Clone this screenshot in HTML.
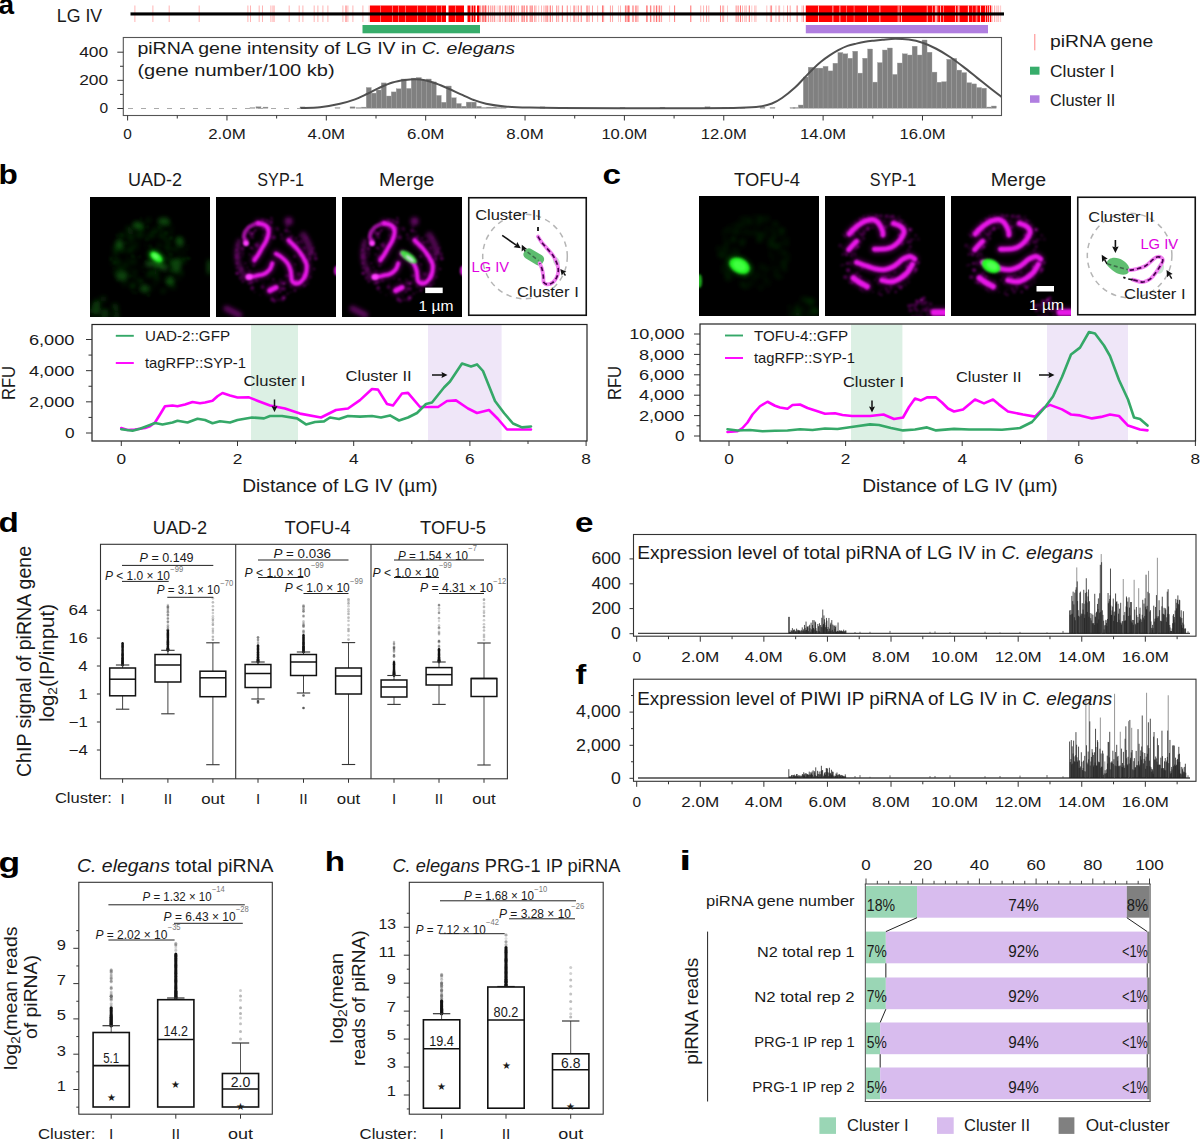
<!DOCTYPE html>
<html><head><meta charset="utf-8"><style>
html,body{margin:0;padding:0;background:#fff;}
svg{display:block;font-family:"Liberation Sans", sans-serif;}
</style></head><body>
<svg width="1200" height="1140" viewBox="0 0 1200 1140" fill="#1a1a1a">
<defs>
<filter id="b1" filterUnits="userSpaceOnUse" x="-20" y="-20" width="160" height="160"><feGaussianBlur stdDeviation="1.2"/></filter>
<filter id="b2" filterUnits="userSpaceOnUse" x="-20" y="-20" width="160" height="160"><feGaussianBlur stdDeviation="2.2"/></filter>
<filter id="b3" filterUnits="userSpaceOnUse" x="-20" y="-20" width="160" height="160"><feGaussianBlur stdDeviation="4"/></filter>
</defs>
<text x="-1.50" y="13.80" font-size="28" font-weight="bold" fill="#000">a</text>
<text x="56.80" y="22.10" font-size="18.8" textLength="45.40" lengthAdjust="spacingAndGlyphs">LG IV</text>
<rect x="505.91" y="5.5" width="0.8" height="16.5" fill="#ff3030" opacity="0.30"/>
<rect x="532.07" y="5.5" width="0.8" height="16.5" fill="#ff3030" opacity="0.28"/>
<rect x="522.87" y="5.5" width="0.8" height="16.5" fill="#ff3030" opacity="0.38"/>
<rect x="484.64" y="5.5" width="0.8" height="16.5" fill="#ff3030" opacity="0.43"/>
<rect x="483.00" y="5.5" width="0.8" height="16.5" fill="#ff3030" opacity="0.40"/>
<rect x="485.59" y="5.5" width="0.8" height="16.5" fill="#ff3030" opacity="0.28"/>
<rect x="513.96" y="5.5" width="0.8" height="16.5" fill="#ff3030" opacity="0.54"/>
<rect x="489.90" y="5.5" width="0.8" height="16.5" fill="#ff3030" opacity="0.33"/>
<rect x="530.19" y="5.5" width="0.8" height="16.5" fill="#ff3030" opacity="0.58"/>
<rect x="526.17" y="5.5" width="0.8" height="16.5" fill="#ff3030" opacity="0.39"/>
<rect x="558.10" y="5.5" width="0.8" height="16.5" fill="#ff3030" opacity="0.27"/>
<rect x="548.68" y="5.5" width="0.8" height="16.5" fill="#ff3030" opacity="0.35"/>
<rect x="491.54" y="5.5" width="0.8" height="16.5" fill="#ff3030" opacity="0.29"/>
<rect x="504.68" y="5.5" width="0.8" height="16.5" fill="#ff3030" opacity="0.54"/>
<rect x="494.46" y="5.5" width="0.8" height="16.5" fill="#ff3030" opacity="0.45"/>
<rect x="531.11" y="5.5" width="0.8" height="16.5" fill="#ff3030" opacity="0.38"/>
<rect x="523.82" y="5.5" width="0.8" height="16.5" fill="#ff3030" opacity="0.27"/>
<rect x="484.77" y="5.5" width="0.8" height="16.5" fill="#ff3030" opacity="0.32"/>
<rect x="534.43" y="5.5" width="0.8" height="16.5" fill="#ff3030" opacity="0.40"/>
<rect x="505.13" y="5.5" width="0.8" height="16.5" fill="#ff3030" opacity="0.45"/>
<rect x="516.25" y="5.5" width="0.8" height="16.5" fill="#ff3030" opacity="0.35"/>
<rect x="543.55" y="5.5" width="0.8" height="16.5" fill="#ff3030" opacity="0.49"/>
<rect x="499.53" y="5.5" width="0.8" height="16.5" fill="#ff3030" opacity="0.45"/>
<rect x="522.02" y="5.5" width="0.8" height="16.5" fill="#ff3030" opacity="0.56"/>
<rect x="538.36" y="5.5" width="0.8" height="16.5" fill="#ff3030" opacity="0.35"/>
<rect x="558.41" y="5.5" width="0.8" height="16.5" fill="#ff3030" opacity="0.29"/>
<rect x="513.45" y="5.5" width="0.8" height="16.5" fill="#ff3030" opacity="0.51"/>
<rect x="492.16" y="5.5" width="0.8" height="16.5" fill="#ff3030" opacity="0.42"/>
<rect x="483.14" y="5.5" width="0.8" height="16.5" fill="#ff3030" opacity="0.48"/>
<rect x="541.17" y="5.5" width="0.8" height="16.5" fill="#ff3030" opacity="0.45"/>
<rect x="550.04" y="5.5" width="0.8" height="16.5" fill="#ff3030" opacity="0.36"/>
<rect x="535.62" y="5.5" width="0.8" height="16.5" fill="#ff3030" opacity="0.46"/>
<rect x="526.39" y="5.5" width="0.8" height="16.5" fill="#ff3030" opacity="0.41"/>
<rect x="547.20" y="5.5" width="0.8" height="16.5" fill="#ff3030" opacity="0.58"/>
<rect x="517.93" y="5.5" width="0.8" height="16.5" fill="#ff3030" opacity="0.48"/>
<rect x="484.85" y="5.5" width="0.8" height="16.5" fill="#ff3030" opacity="0.50"/>
<rect x="531.77" y="5.5" width="0.8" height="16.5" fill="#ff3030" opacity="0.60"/>
<rect x="545.75" y="5.5" width="0.8" height="16.5" fill="#ff3030" opacity="0.35"/>
<rect x="510.86" y="5.5" width="0.8" height="16.5" fill="#ff3030" opacity="0.48"/>
<rect x="481.81" y="5.5" width="0.8" height="16.5" fill="#ff3030" opacity="0.41"/>
<rect x="493.44" y="5.5" width="0.8" height="16.5" fill="#ff3030" opacity="0.29"/>
<rect x="484.72" y="5.5" width="0.8" height="16.5" fill="#ff3030" opacity="0.52"/>
<rect x="490.35" y="5.5" width="0.8" height="16.5" fill="#ff3030" opacity="0.34"/>
<rect x="511.28" y="5.5" width="0.8" height="16.5" fill="#ff3030" opacity="0.55"/>
<rect x="486.45" y="5.5" width="0.8" height="16.5" fill="#ff3030" opacity="0.41"/>
<rect x="523.96" y="5.5" width="0.8" height="16.5" fill="#ff3030" opacity="0.56"/>
<rect x="545.54" y="5.5" width="0.8" height="16.5" fill="#ff3030" opacity="0.55"/>
<rect x="502.27" y="5.5" width="0.8" height="16.5" fill="#ff3030" opacity="0.40"/>
<rect x="508.70" y="5.5" width="0.8" height="16.5" fill="#ff3030" opacity="0.56"/>
<rect x="556.62" y="5.5" width="0.8" height="16.5" fill="#ff3030" opacity="0.30"/>
<rect x="494.10" y="5.5" width="0.8" height="16.5" fill="#ff3030" opacity="0.33"/>
<rect x="498.67" y="5.5" width="0.8" height="16.5" fill="#ff3030" opacity="0.42"/>
<rect x="527.13" y="5.5" width="0.8" height="16.5" fill="#ff3030" opacity="0.34"/>
<rect x="480.33" y="5.5" width="0.8" height="16.5" fill="#ff3030" opacity="0.40"/>
<rect x="509.54" y="5.5" width="0.8" height="16.5" fill="#ff3030" opacity="0.45"/>
<rect x="556.25" y="5.5" width="0.8" height="16.5" fill="#ff3030" opacity="0.49"/>
<rect x="521.24" y="5.5" width="0.8" height="16.5" fill="#ff3030" opacity="0.47"/>
<rect x="534.10" y="5.5" width="0.8" height="16.5" fill="#ff3030" opacity="0.27"/>
<rect x="551.96" y="5.5" width="0.8" height="16.5" fill="#ff3030" opacity="0.52"/>
<rect x="549.96" y="5.5" width="0.8" height="16.5" fill="#ff3030" opacity="0.53"/>
<rect x="511.39" y="5.5" width="0.8" height="16.5" fill="#ff3030" opacity="0.39"/>
<rect x="488.28" y="5.5" width="0.8" height="16.5" fill="#ff3030" opacity="0.47"/>
<rect x="484.98" y="5.5" width="0.8" height="16.5" fill="#ff3030" opacity="0.27"/>
<rect x="496.70" y="5.5" width="0.8" height="16.5" fill="#ff3030" opacity="0.31"/>
<rect x="507.20" y="5.5" width="0.8" height="16.5" fill="#ff3030" opacity="0.27"/>
<rect x="480.02" y="5.5" width="0.8" height="16.5" fill="#ff3030" opacity="0.30"/>
<rect x="488.12" y="5.5" width="0.8" height="16.5" fill="#ff3030" opacity="0.38"/>
<rect x="482.04" y="5.5" width="0.8" height="16.5" fill="#ff3030" opacity="0.56"/>
<rect x="529.13" y="5.5" width="0.8" height="16.5" fill="#ff3030" opacity="0.30"/>
<rect x="500.18" y="5.5" width="0.8" height="16.5" fill="#ff3030" opacity="0.37"/>
<rect x="589.13" y="5.5" width="0.8" height="16.5" fill="#ff3030" opacity="0.29"/>
<rect x="627.91" y="5.5" width="0.8" height="16.5" fill="#ff3030" opacity="0.60"/>
<rect x="597.28" y="5.5" width="0.8" height="16.5" fill="#ff3030" opacity="0.42"/>
<rect x="566.87" y="5.5" width="0.8" height="16.5" fill="#ff3030" opacity="0.29"/>
<rect x="587.41" y="5.5" width="0.8" height="16.5" fill="#ff3030" opacity="0.34"/>
<rect x="626.31" y="5.5" width="0.8" height="16.5" fill="#ff3030" opacity="0.31"/>
<rect x="561.85" y="5.5" width="0.8" height="16.5" fill="#ff3030" opacity="0.58"/>
<rect x="602.26" y="5.5" width="0.8" height="16.5" fill="#ff3030" opacity="0.30"/>
<rect x="603.45" y="5.5" width="0.8" height="16.5" fill="#ff3030" opacity="0.26"/>
<rect x="602.25" y="5.5" width="0.8" height="16.5" fill="#ff3030" opacity="0.59"/>
<rect x="629.07" y="5.5" width="0.8" height="16.5" fill="#ff3030" opacity="0.49"/>
<rect x="580.89" y="5.5" width="0.8" height="16.5" fill="#ff3030" opacity="0.38"/>
<rect x="573.36" y="5.5" width="0.8" height="16.5" fill="#ff3030" opacity="0.52"/>
<rect x="602.61" y="5.5" width="0.8" height="16.5" fill="#ff3030" opacity="0.52"/>
<rect x="586.37" y="5.5" width="0.8" height="16.5" fill="#ff3030" opacity="0.33"/>
<rect x="624.92" y="5.5" width="0.8" height="16.5" fill="#ff3030" opacity="0.59"/>
<rect x="628.21" y="5.5" width="0.8" height="16.5" fill="#ff3030" opacity="0.53"/>
<rect x="625.47" y="5.5" width="0.8" height="16.5" fill="#ff3030" opacity="0.51"/>
<rect x="578.14" y="5.5" width="0.8" height="16.5" fill="#ff3030" opacity="0.43"/>
<rect x="588.45" y="5.5" width="0.8" height="16.5" fill="#ff3030" opacity="0.26"/>
<rect x="562.23" y="5.5" width="0.8" height="16.5" fill="#ff3030" opacity="0.35"/>
<rect x="580.73" y="5.5" width="0.8" height="16.5" fill="#ff3030" opacity="0.49"/>
<rect x="636.52" y="5.5" width="0.8" height="16.5" fill="#ff3030" opacity="0.41"/>
<rect x="634.96" y="5.5" width="0.8" height="16.5" fill="#ff3030" opacity="0.60"/>
<rect x="636.40" y="5.5" width="0.8" height="16.5" fill="#ff3030" opacity="0.38"/>
<rect x="577.64" y="5.5" width="0.8" height="16.5" fill="#ff3030" opacity="0.33"/>
<rect x="575.74" y="5.5" width="0.8" height="16.5" fill="#ff3030" opacity="0.32"/>
<rect x="609.93" y="5.5" width="0.8" height="16.5" fill="#ff3030" opacity="0.57"/>
<rect x="627.23" y="5.5" width="0.8" height="16.5" fill="#ff3030" opacity="0.42"/>
<rect x="612.24" y="5.5" width="0.8" height="16.5" fill="#ff3030" opacity="0.53"/>
<rect x="566.78" y="5.5" width="0.8" height="16.5" fill="#ff3030" opacity="0.48"/>
<rect x="632.78" y="5.5" width="0.8" height="16.5" fill="#ff3030" opacity="0.52"/>
<rect x="620.01" y="5.5" width="0.8" height="16.5" fill="#ff3030" opacity="0.42"/>
<rect x="574.28" y="5.5" width="0.8" height="16.5" fill="#ff3030" opacity="0.53"/>
<rect x="586.60" y="5.5" width="0.8" height="16.5" fill="#ff3030" opacity="0.53"/>
<rect x="637.73" y="5.5" width="0.8" height="16.5" fill="#ff3030" opacity="0.39"/>
<rect x="592.11" y="5.5" width="0.8" height="16.5" fill="#ff3030" opacity="0.58"/>
<rect x="617.98" y="5.5" width="0.8" height="16.5" fill="#ff3030" opacity="0.31"/>
<rect x="570.16" y="5.5" width="0.8" height="16.5" fill="#ff3030" opacity="0.30"/>
<rect x="632.39" y="5.5" width="0.8" height="16.5" fill="#ff3030" opacity="0.53"/>
<rect x="646.82" y="5.5" width="0.8" height="16.5" fill="#ff3030" opacity="0.54"/>
<rect x="674.35" y="5.5" width="0.8" height="16.5" fill="#ff3030" opacity="0.48"/>
<rect x="653.56" y="5.5" width="0.8" height="16.5" fill="#ff3030" opacity="0.44"/>
<rect x="646.32" y="5.5" width="0.8" height="16.5" fill="#ff3030" opacity="0.25"/>
<rect x="674.04" y="5.5" width="0.8" height="16.5" fill="#ff3030" opacity="0.48"/>
<rect x="659.38" y="5.5" width="0.8" height="16.5" fill="#ff3030" opacity="0.58"/>
<rect x="656.32" y="5.5" width="0.8" height="16.5" fill="#ff3030" opacity="0.56"/>
<rect x="669.26" y="5.5" width="0.8" height="16.5" fill="#ff3030" opacity="0.32"/>
<rect x="650.31" y="5.5" width="0.8" height="16.5" fill="#ff3030" opacity="0.35"/>
<rect x="649.94" y="5.5" width="0.8" height="16.5" fill="#ff3030" opacity="0.46"/>
<rect x="650.56" y="5.5" width="0.8" height="16.5" fill="#ff3030" opacity="0.40"/>
<rect x="646.33" y="5.5" width="0.8" height="16.5" fill="#ff3030" opacity="0.57"/>
<rect x="653.67" y="5.5" width="0.8" height="16.5" fill="#ff3030" opacity="0.41"/>
<rect x="661.25" y="5.5" width="0.8" height="16.5" fill="#ff3030" opacity="0.57"/>
<rect x="655.88" y="5.5" width="0.8" height="16.5" fill="#ff3030" opacity="0.57"/>
<rect x="658.55" y="5.5" width="0.8" height="16.5" fill="#ff3030" opacity="0.44"/>
<rect x="659.28" y="5.5" width="0.8" height="16.5" fill="#ff3030" opacity="0.26"/>
<rect x="656.52" y="5.5" width="0.8" height="16.5" fill="#ff3030" opacity="0.31"/>
<rect x="690.02" y="5.5" width="0.8" height="16.5" fill="#ff3030" opacity="0.53"/>
<rect x="690.69" y="5.5" width="0.8" height="16.5" fill="#ff3030" opacity="0.42"/>
<rect x="708.43" y="5.5" width="0.8" height="16.5" fill="#ff3030" opacity="0.44"/>
<rect x="703.24" y="5.5" width="0.8" height="16.5" fill="#ff3030" opacity="0.43"/>
<rect x="706.22" y="5.5" width="0.8" height="16.5" fill="#ff3030" opacity="0.52"/>
<rect x="700.38" y="5.5" width="0.8" height="16.5" fill="#ff3030" opacity="0.45"/>
<rect x="727.19" y="5.5" width="0.8" height="16.5" fill="#ff3030" opacity="0.35"/>
<rect x="748.66" y="5.5" width="0.8" height="16.5" fill="#ff3030" opacity="0.43"/>
<rect x="740.03" y="5.5" width="0.8" height="16.5" fill="#ff3030" opacity="0.52"/>
<rect x="754.41" y="5.5" width="0.8" height="16.5" fill="#ff3030" opacity="0.41"/>
<rect x="742.11" y="5.5" width="0.8" height="16.5" fill="#ff3030" opacity="0.43"/>
<rect x="738.00" y="5.5" width="0.8" height="16.5" fill="#ff3030" opacity="0.49"/>
<rect x="735.55" y="5.5" width="0.8" height="16.5" fill="#ff3030" opacity="0.44"/>
<rect x="736.60" y="5.5" width="0.8" height="16.5" fill="#ff3030" opacity="0.58"/>
<rect x="745.67" y="5.5" width="0.8" height="16.5" fill="#ff3030" opacity="0.56"/>
<rect x="755.63" y="5.5" width="0.8" height="16.5" fill="#ff3030" opacity="0.34"/>
<rect x="739.94" y="5.5" width="0.8" height="16.5" fill="#ff3030" opacity="0.58"/>
<rect x="751.44" y="5.5" width="0.8" height="16.5" fill="#ff3030" opacity="0.30"/>
<rect x="721.99" y="5.5" width="0.8" height="16.5" fill="#ff3030" opacity="0.40"/>
<rect x="719.97" y="5.5" width="0.8" height="16.5" fill="#ff3030" opacity="0.33"/>
<rect x="720.00" y="5.5" width="0.8" height="16.5" fill="#ff3030" opacity="0.48"/>
<rect x="749.14" y="5.5" width="0.8" height="16.5" fill="#ff3030" opacity="0.56"/>
<rect x="723.33" y="5.5" width="0.8" height="16.5" fill="#ff3030" opacity="0.50"/>
<rect x="744.07" y="5.5" width="0.8" height="16.5" fill="#ff3030" opacity="0.30"/>
<rect x="787.19" y="5.5" width="0.8" height="16.5" fill="#ff3030" opacity="0.59"/>
<rect x="771.27" y="5.5" width="0.8" height="16.5" fill="#ff3030" opacity="0.58"/>
<rect x="775.56" y="5.5" width="0.8" height="16.5" fill="#ff3030" opacity="0.42"/>
<rect x="789.76" y="5.5" width="0.8" height="16.5" fill="#ff3030" opacity="0.54"/>
<rect x="769.88" y="5.5" width="0.8" height="16.5" fill="#ff3030" opacity="0.40"/>
<rect x="778.37" y="5.5" width="0.8" height="16.5" fill="#ff3030" opacity="0.37"/>
<rect x="770.70" y="5.5" width="0.8" height="16.5" fill="#ff3030" opacity="0.36"/>
<rect x="783.33" y="5.5" width="0.8" height="16.5" fill="#ff3030" opacity="0.26"/>
<rect x="779.30" y="5.5" width="0.8" height="16.5" fill="#ff3030" opacity="0.40"/>
<rect x="766.43" y="5.5" width="0.8" height="16.5" fill="#ff3030" opacity="0.37"/>
<rect x="801.62" y="5.5" width="0.8" height="16.5" fill="#ff3030" opacity="0.43"/>
<rect x="796.58" y="5.5" width="0.8" height="16.5" fill="#ff3030" opacity="0.59"/>
<rect x="803.10" y="5.5" width="0.8" height="16.5" fill="#ff3030" opacity="0.59"/>
<rect x="796.94" y="5.5" width="0.8" height="16.5" fill="#ff3030" opacity="0.34"/>
<rect x="988.59" y="5.5" width="0.8" height="16.5" fill="#ff3030" opacity="0.52"/>
<rect x="992.06" y="5.5" width="0.8" height="16.5" fill="#ff3030" opacity="0.30"/>
<rect x="994.33" y="5.5" width="0.8" height="16.5" fill="#ff3030" opacity="0.57"/>
<rect x="1000.28" y="5.5" width="0.8" height="16.5" fill="#ff3030" opacity="0.34"/>
<rect x="990.24" y="5.5" width="0.8" height="16.5" fill="#ff3030" opacity="0.57"/>
<rect x="996.56" y="5.5" width="0.8" height="16.5" fill="#ff3030" opacity="0.50"/>
<rect x="989.34" y="5.5" width="0.8" height="16.5" fill="#ff3030" opacity="0.27"/>
<rect x="998.32" y="5.5" width="0.8" height="16.5" fill="#ff3030" opacity="0.40"/>
<rect x="134.50" y="5.5" width="0.8" height="16.5" fill="#ff3030" opacity="0.45"/>
<rect x="152.50" y="5.5" width="0.8" height="16.5" fill="#ff3030" opacity="0.45"/>
<rect x="168.75" y="5.5" width="0.8" height="16.5" fill="#ff3030" opacity="0.45"/>
<rect x="198.75" y="5.5" width="0.8" height="16.5" fill="#ff3030" opacity="0.45"/>
<rect x="247.50" y="5.5" width="0.8" height="16.5" fill="#ff3030" opacity="0.45"/>
<rect x="250.00" y="5.5" width="0.8" height="16.5" fill="#ff3030" opacity="0.45"/>
<rect x="258.75" y="5.5" width="0.8" height="16.5" fill="#ff3030" opacity="0.45"/>
<rect x="262.00" y="5.5" width="0.8" height="16.5" fill="#ff3030" opacity="0.45"/>
<rect x="270.50" y="5.5" width="0.8" height="16.5" fill="#ff3030" opacity="0.45"/>
<rect x="272.50" y="5.5" width="0.8" height="16.5" fill="#ff3030" opacity="0.45"/>
<rect x="273.75" y="5.5" width="0.8" height="16.5" fill="#ff3030" opacity="0.45"/>
<rect x="288.75" y="5.5" width="0.8" height="16.5" fill="#ff3030" opacity="0.45"/>
<rect x="298.75" y="5.5" width="0.8" height="16.5" fill="#ff3030" opacity="0.45"/>
<rect x="302.50" y="5.5" width="0.8" height="16.5" fill="#ff3030" opacity="0.45"/>
<rect x="313.75" y="5.5" width="0.8" height="16.5" fill="#ff3030" opacity="0.45"/>
<rect x="317.50" y="5.5" width="0.8" height="16.5" fill="#ff3030" opacity="0.45"/>
<rect x="322.50" y="5.5" width="0.8" height="16.5" fill="#ff3030" opacity="0.45"/>
<rect x="327.50" y="5.5" width="0.8" height="16.5" fill="#ff3030" opacity="0.45"/>
<rect x="342.50" y="5.5" width="0.8" height="16.5" fill="#ff3030" opacity="0.45"/>
<rect x="345.00" y="5.5" width="0.8" height="16.5" fill="#ff3030" opacity="0.45"/>
<rect x="346.00" y="5.5" width="0.8" height="16.5" fill="#ff3030" opacity="0.45"/>
<rect x="347.50" y="5.5" width="0.8" height="16.5" fill="#ff3030" opacity="0.45"/>
<rect x="352.50" y="5.5" width="0.8" height="16.5" fill="#ff3030" opacity="0.45"/>
<rect x="362.50" y="5.5" width="0.8" height="16.5" fill="#ff3030" opacity="0.45"/>
<rect x="368.75" y="5.5" width="0.8" height="16.5" fill="#ff3030" opacity="0.45"/>
<rect x="370.00" y="5.50" width="76.00" height="16.50" fill="#ff0000"/>
<rect x="448.50" y="5.50" width="15.50" height="16.50" fill="#ff0000"/>
<rect x="467.50" y="5.50" width="3.00" height="16.50" fill="#ff0000"/>
<rect x="471.50" y="5.50" width="2.00" height="16.50" fill="#ff0000"/>
<rect x="474.00" y="5.50" width="1.50" height="16.50" fill="#ff0000"/>
<rect x="477.00" y="5.50" width="2.50" height="16.50" fill="#ff0000"/>
<rect x="805.80" y="5.50" width="185.50" height="16.50" fill="#ff0000"/>
<rect x="818.00" y="5.50" width="0.80" height="16.50" fill="#fff" opacity="0.85"/>
<rect x="832.50" y="5.50" width="0.80" height="16.50" fill="#fff" opacity="0.85"/>
<rect x="839.50" y="5.50" width="0.80" height="16.50" fill="#fff" opacity="0.85"/>
<rect x="867.00" y="5.50" width="0.80" height="16.50" fill="#fff" opacity="0.85"/>
<rect x="879.50" y="5.50" width="0.80" height="16.50" fill="#fff" opacity="0.85"/>
<rect x="901.00" y="5.50" width="0.80" height="16.50" fill="#fff" opacity="0.85"/>
<rect x="940.00" y="5.50" width="0.80" height="16.50" fill="#fff" opacity="0.85"/>
<rect x="955.00" y="5.50" width="0.80" height="16.50" fill="#fff" opacity="0.85"/>
<rect x="968.00" y="5.50" width="0.80" height="16.50" fill="#fff" opacity="0.85"/>
<rect x="980.00" y="5.50" width="0.80" height="16.50" fill="#fff" opacity="0.85"/>
<rect x="985.00" y="5.50" width="0.80" height="16.50" fill="#fff" opacity="0.85"/>
<rect x="846.41" y="5.50" width="0.54" height="16.50" fill="#fff" opacity="0.73"/>
<rect x="958.57" y="5.50" width="0.73" height="16.50" fill="#fff" opacity="0.64"/>
<rect x="967.84" y="5.50" width="0.70" height="16.50" fill="#fff" opacity="0.74"/>
<rect x="987.43" y="5.50" width="0.50" height="16.50" fill="#fff" opacity="0.73"/>
<rect x="980.14" y="5.50" width="0.51" height="16.50" fill="#fff" opacity="0.53"/>
<rect x="976.72" y="5.50" width="0.72" height="16.50" fill="#fff" opacity="0.48"/>
<rect x="934.86" y="5.50" width="0.52" height="16.50" fill="#fff" opacity="0.62"/>
<rect x="972.26" y="5.50" width="0.45" height="16.50" fill="#fff" opacity="0.74"/>
<rect x="897.72" y="5.50" width="0.85" height="16.50" fill="#fff" opacity="0.74"/>
<rect x="957.67" y="5.50" width="0.45" height="16.50" fill="#fff" opacity="0.71"/>
<rect x="936.39" y="5.50" width="0.67" height="16.50" fill="#fff" opacity="0.71"/>
<rect x="937.29" y="5.50" width="0.96" height="16.50" fill="#fff" opacity="0.42"/>
<rect x="926.78" y="5.50" width="0.85" height="16.50" fill="#fff" opacity="0.78"/>
<rect x="943.15" y="5.50" width="0.68" height="16.50" fill="#fff" opacity="0.70"/>
<rect x="853.66" y="5.50" width="0.97" height="16.50" fill="#fff" opacity="0.41"/>
<rect x="932.37" y="5.50" width="0.61" height="16.50" fill="#fff" opacity="0.80"/>
<rect x="989.14" y="5.50" width="0.94" height="16.50" fill="#fff" opacity="0.68"/>
<rect x="958.29" y="5.50" width="0.82" height="16.50" fill="#fff" opacity="0.44"/>
<rect x="935.51" y="5.50" width="0.91" height="16.50" fill="#fff" opacity="0.77"/>
<rect x="899.09" y="5.50" width="0.75" height="16.50" fill="#fff" opacity="0.42"/>
<rect x="975.64" y="5.50" width="0.85" height="16.50" fill="#fff" opacity="0.41"/>
<rect x="935.29" y="5.50" width="0.95" height="16.50" fill="#fff" opacity="0.45"/>
<rect x="958.55" y="5.50" width="0.93" height="16.50" fill="#fff" opacity="0.45"/>
<rect x="976.32" y="5.50" width="0.45" height="16.50" fill="#fff" opacity="0.47"/>
<rect x="987.50" y="5.50" width="0.54" height="16.50" fill="#fff" opacity="0.60"/>
<rect x="988.89" y="5.50" width="0.83" height="16.50" fill="#fff" opacity="0.64"/>
<rect x="380.00" y="5.50" width="0.70" height="16.50" fill="#fff" opacity="0.6"/>
<rect x="392.00" y="5.50" width="0.70" height="16.50" fill="#fff" opacity="0.6"/>
<rect x="398.00" y="5.50" width="0.70" height="16.50" fill="#fff" opacity="0.6"/>
<rect x="405.00" y="5.50" width="0.70" height="16.50" fill="#fff" opacity="0.6"/>
<rect x="417.00" y="5.50" width="0.70" height="16.50" fill="#fff" opacity="0.6"/>
<rect x="426.00" y="5.50" width="0.70" height="16.50" fill="#fff" opacity="0.6"/>
<rect x="436.00" y="5.50" width="0.70" height="16.50" fill="#fff" opacity="0.6"/>
<rect x="441.00" y="5.50" width="0.70" height="16.50" fill="#fff" opacity="0.6"/>
<rect x="455.00" y="5.50" width="0.70" height="16.50" fill="#fff" opacity="0.6"/>
<rect x="130.50" y="12.40" width="873.50" height="3.10" fill="#000"/>
<rect x="362.50" y="25.00" width="117.50" height="8.30" fill="#37ad6b"/>
<rect x="805.80" y="25.00" width="182.20" height="8.30" fill="#b07ee0"/>
<rect x="361.25" y="107.10" width="5" height="1.20" fill="#808080" stroke="#a0a0a0" stroke-width="0.35"/>
<rect x="366.25" y="87.50" width="5" height="20.80" fill="#808080" stroke="#a0a0a0" stroke-width="0.35"/>
<rect x="371.25" y="93.10" width="5" height="15.20" fill="#808080" stroke="#a0a0a0" stroke-width="0.35"/>
<rect x="376.25" y="90.00" width="5" height="18.30" fill="#808080" stroke="#a0a0a0" stroke-width="0.35"/>
<rect x="381.25" y="82.90" width="5" height="25.40" fill="#808080" stroke="#a0a0a0" stroke-width="0.35"/>
<rect x="386.25" y="96.00" width="5" height="12.30" fill="#808080" stroke="#a0a0a0" stroke-width="0.35"/>
<rect x="391.25" y="91.90" width="5" height="16.40" fill="#808080" stroke="#a0a0a0" stroke-width="0.35"/>
<rect x="396.25" y="88.75" width="5" height="19.55" fill="#808080" stroke="#a0a0a0" stroke-width="0.35"/>
<rect x="401.25" y="79.00" width="5" height="29.30" fill="#808080" stroke="#a0a0a0" stroke-width="0.35"/>
<rect x="406.25" y="88.40" width="5" height="19.90" fill="#808080" stroke="#a0a0a0" stroke-width="0.35"/>
<rect x="411.25" y="78.10" width="5" height="30.20" fill="#808080" stroke="#a0a0a0" stroke-width="0.35"/>
<rect x="416.25" y="77.50" width="5" height="30.80" fill="#808080" stroke="#a0a0a0" stroke-width="0.35"/>
<rect x="421.25" y="80.25" width="5" height="28.05" fill="#808080" stroke="#a0a0a0" stroke-width="0.35"/>
<rect x="426.25" y="79.00" width="5" height="29.30" fill="#808080" stroke="#a0a0a0" stroke-width="0.35"/>
<rect x="431.25" y="81.90" width="5" height="26.40" fill="#808080" stroke="#a0a0a0" stroke-width="0.35"/>
<rect x="436.25" y="95.40" width="5" height="12.90" fill="#808080" stroke="#a0a0a0" stroke-width="0.35"/>
<rect x="441.25" y="102.25" width="5" height="6.05" fill="#808080" stroke="#a0a0a0" stroke-width="0.35"/>
<rect x="446.25" y="86.00" width="5" height="22.30" fill="#808080" stroke="#a0a0a0" stroke-width="0.35"/>
<rect x="451.25" y="97.75" width="5" height="10.55" fill="#808080" stroke="#a0a0a0" stroke-width="0.35"/>
<rect x="456.25" y="103.50" width="5" height="4.80" fill="#808080" stroke="#a0a0a0" stroke-width="0.35"/>
<rect x="461.25" y="106.25" width="5" height="2.05" fill="#808080" stroke="#a0a0a0" stroke-width="0.35"/>
<rect x="466.25" y="102.10" width="5" height="6.20" fill="#808080" stroke="#a0a0a0" stroke-width="0.35"/>
<rect x="471.25" y="102.10" width="5" height="6.20" fill="#808080" stroke="#a0a0a0" stroke-width="0.35"/>
<rect x="476.25" y="106.25" width="5" height="2.05" fill="#808080" stroke="#a0a0a0" stroke-width="0.35"/>
<rect x="481.25" y="107.50" width="5" height="0.80" fill="#808080" stroke="#a0a0a0" stroke-width="0.35"/>
<rect x="486.25" y="107.10" width="5" height="1.20" fill="#808080" stroke="#a0a0a0" stroke-width="0.35"/>
<rect x="491.25" y="107.10" width="5" height="1.20" fill="#808080" stroke="#a0a0a0" stroke-width="0.35"/>
<rect x="496.25" y="107.60" width="5" height="0.70" fill="#808080" stroke="#a0a0a0" stroke-width="0.35"/>
<rect x="501.25" y="107.50" width="5" height="0.80" fill="#808080" stroke="#a0a0a0" stroke-width="0.35"/>
<rect x="798.30" y="105.00" width="5" height="3.30" fill="#808080" stroke="#a0a0a0" stroke-width="0.35"/>
<rect x="803.25" y="77.00" width="5" height="31.30" fill="#808080" stroke="#a0a0a0" stroke-width="0.35"/>
<rect x="808.20" y="67.20" width="5" height="41.10" fill="#808080" stroke="#a0a0a0" stroke-width="0.35"/>
<rect x="813.15" y="68.10" width="5" height="40.20" fill="#808080" stroke="#a0a0a0" stroke-width="0.35"/>
<rect x="818.10" y="68.10" width="5" height="40.20" fill="#808080" stroke="#a0a0a0" stroke-width="0.35"/>
<rect x="823.05" y="66.30" width="5" height="42.00" fill="#808080" stroke="#a0a0a0" stroke-width="0.35"/>
<rect x="828.00" y="70.90" width="5" height="37.40" fill="#808080" stroke="#a0a0a0" stroke-width="0.35"/>
<rect x="832.95" y="63.20" width="5" height="45.10" fill="#808080" stroke="#a0a0a0" stroke-width="0.35"/>
<rect x="837.90" y="52.50" width="5" height="55.80" fill="#808080" stroke="#a0a0a0" stroke-width="0.35"/>
<rect x="842.85" y="53.80" width="5" height="54.50" fill="#808080" stroke="#a0a0a0" stroke-width="0.35"/>
<rect x="847.80" y="58.20" width="5" height="50.10" fill="#808080" stroke="#a0a0a0" stroke-width="0.35"/>
<rect x="852.75" y="51.20" width="5" height="57.10" fill="#808080" stroke="#a0a0a0" stroke-width="0.35"/>
<rect x="857.70" y="73.10" width="5" height="35.20" fill="#808080" stroke="#a0a0a0" stroke-width="0.35"/>
<rect x="862.65" y="58.20" width="5" height="50.10" fill="#808080" stroke="#a0a0a0" stroke-width="0.35"/>
<rect x="867.60" y="49.00" width="5" height="59.30" fill="#808080" stroke="#a0a0a0" stroke-width="0.35"/>
<rect x="872.55" y="82.10" width="5" height="26.20" fill="#808080" stroke="#a0a0a0" stroke-width="0.35"/>
<rect x="877.50" y="62.60" width="5" height="45.70" fill="#808080" stroke="#a0a0a0" stroke-width="0.35"/>
<rect x="882.45" y="50.00" width="5" height="58.30" fill="#808080" stroke="#a0a0a0" stroke-width="0.35"/>
<rect x="887.40" y="48.00" width="5" height="60.30" fill="#808080" stroke="#a0a0a0" stroke-width="0.35"/>
<rect x="892.35" y="74.40" width="5" height="33.90" fill="#808080" stroke="#a0a0a0" stroke-width="0.35"/>
<rect x="897.30" y="63.00" width="5" height="45.30" fill="#808080" stroke="#a0a0a0" stroke-width="0.35"/>
<rect x="902.25" y="53.80" width="5" height="54.50" fill="#808080" stroke="#a0a0a0" stroke-width="0.35"/>
<rect x="907.20" y="55.00" width="5" height="53.30" fill="#808080" stroke="#a0a0a0" stroke-width="0.35"/>
<rect x="912.15" y="46.20" width="5" height="62.10" fill="#808080" stroke="#a0a0a0" stroke-width="0.35"/>
<rect x="917.10" y="55.00" width="5" height="53.30" fill="#808080" stroke="#a0a0a0" stroke-width="0.35"/>
<rect x="922.05" y="40.00" width="5" height="68.30" fill="#808080" stroke="#a0a0a0" stroke-width="0.35"/>
<rect x="927.00" y="52.20" width="5" height="56.10" fill="#808080" stroke="#a0a0a0" stroke-width="0.35"/>
<rect x="931.95" y="72.10" width="5" height="36.20" fill="#808080" stroke="#a0a0a0" stroke-width="0.35"/>
<rect x="936.90" y="82.20" width="5" height="26.10" fill="#808080" stroke="#a0a0a0" stroke-width="0.35"/>
<rect x="941.85" y="81.70" width="5" height="26.60" fill="#808080" stroke="#a0a0a0" stroke-width="0.35"/>
<rect x="946.80" y="59.30" width="5" height="49.00" fill="#808080" stroke="#a0a0a0" stroke-width="0.35"/>
<rect x="951.75" y="58.40" width="5" height="49.90" fill="#808080" stroke="#a0a0a0" stroke-width="0.35"/>
<rect x="956.70" y="70.10" width="5" height="38.20" fill="#808080" stroke="#a0a0a0" stroke-width="0.35"/>
<rect x="961.65" y="72.60" width="5" height="35.70" fill="#808080" stroke="#a0a0a0" stroke-width="0.35"/>
<rect x="966.60" y="82.70" width="5" height="25.60" fill="#808080" stroke="#a0a0a0" stroke-width="0.35"/>
<rect x="971.55" y="83.90" width="5" height="24.40" fill="#808080" stroke="#a0a0a0" stroke-width="0.35"/>
<rect x="976.50" y="87.50" width="5" height="20.80" fill="#808080" stroke="#a0a0a0" stroke-width="0.35"/>
<rect x="981.45" y="88.20" width="5" height="20.10" fill="#808080" stroke="#a0a0a0" stroke-width="0.35"/>
<rect x="986.40" y="107.00" width="5" height="1.30" fill="#808080" stroke="#a0a0a0" stroke-width="0.35"/>
<rect x="991.35" y="106.00" width="5" height="2.30" fill="#808080" stroke="#a0a0a0" stroke-width="0.35"/>
<rect x="250.00" y="107.63" width="5" height="0.67" fill="#808080" stroke="#a0a0a0" stroke-width="0.35"/>
<rect x="256.00" y="106.76" width="5" height="1.54" fill="#808080" stroke="#a0a0a0" stroke-width="0.35"/>
<rect x="263.00" y="107.07" width="5" height="1.23" fill="#808080" stroke="#a0a0a0" stroke-width="0.35"/>
<rect x="300.00" y="106.90" width="5" height="1.40" fill="#808080" stroke="#a0a0a0" stroke-width="0.35"/>
<rect x="335.00" y="107.62" width="5" height="0.68" fill="#808080" stroke="#a0a0a0" stroke-width="0.35"/>
<rect x="350.00" y="106.84" width="5" height="1.46" fill="#808080" stroke="#a0a0a0" stroke-width="0.35"/>
<rect x="356.00" y="107.63" width="5" height="0.67" fill="#808080" stroke="#a0a0a0" stroke-width="0.35"/>
<rect x="540.00" y="106.84" width="5" height="1.46" fill="#808080" stroke="#a0a0a0" stroke-width="0.35"/>
<rect x="560.00" y="107.25" width="5" height="1.05" fill="#808080" stroke="#a0a0a0" stroke-width="0.35"/>
<rect x="620.00" y="107.36" width="5" height="0.94" fill="#808080" stroke="#a0a0a0" stroke-width="0.35"/>
<rect x="660.00" y="107.15" width="5" height="1.15" fill="#808080" stroke="#a0a0a0" stroke-width="0.35"/>
<rect x="705.00" y="106.77" width="5" height="1.53" fill="#808080" stroke="#a0a0a0" stroke-width="0.35"/>
<rect x="722.00" y="107.43" width="5" height="0.87" fill="#808080" stroke="#a0a0a0" stroke-width="0.35"/>
<rect x="740.00" y="107.57" width="5" height="0.73" fill="#808080" stroke="#a0a0a0" stroke-width="0.35"/>
<rect x="760.00" y="107.17" width="5" height="1.13" fill="#808080" stroke="#a0a0a0" stroke-width="0.35"/>
<rect x="770.00" y="107.46" width="5" height="0.84" fill="#808080" stroke="#a0a0a0" stroke-width="0.35"/>
<rect x="790.00" y="107.59" width="5" height="0.71" fill="#808080" stroke="#a0a0a0" stroke-width="0.35"/>
<rect x="793.00" y="107.54" width="5" height="0.76" fill="#808080" stroke="#a0a0a0" stroke-width="0.35"/>
<line x1="128" y1="108.5" x2="300" y2="108.5" stroke="#aaa" stroke-width="1" stroke-dasharray="5,8"/>
<path d="M300.50,108.00 C303.75,107.88 313.42,108.00 320.00,107.30 C326.58,106.60 334.17,105.12 340.00,103.80 C345.83,102.48 350.42,101.08 355.00,99.40 C359.58,97.73 363.33,95.73 367.50,93.75 C371.67,91.77 375.83,89.38 380.00,87.50 C384.17,85.62 388.33,83.75 392.50,82.50 C396.67,81.25 401.25,80.55 405.00,80.00 C408.75,79.45 411.67,79.17 415.00,79.20 C418.33,79.23 421.50,79.48 425.00,80.20 C428.50,80.92 432.04,82.08 436.00,83.50 C439.96,84.92 444.58,86.93 448.75,88.75 C452.92,90.57 456.83,92.53 461.00,94.40 C465.17,96.28 469.58,98.44 473.75,100.00 C477.92,101.56 480.79,102.67 486.00,103.75 C491.21,104.83 497.67,105.86 505.00,106.50 C512.33,107.14 520.83,107.35 530.00,107.60 C539.17,107.85 545.00,107.90 560.00,108.00 C575.00,108.10 596.67,108.17 620.00,108.20 C643.33,108.23 680.00,108.27 700.00,108.20 C720.00,108.13 730.00,108.08 740.00,107.80 C750.00,107.52 754.67,107.22 760.00,106.50 C765.33,105.78 768.33,104.92 772.00,103.50 C775.67,102.08 778.17,100.67 782.00,98.00 C785.83,95.33 791.38,90.75 795.00,87.50 C798.62,84.25 800.83,81.50 803.75,78.50 C806.67,75.50 809.58,72.33 812.50,69.50 C815.42,66.67 818.33,63.90 821.25,61.50 C824.17,59.10 827.08,57.03 830.00,55.10 C832.92,53.17 835.83,51.43 838.75,49.90 C841.67,48.37 844.58,46.95 847.50,45.90 C850.42,44.85 853.33,44.28 856.25,43.60 C859.17,42.92 862.08,42.28 865.00,41.80 C867.92,41.32 870.83,41.03 873.75,40.70 C876.67,40.37 878.96,40.13 882.50,39.80 C886.04,39.47 890.62,38.73 895.00,38.70 C899.38,38.67 904.17,38.92 908.75,39.60 C913.33,40.28 917.92,41.27 922.50,42.80 C927.08,44.32 931.67,46.38 936.25,48.75 C940.83,51.12 945.42,53.94 950.00,57.00 C954.58,60.06 959.17,63.58 963.75,67.10 C968.33,70.62 972.92,74.45 977.50,78.10 C982.08,81.75 987.25,85.87 991.25,89.00 C995.25,92.13 999.79,95.58 1001.50,96.90" fill="none" stroke="#505050" stroke-width="2"/>
<rect x="123.30" y="37.50" width="878.20" height="78.00" fill="none" stroke="#555" stroke-width="1.1"/>
<line x1="117.30" y1="52.20" x2="123.30" y2="52.20" stroke="#333" stroke-width="1"/>
<text x="108.20" y="57.10" font-size="15.5" text-anchor="end" textLength="29.00" lengthAdjust="spacingAndGlyphs">400</text>
<line x1="117.30" y1="80.35" x2="123.30" y2="80.35" stroke="#333" stroke-width="1"/>
<text x="108.20" y="85.25" font-size="15.5" text-anchor="end" textLength="29.00" lengthAdjust="spacingAndGlyphs">200</text>
<line x1="117.30" y1="108.50" x2="123.30" y2="108.50" stroke="#333" stroke-width="1"/>
<text x="108.20" y="113.40" font-size="15.5" text-anchor="end">0</text>
<line x1="120.00" y1="66.28" x2="123.30" y2="66.28" stroke="#333" stroke-width="1"/>
<line x1="120.00" y1="94.42" x2="123.30" y2="94.42" stroke="#333" stroke-width="1"/>
<line x1="127.60" y1="115.50" x2="127.60" y2="120.50" stroke="#333" stroke-width="1"/>
<text x="127.60" y="138.80" font-size="15.4" text-anchor="middle">0</text>
<line x1="177.28" y1="115.50" x2="177.28" y2="118.50" stroke="#333" stroke-width="1"/>
<line x1="226.96" y1="115.50" x2="226.96" y2="120.50" stroke="#333" stroke-width="1"/>
<text x="226.96" y="138.80" font-size="15.4" text-anchor="middle" textLength="37.50" lengthAdjust="spacingAndGlyphs">2.0M</text>
<line x1="276.64" y1="115.50" x2="276.64" y2="118.50" stroke="#333" stroke-width="1"/>
<line x1="326.32" y1="115.50" x2="326.32" y2="120.50" stroke="#333" stroke-width="1"/>
<text x="326.32" y="138.80" font-size="15.4" text-anchor="middle" textLength="37.50" lengthAdjust="spacingAndGlyphs">4.0M</text>
<line x1="376.00" y1="115.50" x2="376.00" y2="118.50" stroke="#333" stroke-width="1"/>
<line x1="425.68" y1="115.50" x2="425.68" y2="120.50" stroke="#333" stroke-width="1"/>
<text x="425.68" y="138.80" font-size="15.4" text-anchor="middle" textLength="37.50" lengthAdjust="spacingAndGlyphs">6.0M</text>
<line x1="475.36" y1="115.50" x2="475.36" y2="118.50" stroke="#333" stroke-width="1"/>
<line x1="525.04" y1="115.50" x2="525.04" y2="120.50" stroke="#333" stroke-width="1"/>
<text x="525.04" y="138.80" font-size="15.4" text-anchor="middle" textLength="37.50" lengthAdjust="spacingAndGlyphs">8.0M</text>
<line x1="574.72" y1="115.50" x2="574.72" y2="118.50" stroke="#333" stroke-width="1"/>
<line x1="624.40" y1="115.50" x2="624.40" y2="120.50" stroke="#333" stroke-width="1"/>
<text x="624.40" y="138.80" font-size="15.4" text-anchor="middle" textLength="46.00" lengthAdjust="spacingAndGlyphs">10.0M</text>
<line x1="674.08" y1="115.50" x2="674.08" y2="118.50" stroke="#333" stroke-width="1"/>
<line x1="723.76" y1="115.50" x2="723.76" y2="120.50" stroke="#333" stroke-width="1"/>
<text x="723.76" y="138.80" font-size="15.4" text-anchor="middle" textLength="46.00" lengthAdjust="spacingAndGlyphs">12.0M</text>
<line x1="773.44" y1="115.50" x2="773.44" y2="118.50" stroke="#333" stroke-width="1"/>
<line x1="823.12" y1="115.50" x2="823.12" y2="120.50" stroke="#333" stroke-width="1"/>
<text x="823.12" y="138.80" font-size="15.4" text-anchor="middle" textLength="46.00" lengthAdjust="spacingAndGlyphs">14.0M</text>
<line x1="872.80" y1="115.50" x2="872.80" y2="118.50" stroke="#333" stroke-width="1"/>
<line x1="922.48" y1="115.50" x2="922.48" y2="120.50" stroke="#333" stroke-width="1"/>
<text x="922.48" y="138.80" font-size="15.4" text-anchor="middle" textLength="46.00" lengthAdjust="spacingAndGlyphs">16.0M</text>
<line x1="972.16" y1="115.50" x2="972.16" y2="118.50" stroke="#333" stroke-width="1"/>
<text x="137.40" y="54.30" font-size="16.2" textLength="377.60" lengthAdjust="spacingAndGlyphs">piRNA gene intensity of LG IV in <tspan font-style="italic">C. elegans</tspan></text>
<text x="137.40" y="76.30" font-size="16.2" textLength="197.30" lengthAdjust="spacingAndGlyphs">(gene number/100 kb)</text>
<rect x="1034.3" y="34" width="1" height="16.3" fill="#ff5050" opacity="0.7"/>
<text x="1050.00" y="47.00" font-size="15.6" textLength="103.30" lengthAdjust="spacingAndGlyphs">piRNA gene</text>
<rect x="1030.00" y="66.70" width="9.50" height="8.00" fill="#37ad6b"/>
<text x="1050.00" y="77.20" font-size="15.6" textLength="64.70" lengthAdjust="spacingAndGlyphs">Cluster I</text>
<rect x="1030.00" y="95.30" width="9.50" height="7.50" fill="#b07ee0"/>
<text x="1050.00" y="105.80" font-size="15.6" textLength="65.30" lengthAdjust="spacingAndGlyphs">Cluster II</text>
<text x="-1.50" y="184.00" font-size="27" textLength="19.30" lengthAdjust="spacingAndGlyphs" font-weight="bold" fill="#000">b</text>
<text x="155.00" y="186.20" font-size="18.8" text-anchor="middle" textLength="54.00" lengthAdjust="spacingAndGlyphs">UAD-2</text>
<text x="280.70" y="186.20" font-size="18.8" text-anchor="middle" textLength="46.70" lengthAdjust="spacingAndGlyphs">SYP-1</text>
<text x="406.70" y="186.20" font-size="18.8" text-anchor="middle" textLength="55.30" lengthAdjust="spacingAndGlyphs">Merge</text>
<clipPath id="cl1"><rect x="0" y="0" width="120" height="120"/></clipPath>
<g transform="translate(90,197)" clip-path="url(#cl1)">
<rect x="0" y="0" width="120" height="120" fill="#000"/>
<g filter="url(#b2)"><circle cx="77.0" cy="61.3" r="2.0" fill="#167a16" opacity="0.20"/><circle cx="71.0" cy="73.0" r="1.7" fill="#167a16" opacity="0.21"/><circle cx="80.0" cy="86.6" r="2.5" fill="#167a16" opacity="0.09"/><circle cx="33.7" cy="54.0" r="2.0" fill="#167a16" opacity="0.26"/><circle cx="70.9" cy="67.2" r="3.1" fill="#167a16" opacity="0.14"/><circle cx="67.6" cy="82.7" r="1.9" fill="#167a16" opacity="0.25"/><circle cx="65.1" cy="80.0" r="2.4" fill="#167a16" opacity="0.17"/><circle cx="93.7" cy="49.9" r="1.9" fill="#167a16" opacity="0.10"/><circle cx="79.5" cy="27.6" r="1.3" fill="#167a16" opacity="0.21"/><circle cx="81.3" cy="36.8" r="1.6" fill="#167a16" opacity="0.22"/><circle cx="57.5" cy="40.3" r="2.5" fill="#167a16" opacity="0.10"/><circle cx="83.3" cy="66.2" r="1.9" fill="#167a16" opacity="0.14"/><circle cx="38.8" cy="32.0" r="3.1" fill="#167a16" opacity="0.26"/><circle cx="94.2" cy="58.6" r="1.8" fill="#167a16" opacity="0.10"/><circle cx="39.2" cy="39.5" r="2.5" fill="#167a16" opacity="0.08"/><circle cx="72.9" cy="94.3" r="2.4" fill="#167a16" opacity="0.20"/><circle cx="81.2" cy="74.6" r="3.0" fill="#167a16" opacity="0.19"/><circle cx="80.0" cy="59.0" r="2.1" fill="#167a16" opacity="0.22"/><circle cx="27.8" cy="71.6" r="2.3" fill="#167a16" opacity="0.08"/><circle cx="90.7" cy="81.9" r="1.4" fill="#167a16" opacity="0.10"/><circle cx="43.3" cy="88.2" r="2.9" fill="#167a16" opacity="0.16"/><circle cx="25.8" cy="60.4" r="1.8" fill="#167a16" opacity="0.13"/><circle cx="36.3" cy="39.7" r="1.3" fill="#167a16" opacity="0.08"/><circle cx="81.3" cy="85.1" r="2.6" fill="#167a16" opacity="0.25"/><circle cx="62.4" cy="38.3" r="2.7" fill="#167a16" opacity="0.26"/><circle cx="52.7" cy="70.2" r="2.0" fill="#167a16" opacity="0.12"/><circle cx="66.4" cy="72.7" r="1.4" fill="#167a16" opacity="0.23"/><circle cx="89.2" cy="69.5" r="1.6" fill="#167a16" opacity="0.10"/><circle cx="69.9" cy="39.2" r="1.6" fill="#167a16" opacity="0.15"/><circle cx="50.3" cy="33.0" r="2.9" fill="#167a16" opacity="0.14"/><circle cx="27.6" cy="55.1" r="2.1" fill="#167a16" opacity="0.20"/><circle cx="42.6" cy="63.7" r="1.4" fill="#167a16" opacity="0.22"/><circle cx="58.8" cy="23.0" r="2.6" fill="#167a16" opacity="0.18"/><circle cx="77.8" cy="90.6" r="1.4" fill="#167a16" opacity="0.14"/><circle cx="76.0" cy="79.5" r="1.8" fill="#167a16" opacity="0.15"/><circle cx="53.0" cy="31.7" r="1.7" fill="#167a16" opacity="0.22"/><circle cx="56.7" cy="25.2" r="1.3" fill="#167a16" opacity="0.18"/><circle cx="77.4" cy="46.6" r="1.6" fill="#167a16" opacity="0.22"/><circle cx="43.1" cy="79.5" r="2.8" fill="#167a16" opacity="0.14"/><circle cx="66.5" cy="79.5" r="1.9" fill="#167a16" opacity="0.20"/><circle cx="37.1" cy="84.9" r="1.3" fill="#167a16" opacity="0.11"/><circle cx="40.4" cy="40.4" r="2.2" fill="#167a16" opacity="0.25"/><circle cx="56.7" cy="79.2" r="1.3" fill="#167a16" opacity="0.16"/><circle cx="52.0" cy="86.4" r="1.2" fill="#167a16" opacity="0.06"/><circle cx="35.6" cy="83.0" r="1.8" fill="#167a16" opacity="0.24"/><circle cx="37.3" cy="47.6" r="2.8" fill="#167a16" opacity="0.11"/><circle cx="32.2" cy="38.3" r="2.3" fill="#167a16" opacity="0.12"/><circle cx="84.6" cy="76.9" r="1.6" fill="#167a16" opacity="0.13"/><circle cx="24.3" cy="50.3" r="2.5" fill="#167a16" opacity="0.16"/><circle cx="74.7" cy="41.9" r="2.0" fill="#167a16" opacity="0.20"/><circle cx="40.4" cy="53.1" r="2.0" fill="#167a16" opacity="0.22"/><circle cx="61.6" cy="92.5" r="1.3" fill="#167a16" opacity="0.25"/><circle cx="50.4" cy="38.2" r="3.2" fill="#167a16" opacity="0.22"/><circle cx="80.0" cy="68.2" r="2.2" fill="#167a16" opacity="0.26"/><circle cx="69.1" cy="71.1" r="1.8" fill="#167a16" opacity="0.07"/><circle cx="35.6" cy="75.7" r="2.1" fill="#167a16" opacity="0.09"/><circle cx="94.1" cy="65.0" r="2.1" fill="#167a16" opacity="0.16"/><circle cx="28.1" cy="64.4" r="3.0" fill="#167a16" opacity="0.23"/><circle cx="56.5" cy="36.1" r="1.5" fill="#167a16" opacity="0.08"/><circle cx="69.3" cy="48.6" r="2.3" fill="#167a16" opacity="0.24"/><circle cx="48.8" cy="82.9" r="2.0" fill="#167a16" opacity="0.25"/><circle cx="45.9" cy="27.8" r="1.3" fill="#167a16" opacity="0.21"/><circle cx="35.4" cy="67.8" r="2.8" fill="#167a16" opacity="0.21"/><circle cx="88.1" cy="42.3" r="3.0" fill="#167a16" opacity="0.15"/><circle cx="28.0" cy="48.2" r="2.1" fill="#167a16" opacity="0.09"/><circle cx="29.3" cy="41.7" r="2.9" fill="#167a16" opacity="0.09"/><circle cx="44.6" cy="74.3" r="1.9" fill="#167a16" opacity="0.25"/><circle cx="39.4" cy="71.2" r="1.7" fill="#167a16" opacity="0.15"/><circle cx="48.3" cy="38.7" r="1.6" fill="#167a16" opacity="0.11"/><circle cx="57.7" cy="96.3" r="1.5" fill="#167a16" opacity="0.21"/><circle cx="86.6" cy="81.5" r="1.7" fill="#167a16" opacity="0.22"/><circle cx="45.7" cy="66.5" r="1.4" fill="#167a16" opacity="0.22"/><circle cx="33.1" cy="52.7" r="1.9" fill="#167a16" opacity="0.20"/><circle cx="45.1" cy="61.7" r="2.4" fill="#167a16" opacity="0.12"/><circle cx="76.7" cy="36.0" r="2.7" fill="#167a16" opacity="0.08"/><circle cx="51.8" cy="30.5" r="2.9" fill="#167a16" opacity="0.24"/><circle cx="31.3" cy="50.4" r="2.7" fill="#167a16" opacity="0.11"/><circle cx="27.2" cy="50.5" r="2.4" fill="#167a16" opacity="0.17"/><circle cx="83.2" cy="30.4" r="1.7" fill="#167a16" opacity="0.07"/><circle cx="46.1" cy="48.0" r="3.1" fill="#167a16" opacity="0.15"/><circle cx="26.1" cy="52.6" r="2.9" fill="#167a16" opacity="0.09"/><circle cx="41.4" cy="65.6" r="2.1" fill="#167a16" opacity="0.09"/><circle cx="77.6" cy="42.8" r="2.0" fill="#167a16" opacity="0.24"/><circle cx="70.7" cy="38.4" r="2.2" fill="#167a16" opacity="0.19"/><circle cx="66.8" cy="76.6" r="2.9" fill="#167a16" opacity="0.09"/><circle cx="51.3" cy="27.9" r="2.4" fill="#167a16" opacity="0.13"/><circle cx="81.4" cy="33.4" r="1.3" fill="#167a16" opacity="0.24"/><circle cx="45.1" cy="42.7" r="1.5" fill="#167a16" opacity="0.08"/><circle cx="73.3" cy="27.3" r="1.9" fill="#167a16" opacity="0.10"/><circle cx="83.4" cy="71.6" r="1.8" fill="#167a16" opacity="0.07"/><circle cx="49.7" cy="93.3" r="1.3" fill="#167a16" opacity="0.14"/><circle cx="41.3" cy="58.3" r="1.3" fill="#167a16" opacity="0.07"/><circle cx="83.2" cy="89.5" r="2.9" fill="#167a16" opacity="0.20"/><circle cx="79.2" cy="45.9" r="1.7" fill="#167a16" opacity="0.23"/><circle cx="31.2" cy="37.3" r="1.9" fill="#167a16" opacity="0.14"/><circle cx="52.8" cy="24.8" r="1.5" fill="#167a16" opacity="0.11"/><circle cx="89.4" cy="62.5" r="3.0" fill="#167a16" opacity="0.17"/><circle cx="79.2" cy="86.0" r="2.5" fill="#167a16" opacity="0.08"/><circle cx="87.2" cy="43.8" r="2.2" fill="#167a16" opacity="0.13"/><circle cx="74.6" cy="83.2" r="1.9" fill="#167a16" opacity="0.11"/><circle cx="40.8" cy="34.8" r="3.1" fill="#167a16" opacity="0.25"/><circle cx="28.0" cy="67.0" r="2.0" fill="#167a16" opacity="0.15"/><circle cx="25.6" cy="44.6" r="1.3" fill="#167a16" opacity="0.15"/><circle cx="42.2" cy="89.5" r="3.1" fill="#167a16" opacity="0.15"/><circle cx="86.6" cy="74.5" r="2.4" fill="#167a16" opacity="0.20"/><circle cx="64.5" cy="33.1" r="2.3" fill="#167a16" opacity="0.21"/><circle cx="81.0" cy="63.7" r="2.6" fill="#167a16" opacity="0.26"/><circle cx="81.2" cy="52.1" r="3.1" fill="#167a16" opacity="0.12"/><circle cx="42.1" cy="65.5" r="2.4" fill="#167a16" opacity="0.14"/><circle cx="45.2" cy="25.8" r="1.5" fill="#167a16" opacity="0.19"/><circle cx="42.0" cy="46.7" r="1.3" fill="#167a16" opacity="0.25"/><circle cx="49.5" cy="30.9" r="1.4" fill="#167a16" opacity="0.24"/><circle cx="38.0" cy="76.2" r="2.3" fill="#167a16" opacity="0.15"/><circle cx="86.3" cy="52.1" r="2.6" fill="#167a16" opacity="0.21"/><circle cx="77.4" cy="52.2" r="1.9" fill="#167a16" opacity="0.25"/><circle cx="40.3" cy="44.5" r="3.0" fill="#167a16" opacity="0.08"/><circle cx="59.7" cy="75.3" r="2.5" fill="#167a16" opacity="0.16"/><circle cx="51.0" cy="85.2" r="1.7" fill="#167a16" opacity="0.20"/><circle cx="61.5" cy="34.7" r="2.9" fill="#167a16" opacity="0.07"/><circle cx="43.0" cy="52.6" r="1.4" fill="#167a16" opacity="0.17"/><circle cx="73.2" cy="68.1" r="1.5" fill="#167a16" opacity="0.14"/><circle cx="71.0" cy="40.0" r="1.4" fill="#167a16" opacity="0.21"/><circle cx="75.5" cy="25.4" r="1.3" fill="#167a16" opacity="0.09"/><circle cx="25.4" cy="75.3" r="2.3" fill="#167a16" opacity="0.24"/><circle cx="64.4" cy="87.1" r="2.6" fill="#167a16" opacity="0.11"/><circle cx="25.5" cy="55.1" r="2.8" fill="#167a16" opacity="0.20"/><circle cx="78.0" cy="26.6" r="2.4" fill="#167a16" opacity="0.11"/><circle cx="62.6" cy="74.5" r="3.0" fill="#167a16" opacity="0.17"/><circle cx="31.4" cy="38.5" r="2.6" fill="#167a16" opacity="0.14"/><circle cx="46.4" cy="51.9" r="1.7" fill="#167a16" opacity="0.13"/><circle cx="68.8" cy="29.6" r="2.4" fill="#167a16" opacity="0.14"/><circle cx="44.9" cy="80.4" r="1.3" fill="#167a16" opacity="0.13"/><circle cx="89.2" cy="41.3" r="1.7" fill="#167a16" opacity="0.16"/><circle cx="59.3" cy="39.9" r="1.9" fill="#167a16" opacity="0.18"/><circle cx="73.9" cy="93.7" r="1.2" fill="#167a16" opacity="0.24"/><circle cx="47.5" cy="37.5" r="1.8" fill="#167a16" opacity="0.23"/><circle cx="55.1" cy="40.2" r="1.8" fill="#167a16" opacity="0.08"/><circle cx="41.8" cy="40.9" r="1.8" fill="#167a16" opacity="0.20"/><circle cx="59.5" cy="78.1" r="2.8" fill="#167a16" opacity="0.24"/><circle cx="70.4" cy="32.4" r="2.6" fill="#167a16" opacity="0.23"/><circle cx="82.4" cy="65.6" r="1.9" fill="#167a16" opacity="0.21"/><circle cx="42.6" cy="88.9" r="1.7" fill="#167a16" opacity="0.25"/><circle cx="32.3" cy="71.9" r="2.5" fill="#167a16" opacity="0.22"/><circle cx="41.1" cy="52.0" r="2.1" fill="#167a16" opacity="0.17"/><circle cx="91.4" cy="75.4" r="1.8" fill="#167a16" opacity="0.24"/><circle cx="34.2" cy="86.8" r="2.6" fill="#167a16" opacity="0.14"/><circle cx="56.4" cy="48.5" r="1.4" fill="#167a16" opacity="0.18"/><circle cx="50.8" cy="84.3" r="2.6" fill="#167a16" opacity="0.15"/><circle cx="34.7" cy="38.4" r="2.9" fill="#167a16" opacity="0.08"/><circle cx="75.8" cy="30.7" r="1.7" fill="#167a16" opacity="0.08"/><circle cx="65.6" cy="75.1" r="2.3" fill="#167a16" opacity="0.26"/><circle cx="37.7" cy="62.0" r="1.5" fill="#167a16" opacity="0.25"/><circle cx="39.6" cy="53.9" r="3.0" fill="#167a16" opacity="0.14"/><circle cx="88.3" cy="57.3" r="1.7" fill="#167a16" opacity="0.10"/><circle cx="94.5" cy="63.6" r="1.9" fill="#167a16" opacity="0.21"/><circle cx="74.1" cy="38.3" r="2.2" fill="#167a16" opacity="0.20"/><circle cx="44.5" cy="40.6" r="1.6" fill="#167a16" opacity="0.12"/><circle cx="90.9" cy="64.1" r="2.5" fill="#167a16" opacity="0.21"/><circle cx="29.3" cy="72.3" r="2.3" fill="#167a16" opacity="0.23"/><circle cx="29.7" cy="50.1" r="2.4" fill="#167a16" opacity="0.10"/><circle cx="90.8" cy="76.2" r="2.6" fill="#167a16" opacity="0.16"/><circle cx="76.7" cy="49.9" r="2.7" fill="#167a16" opacity="0.16"/><circle cx="73.9" cy="70.8" r="1.3" fill="#167a16" opacity="0.10"/><circle cx="64.7" cy="32.7" r="1.3" fill="#167a16" opacity="0.16"/><circle cx="93.7" cy="54.2" r="1.8" fill="#167a16" opacity="0.16"/><circle cx="45.9" cy="75.6" r="2.5" fill="#167a16" opacity="0.06"/><circle cx="23.8" cy="66.2" r="2.7" fill="#167a16" opacity="0.19"/><circle cx="78.3" cy="27.6" r="1.7" fill="#167a16" opacity="0.25"/><circle cx="82.0" cy="42.6" r="1.5" fill="#167a16" opacity="0.17"/><circle cx="22.1" cy="60.8" r="1.7" fill="#167a16" opacity="0.20"/></g>
<g filter="url(#b1)"><circle cx="76.3" cy="68.6" r="1.3" fill="#0f5f0f" opacity="0.23"/><circle cx="26.1" cy="60.8" r="1.1" fill="#0f5f0f" opacity="0.17"/><circle cx="76.0" cy="35.9" r="1.9" fill="#0f5f0f" opacity="0.23"/><circle cx="59.2" cy="60.8" r="1.8" fill="#0f5f0f" opacity="0.10"/><circle cx="94.1" cy="62.0" r="1.8" fill="#0f5f0f" opacity="0.22"/><circle cx="77.2" cy="54.8" r="1.1" fill="#0f5f0f" opacity="0.10"/><circle cx="73.3" cy="58.1" r="1.2" fill="#0f5f0f" opacity="0.08"/><circle cx="67.5" cy="62.4" r="1.4" fill="#0f5f0f" opacity="0.11"/><circle cx="45.9" cy="95.9" r="1.2" fill="#0f5f0f" opacity="0.22"/><circle cx="57.8" cy="29.9" r="1.6" fill="#0f5f0f" opacity="0.21"/><circle cx="43.6" cy="50.0" r="1.3" fill="#0f5f0f" opacity="0.12"/><circle cx="27.8" cy="83.2" r="1.4" fill="#0f5f0f" opacity="0.09"/><circle cx="24.3" cy="65.2" r="1.4" fill="#0f5f0f" opacity="0.20"/><circle cx="68.4" cy="65.4" r="1.7" fill="#0f5f0f" opacity="0.09"/><circle cx="52.0" cy="83.5" r="1.2" fill="#0f5f0f" opacity="0.09"/><circle cx="99.0" cy="61.7" r="1.7" fill="#0f5f0f" opacity="0.24"/><circle cx="21.0" cy="62.0" r="1.9" fill="#0f5f0f" opacity="0.19"/><circle cx="31.8" cy="55.5" r="1.2" fill="#0f5f0f" opacity="0.14"/><circle cx="57.0" cy="42.6" r="1.8" fill="#0f5f0f" opacity="0.17"/><circle cx="31.2" cy="37.9" r="1.6" fill="#0f5f0f" opacity="0.10"/><circle cx="60.0" cy="61.3" r="1.0" fill="#0f5f0f" opacity="0.24"/><circle cx="27.2" cy="38.3" r="1.8" fill="#0f5f0f" opacity="0.13"/><circle cx="97.6" cy="52.1" r="1.5" fill="#0f5f0f" opacity="0.09"/><circle cx="53.2" cy="74.8" r="1.4" fill="#0f5f0f" opacity="0.09"/><circle cx="50.9" cy="21.5" r="1.2" fill="#0f5f0f" opacity="0.21"/><circle cx="36.0" cy="45.9" r="1.9" fill="#0f5f0f" opacity="0.14"/><circle cx="63.2" cy="53.3" r="2.0" fill="#0f5f0f" opacity="0.11"/><circle cx="97.5" cy="60.9" r="1.7" fill="#0f5f0f" opacity="0.19"/><circle cx="62.5" cy="35.6" r="1.1" fill="#0f5f0f" opacity="0.13"/><circle cx="98.0" cy="48.6" r="1.2" fill="#0f5f0f" opacity="0.16"/><circle cx="23.8" cy="71.6" r="1.0" fill="#0f5f0f" opacity="0.22"/><circle cx="59.4" cy="89.6" r="1.1" fill="#0f5f0f" opacity="0.09"/><circle cx="81.1" cy="41.0" r="2.0" fill="#0f5f0f" opacity="0.23"/><circle cx="60.2" cy="49.1" r="1.6" fill="#0f5f0f" opacity="0.25"/><circle cx="49.7" cy="59.8" r="1.2" fill="#0f5f0f" opacity="0.25"/><circle cx="79.7" cy="57.1" r="1.3" fill="#0f5f0f" opacity="0.20"/><circle cx="42.8" cy="59.2" r="2.0" fill="#0f5f0f" opacity="0.19"/><circle cx="56.1" cy="64.4" r="1.5" fill="#0f5f0f" opacity="0.21"/><circle cx="65.2" cy="70.6" r="1.7" fill="#0f5f0f" opacity="0.24"/><circle cx="40.3" cy="79.2" r="1.6" fill="#0f5f0f" opacity="0.17"/><circle cx="74.5" cy="75.1" r="1.2" fill="#0f5f0f" opacity="0.11"/><circle cx="81.3" cy="73.2" r="1.2" fill="#0f5f0f" opacity="0.22"/><circle cx="42.8" cy="95.3" r="1.8" fill="#0f5f0f" opacity="0.13"/><circle cx="77.1" cy="84.9" r="1.5" fill="#0f5f0f" opacity="0.17"/><circle cx="80.8" cy="80.4" r="1.8" fill="#0f5f0f" opacity="0.16"/><circle cx="58.7" cy="98.4" r="1.3" fill="#0f5f0f" opacity="0.25"/><circle cx="59.3" cy="58.2" r="1.4" fill="#0f5f0f" opacity="0.11"/><circle cx="65.9" cy="34.7" r="1.1" fill="#0f5f0f" opacity="0.24"/><circle cx="69.5" cy="30.3" r="1.6" fill="#0f5f0f" opacity="0.09"/><circle cx="81.8" cy="57.6" r="1.5" fill="#0f5f0f" opacity="0.16"/></g>
<ellipse cx="31.6" cy="79" rx="6" ry="5" transform="rotate(0 31.6 79)" fill="#1b8f1b" opacity="0.45" filter="url(#b2)"/>
<ellipse cx="54.7" cy="91.6" rx="5" ry="4" transform="rotate(0 54.7 91.6)" fill="#1b8f1b" opacity="0.45" filter="url(#b2)"/>
<ellipse cx="86.3" cy="68.4" rx="5" ry="7" transform="rotate(0 86.3 68.4)" fill="#1b8f1b" opacity="0.45" filter="url(#b2)"/>
<ellipse cx="73.7" cy="24.2" rx="6" ry="4" transform="rotate(0 73.7 24.2)" fill="#1b8f1b" opacity="0.45" filter="url(#b2)"/>
<ellipse cx="47.4" cy="28.4" rx="5" ry="4" transform="rotate(0 47.4 28.4)" fill="#1b8f1b" opacity="0.45" filter="url(#b2)"/>
<ellipse cx="29.5" cy="47.4" rx="4" ry="5" transform="rotate(0 29.5 47.4)" fill="#1b8f1b" opacity="0.45" filter="url(#b2)"/>
<ellipse cx="80" cy="84" rx="4" ry="4" transform="rotate(0 80 84)" fill="#1b8f1b" opacity="0.45" filter="url(#b2)"/>
<ellipse cx="90" cy="45" rx="4" ry="5" transform="rotate(0 90 45)" fill="#1b8f1b" opacity="0.45" filter="url(#b2)"/>
<path d="M58.00,67.00 C59.33,67.00 63.17,66.33 66.00,67.00 C68.83,67.67 73.50,70.33 75.00,71.00" fill="none" stroke="#2a9a2a" stroke-width="5" stroke-linecap="round" stroke-linejoin="round" opacity="0.5" filter="url(#b2)"/>
<ellipse cx="66.3" cy="60" rx="9.5" ry="6" transform="rotate(38 66.3 60)" fill="#10b010" opacity="0.6" filter="url(#b2)"/>
<ellipse cx="66.3" cy="60" rx="6.8" ry="3.8" transform="rotate(38 66.3 60)" fill="#28f028" opacity="1" filter="url(#b1)"/>
<ellipse cx="65.5" cy="59.3" rx="3.5" ry="2" transform="rotate(38 65.5 59.3)" fill="#70ff70" opacity="0.8" filter="url(#b1)"/>
<g filter="url(#b2)"><circle cx="3.9" cy="110.2" r="2.7" fill="#1a7a1a" opacity="0.18"/><circle cx="6.4" cy="104.2" r="2.9" fill="#1a7a1a" opacity="0.16"/><circle cx="7.6" cy="106.0" r="2.3" fill="#1a7a1a" opacity="0.34"/><circle cx="4.8" cy="113.3" r="2.9" fill="#1a7a1a" opacity="0.27"/><circle cx="11.5" cy="122.4" r="2.2" fill="#1a7a1a" opacity="0.13"/><circle cx="4.6" cy="107.5" r="2.1" fill="#1a7a1a" opacity="0.31"/><circle cx="23.4" cy="110.4" r="2.5" fill="#1a7a1a" opacity="0.15"/><circle cx="27.0" cy="119.8" r="1.9" fill="#1a7a1a" opacity="0.17"/><circle cx="23.7" cy="107.7" r="1.7" fill="#1a7a1a" opacity="0.19"/><circle cx="14.3" cy="122.3" r="1.5" fill="#1a7a1a" opacity="0.24"/><circle cx="11.1" cy="123.3" r="1.8" fill="#1a7a1a" opacity="0.15"/><circle cx="26.8" cy="117.7" r="2.6" fill="#1a7a1a" opacity="0.25"/><circle cx="17.8" cy="118.8" r="1.7" fill="#1a7a1a" opacity="0.19"/><circle cx="20.9" cy="117.6" r="1.8" fill="#1a7a1a" opacity="0.16"/><circle cx="8.6" cy="107.2" r="2.2" fill="#1a7a1a" opacity="0.20"/><circle cx="2.0" cy="112.0" r="2.0" fill="#1a7a1a" opacity="0.14"/><circle cx="5.4" cy="116.0" r="2.7" fill="#1a7a1a" opacity="0.15"/><circle cx="15.2" cy="113.8" r="2.3" fill="#1a7a1a" opacity="0.22"/><circle cx="8.7" cy="127.1" r="2.6" fill="#1a7a1a" opacity="0.16"/><circle cx="3.1" cy="115.3" r="1.6" fill="#1a7a1a" opacity="0.14"/><circle cx="4.4" cy="107.9" r="2.2" fill="#1a7a1a" opacity="0.22"/><circle cx="6.9" cy="114.7" r="2.8" fill="#1a7a1a" opacity="0.34"/><circle cx="12.0" cy="115.2" r="2.1" fill="#1a7a1a" opacity="0.30"/><circle cx="11.9" cy="119.1" r="1.8" fill="#1a7a1a" opacity="0.28"/><circle cx="8.6" cy="109.8" r="2.4" fill="#1a7a1a" opacity="0.29"/><circle cx="26.5" cy="112.3" r="2.2" fill="#1a7a1a" opacity="0.31"/><circle cx="25.6" cy="109.1" r="2.6" fill="#1a7a1a" opacity="0.25"/><circle cx="1.1" cy="114.1" r="2.4" fill="#1a7a1a" opacity="0.29"/><circle cx="14.6" cy="119.2" r="1.9" fill="#1a7a1a" opacity="0.25"/><circle cx="8.4" cy="112.2" r="1.8" fill="#1a7a1a" opacity="0.34"/><circle cx="26.1" cy="120.9" r="2.7" fill="#1a7a1a" opacity="0.25"/><circle cx="25.5" cy="114.7" r="1.5" fill="#1a7a1a" opacity="0.34"/><circle cx="2.5" cy="121.9" r="2.7" fill="#1a7a1a" opacity="0.15"/><circle cx="16.0" cy="115.5" r="2.7" fill="#1a7a1a" opacity="0.30"/><circle cx="14.6" cy="119.7" r="2.0" fill="#1a7a1a" opacity="0.30"/><circle cx="13.2" cy="102.0" r="3.0" fill="#1a7a1a" opacity="0.29"/><circle cx="14.9" cy="113.5" r="1.5" fill="#1a7a1a" opacity="0.32"/><circle cx="8.1" cy="109.6" r="1.7" fill="#1a7a1a" opacity="0.20"/><circle cx="8.8" cy="123.4" r="2.2" fill="#1a7a1a" opacity="0.17"/><circle cx="19.5" cy="118.1" r="1.7" fill="#1a7a1a" opacity="0.14"/></g>
<ellipse cx="119" cy="70" rx="2" ry="8" transform="rotate(0 119 70)" fill="#1a8a1a" opacity="0.5" filter="url(#b2)"/>
</g>
<clipPath id="cl2"><rect x="0" y="0" width="120" height="120"/></clipPath>
<g transform="translate(216,197)" clip-path="url(#cl2)">
<rect x="0" y="0" width="120" height="120" fill="#000"/>
<g filter="url(#b1)"><circle cx="25.4" cy="72.1" r="2.1" fill="#c010c0" opacity="0.22"/><circle cx="23.4" cy="60.3" r="1.2" fill="#c010c0" opacity="0.23"/><circle cx="31.6" cy="34.0" r="1.1" fill="#c010c0" opacity="0.18"/><circle cx="90.7" cy="82.9" r="1.8" fill="#c010c0" opacity="0.11"/><circle cx="99.2" cy="57.4" r="1.8" fill="#c010c0" opacity="0.25"/><circle cx="69.3" cy="79.1" r="1.6" fill="#c010c0" opacity="0.11"/><circle cx="67.9" cy="87.1" r="1.0" fill="#c010c0" opacity="0.22"/><circle cx="21.4" cy="76.4" r="1.6" fill="#c010c0" opacity="0.26"/><circle cx="21.9" cy="62.1" r="1.5" fill="#c010c0" opacity="0.17"/><circle cx="99.9" cy="61.4" r="2.0" fill="#c010c0" opacity="0.28"/><circle cx="47.4" cy="86.5" r="1.3" fill="#c010c0" opacity="0.12"/><circle cx="61.1" cy="31.4" r="2.0" fill="#c010c0" opacity="0.20"/><circle cx="96.1" cy="51.7" r="1.0" fill="#c010c0" opacity="0.15"/><circle cx="85.3" cy="44.8" r="2.2" fill="#c010c0" opacity="0.20"/><circle cx="89.8" cy="77.7" r="1.9" fill="#c010c0" opacity="0.17"/><circle cx="82.9" cy="77.2" r="2.2" fill="#c010c0" opacity="0.29"/><circle cx="78.0" cy="80.3" r="1.1" fill="#c010c0" opacity="0.11"/><circle cx="65.4" cy="37.8" r="1.7" fill="#c010c0" opacity="0.21"/><circle cx="71.6" cy="96.8" r="1.2" fill="#c010c0" opacity="0.26"/><circle cx="81.2" cy="82.9" r="1.3" fill="#c010c0" opacity="0.17"/><circle cx="96.0" cy="55.0" r="1.4" fill="#c010c0" opacity="0.32"/><circle cx="65.5" cy="91.7" r="2.0" fill="#c010c0" opacity="0.26"/><circle cx="91.8" cy="86.7" r="1.3" fill="#c010c0" opacity="0.16"/><circle cx="62.1" cy="33.2" r="1.4" fill="#c010c0" opacity="0.12"/><circle cx="87.2" cy="80.5" r="1.3" fill="#c010c0" opacity="0.25"/><circle cx="35.9" cy="85.0" r="2.2" fill="#c010c0" opacity="0.22"/><circle cx="22.5" cy="44.0" r="1.2" fill="#c010c0" opacity="0.14"/><circle cx="90.7" cy="40.8" r="1.3" fill="#c010c0" opacity="0.15"/><circle cx="55.3" cy="21.1" r="1.2" fill="#c010c0" opacity="0.34"/><circle cx="83.8" cy="38.4" r="1.5" fill="#c010c0" opacity="0.13"/><circle cx="98.2" cy="72.0" r="1.3" fill="#c010c0" opacity="0.28"/><circle cx="56.3" cy="101.0" r="1.7" fill="#c010c0" opacity="0.17"/><circle cx="74.8" cy="95.2" r="1.1" fill="#c010c0" opacity="0.16"/><circle cx="21.2" cy="47.6" r="1.7" fill="#c010c0" opacity="0.17"/><circle cx="80.6" cy="49.1" r="1.0" fill="#c010c0" opacity="0.17"/><circle cx="37.3" cy="69.3" r="1.2" fill="#c010c0" opacity="0.19"/><circle cx="36.4" cy="51.5" r="1.4" fill="#c010c0" opacity="0.32"/><circle cx="93.7" cy="57.6" r="1.8" fill="#c010c0" opacity="0.25"/><circle cx="71.5" cy="78.3" r="1.0" fill="#c010c0" opacity="0.33"/><circle cx="45.4" cy="22.6" r="1.0" fill="#c010c0" opacity="0.26"/><circle cx="20.9" cy="66.2" r="1.4" fill="#c010c0" opacity="0.35"/><circle cx="88.1" cy="77.4" r="1.9" fill="#c010c0" opacity="0.33"/><circle cx="55.0" cy="25.2" r="2.0" fill="#c010c0" opacity="0.33"/><circle cx="36.2" cy="91.3" r="2.1" fill="#c010c0" opacity="0.32"/><circle cx="24.6" cy="81.1" r="2.0" fill="#c010c0" opacity="0.24"/><circle cx="36.5" cy="40.5" r="1.7" fill="#c010c0" opacity="0.25"/><circle cx="89.2" cy="79.2" r="2.2" fill="#c010c0" opacity="0.32"/><circle cx="53.8" cy="31.8" r="1.9" fill="#c010c0" opacity="0.25"/><circle cx="21.4" cy="76.3" r="1.1" fill="#c010c0" opacity="0.29"/><circle cx="92.3" cy="68.5" r="1.6" fill="#c010c0" opacity="0.16"/><circle cx="47.5" cy="30.9" r="1.7" fill="#c010c0" opacity="0.33"/><circle cx="57.3" cy="82.4" r="1.4" fill="#c010c0" opacity="0.27"/><circle cx="65.4" cy="86.0" r="2.1" fill="#c010c0" opacity="0.26"/><circle cx="20.4" cy="76.3" r="1.4" fill="#c010c0" opacity="0.27"/><circle cx="68.0" cy="91.8" r="2.0" fill="#c010c0" opacity="0.33"/><circle cx="80.2" cy="41.2" r="1.7" fill="#c010c0" opacity="0.18"/><circle cx="79.5" cy="86.8" r="2.0" fill="#c010c0" opacity="0.31"/><circle cx="48.1" cy="22.0" r="1.3" fill="#c010c0" opacity="0.14"/><circle cx="31.5" cy="70.5" r="1.3" fill="#c010c0" opacity="0.20"/><circle cx="34.9" cy="38.7" r="1.4" fill="#c010c0" opacity="0.31"/><circle cx="89.7" cy="58.4" r="1.1" fill="#c010c0" opacity="0.11"/><circle cx="72.9" cy="46.7" r="1.9" fill="#c010c0" opacity="0.24"/><circle cx="44.1" cy="97.9" r="1.0" fill="#c010c0" opacity="0.13"/><circle cx="38.0" cy="67.8" r="2.0" fill="#c010c0" opacity="0.16"/><circle cx="71.6" cy="78.7" r="1.8" fill="#c010c0" opacity="0.21"/><circle cx="33.4" cy="35.8" r="2.0" fill="#c010c0" opacity="0.34"/><circle cx="47.6" cy="38.2" r="1.6" fill="#c010c0" opacity="0.14"/><circle cx="90.2" cy="64.2" r="1.9" fill="#c010c0" opacity="0.14"/><circle cx="53.9" cy="91.2" r="1.8" fill="#c010c0" opacity="0.23"/><circle cx="29.5" cy="37.1" r="1.5" fill="#c010c0" opacity="0.30"/><circle cx="76.9" cy="49.3" r="2.1" fill="#c010c0" opacity="0.28"/><circle cx="79.9" cy="85.3" r="1.8" fill="#c010c0" opacity="0.33"/><circle cx="33.5" cy="86.0" r="2.1" fill="#c010c0" opacity="0.30"/><circle cx="88.2" cy="51.0" r="1.8" fill="#c010c0" opacity="0.15"/><circle cx="51.2" cy="23.7" r="1.8" fill="#c010c0" opacity="0.28"/><circle cx="67.2" cy="101.3" r="2.2" fill="#c010c0" opacity="0.34"/><circle cx="20.6" cy="53.2" r="1.4" fill="#c010c0" opacity="0.33"/><circle cx="76.2" cy="38.7" r="1.1" fill="#c010c0" opacity="0.21"/><circle cx="21.8" cy="50.2" r="1.6" fill="#c010c0" opacity="0.11"/><circle cx="66.0" cy="41.4" r="2.0" fill="#c010c0" opacity="0.14"/><circle cx="38.5" cy="95.1" r="1.2" fill="#c010c0" opacity="0.14"/><circle cx="21.0" cy="58.1" r="2.0" fill="#c010c0" opacity="0.27"/><circle cx="88.9" cy="51.1" r="2.1" fill="#c010c0" opacity="0.12"/><circle cx="64.0" cy="94.9" r="1.3" fill="#c010c0" opacity="0.28"/><circle cx="36.6" cy="36.4" r="2.0" fill="#c010c0" opacity="0.24"/><circle cx="46.5" cy="90.1" r="2.0" fill="#c010c0" opacity="0.33"/><circle cx="68.2" cy="100.2" r="2.2" fill="#c010c0" opacity="0.23"/><circle cx="34.7" cy="50.5" r="1.6" fill="#c010c0" opacity="0.23"/><circle cx="41.5" cy="49.2" r="2.2" fill="#c010c0" opacity="0.23"/><circle cx="26.7" cy="84.6" r="1.7" fill="#c010c0" opacity="0.22"/><circle cx="50.0" cy="41.4" r="1.6" fill="#c010c0" opacity="0.20"/><circle cx="97.3" cy="51.1" r="1.3" fill="#c010c0" opacity="0.22"/><circle cx="80.0" cy="84.5" r="2.0" fill="#c010c0" opacity="0.33"/><circle cx="29.5" cy="66.2" r="1.2" fill="#c010c0" opacity="0.25"/><circle cx="79.4" cy="51.1" r="1.9" fill="#c010c0" opacity="0.11"/><circle cx="67.2" cy="87.0" r="1.8" fill="#c010c0" opacity="0.18"/><circle cx="36.3" cy="89.8" r="1.1" fill="#c010c0" opacity="0.28"/><circle cx="81.7" cy="85.1" r="1.3" fill="#c010c0" opacity="0.15"/><circle cx="27.0" cy="56.0" r="1.5" fill="#c010c0" opacity="0.20"/><circle cx="33.6" cy="57.4" r="1.2" fill="#c010c0" opacity="0.26"/><circle cx="36.4" cy="36.4" r="2.0" fill="#c010c0" opacity="0.25"/><circle cx="74.6" cy="41.0" r="1.9" fill="#c010c0" opacity="0.30"/><circle cx="81.6" cy="45.5" r="1.4" fill="#c010c0" opacity="0.33"/><circle cx="66.3" cy="103.1" r="2.1" fill="#c010c0" opacity="0.13"/><circle cx="60.5" cy="99.2" r="1.3" fill="#c010c0" opacity="0.12"/><circle cx="73.4" cy="34.8" r="1.9" fill="#c010c0" opacity="0.13"/><circle cx="28.1" cy="83.0" r="1.0" fill="#c010c0" opacity="0.15"/><circle cx="41.3" cy="25.1" r="2.2" fill="#c010c0" opacity="0.13"/><circle cx="20.2" cy="60.6" r="1.6" fill="#c010c0" opacity="0.27"/><circle cx="66.3" cy="82.7" r="1.1" fill="#c010c0" opacity="0.11"/><circle cx="26.5" cy="51.4" r="1.7" fill="#c010c0" opacity="0.14"/><circle cx="68.4" cy="85.9" r="2.0" fill="#c010c0" opacity="0.35"/><circle cx="78.6" cy="51.8" r="1.1" fill="#c010c0" opacity="0.34"/><circle cx="21.1" cy="71.0" r="1.4" fill="#c010c0" opacity="0.22"/><circle cx="26.7" cy="59.0" r="1.7" fill="#c010c0" opacity="0.10"/><circle cx="46.1" cy="24.5" r="1.2" fill="#c010c0" opacity="0.21"/><circle cx="55.9" cy="31.2" r="1.2" fill="#c010c0" opacity="0.14"/><circle cx="37.5" cy="60.4" r="2.1" fill="#c010c0" opacity="0.30"/><circle cx="46.9" cy="23.9" r="1.8" fill="#c010c0" opacity="0.20"/><circle cx="31.3" cy="42.7" r="2.2" fill="#c010c0" opacity="0.30"/><circle cx="55.9" cy="102.5" r="1.9" fill="#c010c0" opacity="0.29"/><circle cx="70.2" cy="33.6" r="2.1" fill="#c010c0" opacity="0.32"/><circle cx="45.1" cy="26.2" r="1.9" fill="#c010c0" opacity="0.20"/><circle cx="54.2" cy="40.1" r="1.4" fill="#c010c0" opacity="0.22"/><circle cx="87.7" cy="64.0" r="1.8" fill="#c010c0" opacity="0.26"/><circle cx="62.6" cy="102.8" r="1.8" fill="#c010c0" opacity="0.18"/><circle cx="39.6" cy="33.1" r="1.6" fill="#c010c0" opacity="0.20"/><circle cx="93.7" cy="62.0" r="1.8" fill="#c010c0" opacity="0.29"/><circle cx="78.6" cy="59.4" r="1.7" fill="#c010c0" opacity="0.28"/><circle cx="56.7" cy="92.8" r="1.1" fill="#c010c0" opacity="0.15"/><circle cx="41.6" cy="78.3" r="1.3" fill="#c010c0" opacity="0.33"/><circle cx="26.6" cy="51.8" r="2.2" fill="#c010c0" opacity="0.24"/><circle cx="93.6" cy="60.9" r="2.0" fill="#c010c0" opacity="0.12"/><circle cx="27.0" cy="40.2" r="1.1" fill="#c010c0" opacity="0.33"/><circle cx="75.3" cy="89.3" r="1.2" fill="#c010c0" opacity="0.22"/><circle cx="41.2" cy="47.9" r="2.1" fill="#c010c0" opacity="0.21"/><circle cx="23.6" cy="56.2" r="1.4" fill="#c010c0" opacity="0.17"/><circle cx="38.8" cy="33.8" r="1.3" fill="#c010c0" opacity="0.28"/><circle cx="52.2" cy="81.6" r="1.3" fill="#c010c0" opacity="0.11"/><circle cx="78.9" cy="93.5" r="1.5" fill="#c010c0" opacity="0.32"/><circle cx="57.8" cy="40.4" r="2.2" fill="#c010c0" opacity="0.34"/><circle cx="94.2" cy="80.0" r="1.5" fill="#c010c0" opacity="0.22"/><circle cx="84.7" cy="57.5" r="1.6" fill="#c010c0" opacity="0.33"/><circle cx="52.5" cy="30.2" r="2.2" fill="#c010c0" opacity="0.30"/><circle cx="39.2" cy="47.7" r="1.7" fill="#c010c0" opacity="0.21"/><circle cx="64.2" cy="82.8" r="1.6" fill="#c010c0" opacity="0.13"/><circle cx="24.1" cy="74.7" r="1.5" fill="#c010c0" opacity="0.17"/><circle cx="30.9" cy="46.6" r="1.9" fill="#c010c0" opacity="0.23"/><circle cx="99.2" cy="61.4" r="1.9" fill="#c010c0" opacity="0.16"/><circle cx="88.4" cy="88.4" r="1.9" fill="#c010c0" opacity="0.26"/><circle cx="40.4" cy="83.5" r="1.8" fill="#c010c0" opacity="0.24"/><circle cx="28.2" cy="42.6" r="1.9" fill="#c010c0" opacity="0.15"/><circle cx="58.3" cy="103.7" r="2.1" fill="#c010c0" opacity="0.32"/><circle cx="79.3" cy="67.4" r="1.3" fill="#c010c0" opacity="0.21"/><circle cx="41.4" cy="45.7" r="1.6" fill="#c010c0" opacity="0.12"/><circle cx="89.1" cy="80.8" r="1.7" fill="#c010c0" opacity="0.26"/><circle cx="35.3" cy="85.2" r="1.3" fill="#c010c0" opacity="0.19"/><circle cx="56.7" cy="22.7" r="1.1" fill="#c010c0" opacity="0.13"/><circle cx="70.9" cy="29.1" r="1.9" fill="#c010c0" opacity="0.15"/><circle cx="33.6" cy="74.5" r="2.0" fill="#c010c0" opacity="0.19"/></g>
<ellipse cx="72.6" cy="24.2" rx="4" ry="4" transform="rotate(0 72.6 24.2)" fill="#b010b0" opacity="0.6" filter="url(#b2)"/>
<path d="M87.40,37.90 C88.27,39.48 91.38,44.42 92.60,47.40 C93.82,50.38 94.35,54.40 94.70,55.80" fill="none" stroke="#a010a0" stroke-width="6" stroke-linecap="round" stroke-linejoin="round" opacity="0.55" filter="url(#b2)"/>
<path d="M23.20,44.20 C22.83,45.95 21.18,51.18 21.00,54.70 C20.82,58.22 20.87,61.08 22.10,65.30 C23.33,69.52 27.35,77.55 28.40,80.00" fill="none" stroke="#a010a0" stroke-width="5" stroke-linecap="round" stroke-linejoin="round" opacity="0.45" filter="url(#b2)"/>
<path d="M30.00,46.30 C29.67,44.92 27.67,40.55 28.00,38.00 C28.33,35.45 30.33,32.75 32.00,31.00 C33.67,29.25 36.32,28.28 38.00,27.50 C39.68,26.72 41.42,26.50 42.10,26.30" fill="none" stroke="#d018d0" stroke-width="4" stroke-linecap="round" stroke-linejoin="round" opacity="0.75" filter="url(#b1)"/>
<path d="M42.10,26.30 C43.33,26.65 47.75,27.00 49.50,28.40 C51.25,29.80 52.43,32.23 52.60,34.70 C52.77,37.17 51.55,40.57 50.50,43.20 C49.45,45.83 47.70,48.05 46.30,50.50 C44.90,52.95 43.42,55.78 42.10,57.90 C40.78,60.02 39.02,62.32 38.40,63.20" fill="none" stroke="#c000c0" stroke-width="8.2" stroke-linecap="round" stroke-linejoin="round" opacity="0.35" filter="url(#b2)"/>
<path d="M42.10,26.30 C43.33,26.65 47.75,27.00 49.50,28.40 C51.25,29.80 52.43,32.23 52.60,34.70 C52.77,37.17 51.55,40.57 50.50,43.20 C49.45,45.83 47.70,48.05 46.30,50.50 C44.90,52.95 43.42,55.78 42.10,57.90 C40.78,60.02 39.02,62.32 38.40,63.20" fill="none" stroke="#e818e8" stroke-width="4.2" stroke-linecap="round" stroke-linejoin="round" opacity="1" filter="url(#b1)"/>
<ellipse cx="30" cy="46.3" rx="2.8" ry="2.8" transform="rotate(0 30 46.3)" fill="#ff40ff" opacity="1" filter="url(#b1)"/>
<path d="M72.60,43.20 C73.83,44.42 77.72,47.88 80.00,50.50 C82.28,53.12 84.55,56.08 86.30,58.90 C88.05,61.72 89.97,64.23 90.50,67.40 C91.03,70.57 90.55,74.92 89.50,77.90 C88.45,80.88 85.97,83.90 84.20,85.30 C82.43,86.70 80.30,86.65 78.90,86.30 C77.50,85.95 76.50,85.30 75.80,83.20 C75.10,81.10 75.40,76.52 74.70,73.70 C74.00,70.88 73.17,68.58 71.60,66.30 C70.03,64.02 67.23,61.58 65.30,60.00 C63.37,58.42 60.88,57.33 60.00,56.80" fill="none" stroke="#c000c0" stroke-width="8.1" stroke-linecap="round" stroke-linejoin="round" opacity="0.35" filter="url(#b2)"/>
<path d="M72.60,43.20 C73.83,44.42 77.72,47.88 80.00,50.50 C82.28,53.12 84.55,56.08 86.30,58.90 C88.05,61.72 89.97,64.23 90.50,67.40 C91.03,70.57 90.55,74.92 89.50,77.90 C88.45,80.88 85.97,83.90 84.20,85.30 C82.43,86.70 80.30,86.65 78.90,86.30 C77.50,85.95 76.50,85.30 75.80,83.20 C75.10,81.10 75.40,76.52 74.70,73.70 C74.00,70.88 73.17,68.58 71.60,66.30 C70.03,64.02 67.23,61.58 65.30,60.00 C63.37,58.42 60.88,57.33 60.00,56.80" fill="none" stroke="#e818e8" stroke-width="4.1" stroke-linecap="round" stroke-linejoin="round" opacity="1" filter="url(#b1)"/>
<path d="M32.60,80.00 C33.83,79.82 37.37,79.43 40.00,78.90 C42.63,78.37 46.12,77.85 48.40,76.80 C50.68,75.75 52.38,74.35 53.70,72.60 C55.02,70.85 55.87,67.35 56.30,66.30" fill="none" stroke="#c000c0" stroke-width="8.1" stroke-linecap="round" stroke-linejoin="round" opacity="0.35" filter="url(#b2)"/>
<path d="M32.60,80.00 C33.83,79.82 37.37,79.43 40.00,78.90 C42.63,78.37 46.12,77.85 48.40,76.80 C50.68,75.75 52.38,74.35 53.70,72.60 C55.02,70.85 55.87,67.35 56.30,66.30" fill="none" stroke="#e818e8" stroke-width="4.1" stroke-linecap="round" stroke-linejoin="round" opacity="1" filter="url(#b1)"/>
<ellipse cx="33" cy="80" rx="3.5" ry="3" transform="rotate(0 33 80)" fill="#ff40ff" opacity="1" filter="url(#b1)"/>
<path d="M53.70,93.70 C54.75,93.17 58.95,91.03 60.00,90.50" fill="none" stroke="#c000c0" stroke-width="9.0" stroke-linecap="round" stroke-linejoin="round" opacity="0.35" filter="url(#b2)"/>
<path d="M53.70,93.70 C54.75,93.17 58.95,91.03 60.00,90.50" fill="none" stroke="#e818e8" stroke-width="5" stroke-linecap="round" stroke-linejoin="round" opacity="1" filter="url(#b1)"/>
<path d="M10.50,111.60 C12.62,112.65 21.08,116.85 23.20,117.90" fill="none" stroke="#a010a0" stroke-width="6" stroke-linecap="round" stroke-linejoin="round" opacity="0.6" filter="url(#b2)"/>
<ellipse cx="121" cy="73.7" rx="3" ry="5" transform="rotate(0 121 73.7)" fill="#e818e8" opacity="0.9" filter="url(#b1)"/>
</g>
<clipPath id="cl3"><rect x="0" y="0" width="120" height="120"/></clipPath>
<g transform="translate(342,197)" clip-path="url(#cl3)">
<rect x="0" y="0" width="120" height="120" fill="#000"/>
<g filter="url(#b1)"><circle cx="25.4" cy="72.1" r="2.1" fill="#c010c0" opacity="0.22"/><circle cx="23.4" cy="60.3" r="1.2" fill="#c010c0" opacity="0.23"/><circle cx="31.6" cy="34.0" r="1.1" fill="#c010c0" opacity="0.18"/><circle cx="90.7" cy="82.9" r="1.8" fill="#c010c0" opacity="0.11"/><circle cx="99.2" cy="57.4" r="1.8" fill="#c010c0" opacity="0.25"/><circle cx="69.3" cy="79.1" r="1.6" fill="#c010c0" opacity="0.11"/><circle cx="67.9" cy="87.1" r="1.0" fill="#c010c0" opacity="0.22"/><circle cx="21.4" cy="76.4" r="1.6" fill="#c010c0" opacity="0.26"/><circle cx="21.9" cy="62.1" r="1.5" fill="#c010c0" opacity="0.17"/><circle cx="99.9" cy="61.4" r="2.0" fill="#c010c0" opacity="0.28"/><circle cx="47.4" cy="86.5" r="1.3" fill="#c010c0" opacity="0.12"/><circle cx="61.1" cy="31.4" r="2.0" fill="#c010c0" opacity="0.20"/><circle cx="96.1" cy="51.7" r="1.0" fill="#c010c0" opacity="0.15"/><circle cx="85.3" cy="44.8" r="2.2" fill="#c010c0" opacity="0.20"/><circle cx="89.8" cy="77.7" r="1.9" fill="#c010c0" opacity="0.17"/><circle cx="82.9" cy="77.2" r="2.2" fill="#c010c0" opacity="0.29"/><circle cx="78.0" cy="80.3" r="1.1" fill="#c010c0" opacity="0.11"/><circle cx="65.4" cy="37.8" r="1.7" fill="#c010c0" opacity="0.21"/><circle cx="71.6" cy="96.8" r="1.2" fill="#c010c0" opacity="0.26"/><circle cx="81.2" cy="82.9" r="1.3" fill="#c010c0" opacity="0.17"/><circle cx="96.0" cy="55.0" r="1.4" fill="#c010c0" opacity="0.32"/><circle cx="65.5" cy="91.7" r="2.0" fill="#c010c0" opacity="0.26"/><circle cx="91.8" cy="86.7" r="1.3" fill="#c010c0" opacity="0.16"/><circle cx="62.1" cy="33.2" r="1.4" fill="#c010c0" opacity="0.12"/><circle cx="87.2" cy="80.5" r="1.3" fill="#c010c0" opacity="0.25"/><circle cx="35.9" cy="85.0" r="2.2" fill="#c010c0" opacity="0.22"/><circle cx="22.5" cy="44.0" r="1.2" fill="#c010c0" opacity="0.14"/><circle cx="90.7" cy="40.8" r="1.3" fill="#c010c0" opacity="0.15"/><circle cx="55.3" cy="21.1" r="1.2" fill="#c010c0" opacity="0.34"/><circle cx="83.8" cy="38.4" r="1.5" fill="#c010c0" opacity="0.13"/><circle cx="98.2" cy="72.0" r="1.3" fill="#c010c0" opacity="0.28"/><circle cx="56.3" cy="101.0" r="1.7" fill="#c010c0" opacity="0.17"/><circle cx="74.8" cy="95.2" r="1.1" fill="#c010c0" opacity="0.16"/><circle cx="21.2" cy="47.6" r="1.7" fill="#c010c0" opacity="0.17"/><circle cx="80.6" cy="49.1" r="1.0" fill="#c010c0" opacity="0.17"/><circle cx="37.3" cy="69.3" r="1.2" fill="#c010c0" opacity="0.19"/><circle cx="36.4" cy="51.5" r="1.4" fill="#c010c0" opacity="0.32"/><circle cx="93.7" cy="57.6" r="1.8" fill="#c010c0" opacity="0.25"/><circle cx="71.5" cy="78.3" r="1.0" fill="#c010c0" opacity="0.33"/><circle cx="45.4" cy="22.6" r="1.0" fill="#c010c0" opacity="0.26"/><circle cx="20.9" cy="66.2" r="1.4" fill="#c010c0" opacity="0.35"/><circle cx="88.1" cy="77.4" r="1.9" fill="#c010c0" opacity="0.33"/><circle cx="55.0" cy="25.2" r="2.0" fill="#c010c0" opacity="0.33"/><circle cx="36.2" cy="91.3" r="2.1" fill="#c010c0" opacity="0.32"/><circle cx="24.6" cy="81.1" r="2.0" fill="#c010c0" opacity="0.24"/><circle cx="36.5" cy="40.5" r="1.7" fill="#c010c0" opacity="0.25"/><circle cx="89.2" cy="79.2" r="2.2" fill="#c010c0" opacity="0.32"/><circle cx="53.8" cy="31.8" r="1.9" fill="#c010c0" opacity="0.25"/><circle cx="21.4" cy="76.3" r="1.1" fill="#c010c0" opacity="0.29"/><circle cx="92.3" cy="68.5" r="1.6" fill="#c010c0" opacity="0.16"/><circle cx="47.5" cy="30.9" r="1.7" fill="#c010c0" opacity="0.33"/><circle cx="57.3" cy="82.4" r="1.4" fill="#c010c0" opacity="0.27"/><circle cx="65.4" cy="86.0" r="2.1" fill="#c010c0" opacity="0.26"/><circle cx="20.4" cy="76.3" r="1.4" fill="#c010c0" opacity="0.27"/><circle cx="68.0" cy="91.8" r="2.0" fill="#c010c0" opacity="0.33"/><circle cx="80.2" cy="41.2" r="1.7" fill="#c010c0" opacity="0.18"/><circle cx="79.5" cy="86.8" r="2.0" fill="#c010c0" opacity="0.31"/><circle cx="48.1" cy="22.0" r="1.3" fill="#c010c0" opacity="0.14"/><circle cx="31.5" cy="70.5" r="1.3" fill="#c010c0" opacity="0.20"/><circle cx="34.9" cy="38.7" r="1.4" fill="#c010c0" opacity="0.31"/><circle cx="89.7" cy="58.4" r="1.1" fill="#c010c0" opacity="0.11"/><circle cx="72.9" cy="46.7" r="1.9" fill="#c010c0" opacity="0.24"/><circle cx="44.1" cy="97.9" r="1.0" fill="#c010c0" opacity="0.13"/><circle cx="38.0" cy="67.8" r="2.0" fill="#c010c0" opacity="0.16"/><circle cx="71.6" cy="78.7" r="1.8" fill="#c010c0" opacity="0.21"/><circle cx="33.4" cy="35.8" r="2.0" fill="#c010c0" opacity="0.34"/><circle cx="47.6" cy="38.2" r="1.6" fill="#c010c0" opacity="0.14"/><circle cx="90.2" cy="64.2" r="1.9" fill="#c010c0" opacity="0.14"/><circle cx="53.9" cy="91.2" r="1.8" fill="#c010c0" opacity="0.23"/><circle cx="29.5" cy="37.1" r="1.5" fill="#c010c0" opacity="0.30"/><circle cx="76.9" cy="49.3" r="2.1" fill="#c010c0" opacity="0.28"/><circle cx="79.9" cy="85.3" r="1.8" fill="#c010c0" opacity="0.33"/><circle cx="33.5" cy="86.0" r="2.1" fill="#c010c0" opacity="0.30"/><circle cx="88.2" cy="51.0" r="1.8" fill="#c010c0" opacity="0.15"/><circle cx="51.2" cy="23.7" r="1.8" fill="#c010c0" opacity="0.28"/><circle cx="67.2" cy="101.3" r="2.2" fill="#c010c0" opacity="0.34"/><circle cx="20.6" cy="53.2" r="1.4" fill="#c010c0" opacity="0.33"/><circle cx="76.2" cy="38.7" r="1.1" fill="#c010c0" opacity="0.21"/><circle cx="21.8" cy="50.2" r="1.6" fill="#c010c0" opacity="0.11"/><circle cx="66.0" cy="41.4" r="2.0" fill="#c010c0" opacity="0.14"/><circle cx="38.5" cy="95.1" r="1.2" fill="#c010c0" opacity="0.14"/><circle cx="21.0" cy="58.1" r="2.0" fill="#c010c0" opacity="0.27"/><circle cx="88.9" cy="51.1" r="2.1" fill="#c010c0" opacity="0.12"/><circle cx="64.0" cy="94.9" r="1.3" fill="#c010c0" opacity="0.28"/><circle cx="36.6" cy="36.4" r="2.0" fill="#c010c0" opacity="0.24"/><circle cx="46.5" cy="90.1" r="2.0" fill="#c010c0" opacity="0.33"/><circle cx="68.2" cy="100.2" r="2.2" fill="#c010c0" opacity="0.23"/><circle cx="34.7" cy="50.5" r="1.6" fill="#c010c0" opacity="0.23"/><circle cx="41.5" cy="49.2" r="2.2" fill="#c010c0" opacity="0.23"/><circle cx="26.7" cy="84.6" r="1.7" fill="#c010c0" opacity="0.22"/><circle cx="50.0" cy="41.4" r="1.6" fill="#c010c0" opacity="0.20"/><circle cx="97.3" cy="51.1" r="1.3" fill="#c010c0" opacity="0.22"/><circle cx="80.0" cy="84.5" r="2.0" fill="#c010c0" opacity="0.33"/><circle cx="29.5" cy="66.2" r="1.2" fill="#c010c0" opacity="0.25"/><circle cx="79.4" cy="51.1" r="1.9" fill="#c010c0" opacity="0.11"/><circle cx="67.2" cy="87.0" r="1.8" fill="#c010c0" opacity="0.18"/><circle cx="36.3" cy="89.8" r="1.1" fill="#c010c0" opacity="0.28"/><circle cx="81.7" cy="85.1" r="1.3" fill="#c010c0" opacity="0.15"/><circle cx="27.0" cy="56.0" r="1.5" fill="#c010c0" opacity="0.20"/><circle cx="33.6" cy="57.4" r="1.2" fill="#c010c0" opacity="0.26"/><circle cx="36.4" cy="36.4" r="2.0" fill="#c010c0" opacity="0.25"/><circle cx="74.6" cy="41.0" r="1.9" fill="#c010c0" opacity="0.30"/><circle cx="81.6" cy="45.5" r="1.4" fill="#c010c0" opacity="0.33"/><circle cx="66.3" cy="103.1" r="2.1" fill="#c010c0" opacity="0.13"/><circle cx="60.5" cy="99.2" r="1.3" fill="#c010c0" opacity="0.12"/><circle cx="73.4" cy="34.8" r="1.9" fill="#c010c0" opacity="0.13"/><circle cx="28.1" cy="83.0" r="1.0" fill="#c010c0" opacity="0.15"/><circle cx="41.3" cy="25.1" r="2.2" fill="#c010c0" opacity="0.13"/><circle cx="20.2" cy="60.6" r="1.6" fill="#c010c0" opacity="0.27"/><circle cx="66.3" cy="82.7" r="1.1" fill="#c010c0" opacity="0.11"/><circle cx="26.5" cy="51.4" r="1.7" fill="#c010c0" opacity="0.14"/><circle cx="68.4" cy="85.9" r="2.0" fill="#c010c0" opacity="0.35"/><circle cx="78.6" cy="51.8" r="1.1" fill="#c010c0" opacity="0.34"/><circle cx="21.1" cy="71.0" r="1.4" fill="#c010c0" opacity="0.22"/><circle cx="26.7" cy="59.0" r="1.7" fill="#c010c0" opacity="0.10"/><circle cx="46.1" cy="24.5" r="1.2" fill="#c010c0" opacity="0.21"/><circle cx="55.9" cy="31.2" r="1.2" fill="#c010c0" opacity="0.14"/><circle cx="37.5" cy="60.4" r="2.1" fill="#c010c0" opacity="0.30"/><circle cx="46.9" cy="23.9" r="1.8" fill="#c010c0" opacity="0.20"/><circle cx="31.3" cy="42.7" r="2.2" fill="#c010c0" opacity="0.30"/><circle cx="55.9" cy="102.5" r="1.9" fill="#c010c0" opacity="0.29"/><circle cx="70.2" cy="33.6" r="2.1" fill="#c010c0" opacity="0.32"/><circle cx="45.1" cy="26.2" r="1.9" fill="#c010c0" opacity="0.20"/><circle cx="54.2" cy="40.1" r="1.4" fill="#c010c0" opacity="0.22"/><circle cx="87.7" cy="64.0" r="1.8" fill="#c010c0" opacity="0.26"/><circle cx="62.6" cy="102.8" r="1.8" fill="#c010c0" opacity="0.18"/><circle cx="39.6" cy="33.1" r="1.6" fill="#c010c0" opacity="0.20"/><circle cx="93.7" cy="62.0" r="1.8" fill="#c010c0" opacity="0.29"/><circle cx="78.6" cy="59.4" r="1.7" fill="#c010c0" opacity="0.28"/><circle cx="56.7" cy="92.8" r="1.1" fill="#c010c0" opacity="0.15"/><circle cx="41.6" cy="78.3" r="1.3" fill="#c010c0" opacity="0.33"/><circle cx="26.6" cy="51.8" r="2.2" fill="#c010c0" opacity="0.24"/><circle cx="93.6" cy="60.9" r="2.0" fill="#c010c0" opacity="0.12"/><circle cx="27.0" cy="40.2" r="1.1" fill="#c010c0" opacity="0.33"/><circle cx="75.3" cy="89.3" r="1.2" fill="#c010c0" opacity="0.22"/><circle cx="41.2" cy="47.9" r="2.1" fill="#c010c0" opacity="0.21"/><circle cx="23.6" cy="56.2" r="1.4" fill="#c010c0" opacity="0.17"/><circle cx="38.8" cy="33.8" r="1.3" fill="#c010c0" opacity="0.28"/><circle cx="52.2" cy="81.6" r="1.3" fill="#c010c0" opacity="0.11"/><circle cx="78.9" cy="93.5" r="1.5" fill="#c010c0" opacity="0.32"/><circle cx="57.8" cy="40.4" r="2.2" fill="#c010c0" opacity="0.34"/><circle cx="94.2" cy="80.0" r="1.5" fill="#c010c0" opacity="0.22"/><circle cx="84.7" cy="57.5" r="1.6" fill="#c010c0" opacity="0.33"/><circle cx="52.5" cy="30.2" r="2.2" fill="#c010c0" opacity="0.30"/><circle cx="39.2" cy="47.7" r="1.7" fill="#c010c0" opacity="0.21"/><circle cx="64.2" cy="82.8" r="1.6" fill="#c010c0" opacity="0.13"/><circle cx="24.1" cy="74.7" r="1.5" fill="#c010c0" opacity="0.17"/><circle cx="30.9" cy="46.6" r="1.9" fill="#c010c0" opacity="0.23"/><circle cx="99.2" cy="61.4" r="1.9" fill="#c010c0" opacity="0.16"/><circle cx="88.4" cy="88.4" r="1.9" fill="#c010c0" opacity="0.26"/><circle cx="40.4" cy="83.5" r="1.8" fill="#c010c0" opacity="0.24"/><circle cx="28.2" cy="42.6" r="1.9" fill="#c010c0" opacity="0.15"/><circle cx="58.3" cy="103.7" r="2.1" fill="#c010c0" opacity="0.32"/><circle cx="79.3" cy="67.4" r="1.3" fill="#c010c0" opacity="0.21"/><circle cx="41.4" cy="45.7" r="1.6" fill="#c010c0" opacity="0.12"/><circle cx="89.1" cy="80.8" r="1.7" fill="#c010c0" opacity="0.26"/><circle cx="35.3" cy="85.2" r="1.3" fill="#c010c0" opacity="0.19"/><circle cx="56.7" cy="22.7" r="1.1" fill="#c010c0" opacity="0.13"/><circle cx="70.9" cy="29.1" r="1.9" fill="#c010c0" opacity="0.15"/><circle cx="33.6" cy="74.5" r="2.0" fill="#c010c0" opacity="0.19"/></g>
<ellipse cx="72.6" cy="24.2" rx="4" ry="4" transform="rotate(0 72.6 24.2)" fill="#b010b0" opacity="0.6" filter="url(#b2)"/>
<path d="M87.40,37.90 C88.27,39.48 91.38,44.42 92.60,47.40 C93.82,50.38 94.35,54.40 94.70,55.80" fill="none" stroke="#a010a0" stroke-width="6" stroke-linecap="round" stroke-linejoin="round" opacity="0.55" filter="url(#b2)"/>
<path d="M23.20,44.20 C22.83,45.95 21.18,51.18 21.00,54.70 C20.82,58.22 20.87,61.08 22.10,65.30 C23.33,69.52 27.35,77.55 28.40,80.00" fill="none" stroke="#a010a0" stroke-width="5" stroke-linecap="round" stroke-linejoin="round" opacity="0.45" filter="url(#b2)"/>
<path d="M30.00,46.30 C29.67,44.92 27.67,40.55 28.00,38.00 C28.33,35.45 30.33,32.75 32.00,31.00 C33.67,29.25 36.32,28.28 38.00,27.50 C39.68,26.72 41.42,26.50 42.10,26.30" fill="none" stroke="#d018d0" stroke-width="4" stroke-linecap="round" stroke-linejoin="round" opacity="0.75" filter="url(#b1)"/>
<path d="M42.10,26.30 C43.33,26.65 47.75,27.00 49.50,28.40 C51.25,29.80 52.43,32.23 52.60,34.70 C52.77,37.17 51.55,40.57 50.50,43.20 C49.45,45.83 47.70,48.05 46.30,50.50 C44.90,52.95 43.42,55.78 42.10,57.90 C40.78,60.02 39.02,62.32 38.40,63.20" fill="none" stroke="#c000c0" stroke-width="8.2" stroke-linecap="round" stroke-linejoin="round" opacity="0.35" filter="url(#b2)"/>
<path d="M42.10,26.30 C43.33,26.65 47.75,27.00 49.50,28.40 C51.25,29.80 52.43,32.23 52.60,34.70 C52.77,37.17 51.55,40.57 50.50,43.20 C49.45,45.83 47.70,48.05 46.30,50.50 C44.90,52.95 43.42,55.78 42.10,57.90 C40.78,60.02 39.02,62.32 38.40,63.20" fill="none" stroke="#e818e8" stroke-width="4.2" stroke-linecap="round" stroke-linejoin="round" opacity="1" filter="url(#b1)"/>
<ellipse cx="30" cy="46.3" rx="2.8" ry="2.8" transform="rotate(0 30 46.3)" fill="#ff40ff" opacity="1" filter="url(#b1)"/>
<path d="M72.60,43.20 C73.83,44.42 77.72,47.88 80.00,50.50 C82.28,53.12 84.55,56.08 86.30,58.90 C88.05,61.72 89.97,64.23 90.50,67.40 C91.03,70.57 90.55,74.92 89.50,77.90 C88.45,80.88 85.97,83.90 84.20,85.30 C82.43,86.70 80.30,86.65 78.90,86.30 C77.50,85.95 76.50,85.30 75.80,83.20 C75.10,81.10 75.40,76.52 74.70,73.70 C74.00,70.88 73.17,68.58 71.60,66.30 C70.03,64.02 67.23,61.58 65.30,60.00 C63.37,58.42 60.88,57.33 60.00,56.80" fill="none" stroke="#c000c0" stroke-width="8.1" stroke-linecap="round" stroke-linejoin="round" opacity="0.35" filter="url(#b2)"/>
<path d="M72.60,43.20 C73.83,44.42 77.72,47.88 80.00,50.50 C82.28,53.12 84.55,56.08 86.30,58.90 C88.05,61.72 89.97,64.23 90.50,67.40 C91.03,70.57 90.55,74.92 89.50,77.90 C88.45,80.88 85.97,83.90 84.20,85.30 C82.43,86.70 80.30,86.65 78.90,86.30 C77.50,85.95 76.50,85.30 75.80,83.20 C75.10,81.10 75.40,76.52 74.70,73.70 C74.00,70.88 73.17,68.58 71.60,66.30 C70.03,64.02 67.23,61.58 65.30,60.00 C63.37,58.42 60.88,57.33 60.00,56.80" fill="none" stroke="#e818e8" stroke-width="4.1" stroke-linecap="round" stroke-linejoin="round" opacity="1" filter="url(#b1)"/>
<path d="M32.60,80.00 C33.83,79.82 37.37,79.43 40.00,78.90 C42.63,78.37 46.12,77.85 48.40,76.80 C50.68,75.75 52.38,74.35 53.70,72.60 C55.02,70.85 55.87,67.35 56.30,66.30" fill="none" stroke="#c000c0" stroke-width="8.1" stroke-linecap="round" stroke-linejoin="round" opacity="0.35" filter="url(#b2)"/>
<path d="M32.60,80.00 C33.83,79.82 37.37,79.43 40.00,78.90 C42.63,78.37 46.12,77.85 48.40,76.80 C50.68,75.75 52.38,74.35 53.70,72.60 C55.02,70.85 55.87,67.35 56.30,66.30" fill="none" stroke="#e818e8" stroke-width="4.1" stroke-linecap="round" stroke-linejoin="round" opacity="1" filter="url(#b1)"/>
<ellipse cx="33" cy="80" rx="3.5" ry="3" transform="rotate(0 33 80)" fill="#ff40ff" opacity="1" filter="url(#b1)"/>
<path d="M53.70,93.70 C54.75,93.17 58.95,91.03 60.00,90.50" fill="none" stroke="#c000c0" stroke-width="9.0" stroke-linecap="round" stroke-linejoin="round" opacity="0.35" filter="url(#b2)"/>
<path d="M53.70,93.70 C54.75,93.17 58.95,91.03 60.00,90.50" fill="none" stroke="#e818e8" stroke-width="5" stroke-linecap="round" stroke-linejoin="round" opacity="1" filter="url(#b1)"/>
<path d="M10.50,111.60 C12.62,112.65 21.08,116.85 23.20,117.90" fill="none" stroke="#a010a0" stroke-width="6" stroke-linecap="round" stroke-linejoin="round" opacity="0.6" filter="url(#b2)"/>
<ellipse cx="121" cy="73.7" rx="3" ry="5" transform="rotate(0 121 73.7)" fill="#e818e8" opacity="0.9" filter="url(#b1)"/>
<ellipse cx="66.5" cy="60" rx="10" ry="4" transform="rotate(36 66.5 60)" fill="#30ff30" opacity="0.85" filter="url(#b1)"/>
<ellipse cx="68" cy="61.5" rx="5" ry="1.8" transform="rotate(36 68 61.5)" fill="#f0e0ff" opacity="0.8" filter="url(#b1)"/>
</g>
<rect x="425.2" y="287.6" width="17.5" height="5.5" fill="#fff"/>
<text x="418.50" y="310.60" font-size="15" textLength="35.00" lengthAdjust="spacingAndGlyphs" fill="#fff">1 µm</text>
<rect x="468.75" y="197.75" width="117.50" height="117.50" fill="#fff" stroke="#111" stroke-width="1.6"/>
<circle cx="525" cy="256.5" r="42.3" fill="none" stroke="#b5b5b5" stroke-width="1.5" stroke-dasharray="5.5,4.5"/>
<ellipse cx="556.4" cy="261.5" rx="3.2" ry="5" transform="rotate(-25 556.4 261.5)" fill="#cde8d4"/>
<rect x="523" y="251.3" width="21.5" height="11" rx="4.5" transform="rotate(31 533.7 256.8)" fill="#5cbc6e"/>
<path d="M522.50,248.00 C523.75,249.00 527.33,251.92 530.00,254.00 C532.67,256.08 537.08,259.42 538.50,260.50" fill="none" stroke="#3d6b4a" stroke-width="1.5" stroke-dasharray="4,2.5"/>
<path d="M538.00,236.50 C538.62,237.47 540.03,240.12 541.70,242.30 C543.37,244.48 546.07,247.32 548.00,249.60 C549.93,251.88 551.75,253.53 553.30,256.00 C554.85,258.47 556.47,261.90 557.30,264.40 C558.13,266.90 558.40,268.85 558.30,271.00 C558.20,273.15 557.58,275.42 556.70,277.30 C555.82,279.18 554.45,281.12 553.00,282.30 C551.55,283.48 549.53,284.40 548.00,284.40 C546.47,284.40 544.58,283.70 543.80,282.30 C543.02,280.90 543.62,278.28 543.30,276.00 C542.98,273.72 542.52,270.72 541.90,268.60 C541.28,266.48 539.98,264.18 539.60,263.30" fill="none" stroke="#f07ef0" stroke-width="3.8" stroke-linecap="round" stroke-linejoin="round"/>
<path d="M538.00,236.50 C538.62,237.47 540.03,240.12 541.70,242.30 C543.37,244.48 546.07,247.32 548.00,249.60 C549.93,251.88 551.75,253.53 553.30,256.00 C554.85,258.47 556.47,261.90 557.30,264.40 C558.13,266.90 558.40,268.85 558.30,271.00 C558.20,273.15 557.58,275.42 556.70,277.30 C555.82,279.18 554.45,281.12 553.00,282.30 C551.55,283.48 549.53,284.40 548.00,284.40 C546.47,284.40 544.58,283.70 543.80,282.30 C543.02,280.90 543.62,278.28 543.30,276.00 C542.98,273.72 542.52,270.72 541.90,268.60 C541.28,266.48 539.98,264.18 539.60,263.30" fill="none" stroke="#4a0050" stroke-width="1.7" stroke-dasharray="4.5,3" stroke-dashoffset="0"/>
<line x1="538.00" y1="227.00" x2="538.00" y2="231.00" stroke="#111" stroke-width="1.8"/>
<line x1="502.20" y1="235.40" x2="515.87" y2="244.88" stroke="#111" stroke-width="1.6"/>
<polygon points="520.80,248.30 513.61,247.27 516.10,245.04 517.31,241.93" fill="#111"/>
<line x1="525.00" y1="251.50" x2="524.17" y2="249.76" stroke="#111" stroke-width="1.2"/>
<polygon points="521.80,244.80 527.09,248.92 524.08,249.56 521.68,251.51" fill="#111"/>
<line x1="565.50" y1="275.50" x2="563.74" y2="273.29" stroke="#111" stroke-width="1.4"/>
<polygon points="560.30,269.00 566.39,271.81 563.60,273.12 561.71,275.56" fill="#111"/>
<text x="475.20" y="219.70" font-size="15" textLength="65.80" lengthAdjust="spacingAndGlyphs">Cluster II</text>
<text x="471.50" y="272.30" font-size="15" textLength="37.50" lengthAdjust="spacingAndGlyphs" fill="#e000e0">LG IV</text>
<text x="517.00" y="296.60" font-size="15" textLength="61.80" lengthAdjust="spacingAndGlyphs">Cluster I</text>
<rect x="251.00" y="325.00" width="47.00" height="115.50" fill="#dcf0e4"/>
<rect x="428.00" y="325.00" width="73.60" height="115.50" fill="#efe6f8"/>
<polyline points="121.25,428.00 127.50,430.00 135.00,429.50 145.00,428.00 150.00,426.25 155.00,422.50 160.00,414.50 165.00,406.25 172.50,405.50 177.50,406.25 185.00,404.50 192.50,402.00 200.00,403.25 205.00,402.50 212.50,400.75 217.50,396.25 222.50,393.00 230.00,395.50 237.50,397.50 249.00,397.40 258.00,401.00 270.00,405.50 285.00,408.50 300.00,413.60 321.00,417.50 336.00,410.00 348.00,408.50 360.00,400.10 372.00,389.00 378.00,389.60 387.00,404.00 393.00,405.50 402.00,393.50 408.00,392.90 420.00,407.00 438.00,407.00 447.00,401.00 456.00,400.40 468.00,408.50 477.00,413.00 489.00,410.00 498.00,419.00 507.00,429.50 522.00,429.50 531.00,429.50" fill="none" stroke="#ff00ff" stroke-width="2.6" stroke-linejoin="round" stroke-linecap="round"/>
<polyline points="121.25,429.25 132.50,430.75 140.00,428.75 150.00,425.00 155.00,423.00 162.50,424.50 172.50,422.50 177.50,420.75 187.50,422.50 197.50,418.75 205.00,420.00 212.50,423.25 220.00,421.25 230.00,422.50 237.50,420.00 252.00,417.50 264.00,418.40 270.00,416.00 282.00,416.00 297.00,418.40 306.00,424.40 315.00,422.00 324.00,421.40 330.00,417.50 339.00,419.00 348.00,416.00 360.00,416.60 372.00,416.00 381.00,417.50 390.00,415.40 399.00,420.50 408.00,417.50 417.00,413.00 426.00,404.00 432.00,402.50 444.00,387.50 450.00,381.50 462.00,363.50 471.00,366.50 477.00,364.40 483.00,371.00 495.00,401.00 504.00,413.00 513.00,423.50 522.00,427.40 531.00,426.50" fill="none" stroke="#35a868" stroke-width="2.6" stroke-linejoin="round" stroke-linecap="round"/>
<rect x="92.00" y="324.50" width="495.00" height="116.50" fill="none" stroke="#222" stroke-width="1.2"/>
<line x1="86.00" y1="339.50" x2="92.00" y2="339.50" stroke="#333" stroke-width="1"/>
<text x="74.50" y="344.70" font-size="15.5" text-anchor="end" textLength="45.60" lengthAdjust="spacingAndGlyphs">6,000</text>
<line x1="86.00" y1="370.67" x2="92.00" y2="370.67" stroke="#333" stroke-width="1"/>
<text x="74.50" y="375.87" font-size="15.5" text-anchor="end" textLength="45.60" lengthAdjust="spacingAndGlyphs">4,000</text>
<line x1="86.00" y1="401.83" x2="92.00" y2="401.83" stroke="#333" stroke-width="1"/>
<text x="74.50" y="407.03" font-size="15.5" text-anchor="end" textLength="45.60" lengthAdjust="spacingAndGlyphs">2,000</text>
<line x1="86.00" y1="433.00" x2="92.00" y2="433.00" stroke="#333" stroke-width="1"/>
<text x="74.50" y="438.20" font-size="15.5" text-anchor="end" textLength="9.60" lengthAdjust="spacingAndGlyphs">0</text>
<line x1="88.50" y1="417.42" x2="92.00" y2="417.42" stroke="#333" stroke-width="1"/>
<line x1="88.50" y1="386.25" x2="92.00" y2="386.25" stroke="#333" stroke-width="1"/>
<line x1="88.50" y1="355.09" x2="92.00" y2="355.09" stroke="#333" stroke-width="1"/>
<line x1="121.30" y1="441.00" x2="121.30" y2="446.00" stroke="#333" stroke-width="1"/>
<text x="121.30" y="463.60" font-size="15.5" text-anchor="middle" textLength="9.60" lengthAdjust="spacingAndGlyphs">0</text>
<line x1="179.40" y1="441.00" x2="179.40" y2="444.00" stroke="#333" stroke-width="1"/>
<line x1="237.50" y1="441.00" x2="237.50" y2="446.00" stroke="#333" stroke-width="1"/>
<text x="237.50" y="463.60" font-size="15.5" text-anchor="middle" textLength="9.60" lengthAdjust="spacingAndGlyphs">2</text>
<line x1="295.60" y1="441.00" x2="295.60" y2="444.00" stroke="#333" stroke-width="1"/>
<line x1="353.70" y1="441.00" x2="353.70" y2="446.00" stroke="#333" stroke-width="1"/>
<text x="353.70" y="463.60" font-size="15.5" text-anchor="middle" textLength="9.60" lengthAdjust="spacingAndGlyphs">4</text>
<line x1="411.80" y1="441.00" x2="411.80" y2="444.00" stroke="#333" stroke-width="1"/>
<line x1="469.90" y1="441.00" x2="469.90" y2="446.00" stroke="#333" stroke-width="1"/>
<text x="469.90" y="463.60" font-size="15.5" text-anchor="middle" textLength="9.60" lengthAdjust="spacingAndGlyphs">6</text>
<line x1="528.00" y1="441.00" x2="528.00" y2="444.00" stroke="#333" stroke-width="1"/>
<line x1="586.10" y1="441.00" x2="586.10" y2="446.00" stroke="#333" stroke-width="1"/>
<text x="586.10" y="463.60" font-size="15.5" text-anchor="middle" textLength="9.60" lengthAdjust="spacingAndGlyphs">8</text>
<text x="14.50" y="383.00" font-size="18.5" text-anchor="middle" textLength="34.00" lengthAdjust="spacingAndGlyphs" transform="rotate(-90 14.50 383.00)">RFU</text>
<text x="340.00" y="491.70" font-size="17.6" text-anchor="middle" textLength="195.50" lengthAdjust="spacingAndGlyphs">Distance of LG IV (µm)</text>
<line x1="115.80" y1="335.80" x2="133.80" y2="335.80" stroke="#35a868" stroke-width="1.9"/>
<line x1="115.80" y1="363.00" x2="133.80" y2="363.00" stroke="#ff00ff" stroke-width="1.9"/>
<text x="145.00" y="341.40" font-size="14.8" textLength="85.00" lengthAdjust="spacingAndGlyphs">UAD-2::GFP</text>
<text x="145.00" y="368.20" font-size="14.8" textLength="101.00" lengthAdjust="spacingAndGlyphs">tagRFP::SYP-1</text>
<text x="243.60" y="386.00" font-size="15.5" textLength="61.80" lengthAdjust="spacingAndGlyphs">Cluster I</text>
<line x1="274.50" y1="399.50" x2="274.50" y2="406.50" stroke="#111" stroke-width="1.5"/>
<polygon points="274.50,412.00 271.50,406.00 274.50,406.72 277.50,406.00" fill="#111"/>
<text x="345.60" y="381.00" font-size="15.5" textLength="66.00" lengthAdjust="spacingAndGlyphs">Cluster II</text>
<line x1="432.00" y1="375.00" x2="442.00" y2="375.00" stroke="#111" stroke-width="1.5"/>
<polygon points="447.50,375.00 441.50,378.00 442.22,375.00 441.50,372.00" fill="#111"/>
<text x="602.50" y="184.00" font-size="27" textLength="18.50" lengthAdjust="spacingAndGlyphs" font-weight="bold" fill="#000">c</text>
<text x="767.00" y="186.20" font-size="18.8" text-anchor="middle" textLength="66.00" lengthAdjust="spacingAndGlyphs">TOFU-4</text>
<text x="893.00" y="186.20" font-size="18.8" text-anchor="middle" textLength="46.70" lengthAdjust="spacingAndGlyphs">SYP-1</text>
<text x="1018.50" y="186.20" font-size="18.8" text-anchor="middle" textLength="55.30" lengthAdjust="spacingAndGlyphs">Merge</text>
<clipPath id="cl4"><rect x="0" y="0" width="120" height="120"/></clipPath>
<g transform="translate(699,196)" clip-path="url(#cl4)">
<rect x="0" y="0" width="120" height="120" fill="#000"/>
<g filter="url(#b2)"><circle cx="38.9" cy="70.0" r="1.5" fill="#116011" opacity="0.21"/><circle cx="26.2" cy="41.2" r="2.2" fill="#116011" opacity="0.12"/><circle cx="50.6" cy="27.0" r="2.6" fill="#116011" opacity="0.17"/><circle cx="67.9" cy="33.9" r="1.5" fill="#116011" opacity="0.08"/><circle cx="50.9" cy="37.6" r="2.4" fill="#116011" opacity="0.16"/><circle cx="84.9" cy="68.1" r="1.3" fill="#116011" opacity="0.20"/><circle cx="64.9" cy="39.0" r="2.5" fill="#116011" opacity="0.18"/><circle cx="76.0" cy="78.0" r="1.4" fill="#116011" opacity="0.21"/><circle cx="40.3" cy="22.0" r="1.3" fill="#116011" opacity="0.11"/><circle cx="32.3" cy="35.6" r="1.5" fill="#116011" opacity="0.20"/><circle cx="66.9" cy="37.4" r="1.5" fill="#116011" opacity="0.17"/><circle cx="28.2" cy="73.0" r="2.1" fill="#116011" opacity="0.12"/><circle cx="71.4" cy="58.4" r="2.0" fill="#116011" opacity="0.18"/><circle cx="25.0" cy="70.6" r="2.2" fill="#116011" opacity="0.20"/><circle cx="41.0" cy="36.8" r="1.4" fill="#116011" opacity="0.07"/><circle cx="87.6" cy="64.5" r="2.8" fill="#116011" opacity="0.18"/><circle cx="77.9" cy="75.6" r="1.4" fill="#116011" opacity="0.20"/><circle cx="35.8" cy="29.0" r="2.3" fill="#116011" opacity="0.13"/><circle cx="75.1" cy="26.4" r="1.6" fill="#116011" opacity="0.13"/><circle cx="50.8" cy="24.9" r="1.9" fill="#116011" opacity="0.13"/><circle cx="75.5" cy="51.6" r="1.6" fill="#116011" opacity="0.17"/><circle cx="48.1" cy="90.8" r="1.8" fill="#116011" opacity="0.21"/><circle cx="28.5" cy="80.0" r="2.6" fill="#116011" opacity="0.18"/><circle cx="58.1" cy="74.1" r="1.3" fill="#116011" opacity="0.09"/><circle cx="46.5" cy="43.1" r="1.6" fill="#116011" opacity="0.15"/><circle cx="67.1" cy="75.4" r="1.6" fill="#116011" opacity="0.17"/><circle cx="81.2" cy="81.0" r="2.3" fill="#116011" opacity="0.17"/><circle cx="28.0" cy="47.1" r="2.9" fill="#116011" opacity="0.20"/><circle cx="59.9" cy="43.9" r="2.3" fill="#116011" opacity="0.21"/><circle cx="36.1" cy="34.8" r="2.4" fill="#116011" opacity="0.09"/><circle cx="49.4" cy="23.1" r="1.3" fill="#116011" opacity="0.14"/><circle cx="34.2" cy="42.5" r="2.4" fill="#116011" opacity="0.21"/><circle cx="73.0" cy="43.3" r="1.5" fill="#116011" opacity="0.20"/><circle cx="28.0" cy="34.0" r="2.8" fill="#116011" opacity="0.10"/><circle cx="34.6" cy="44.2" r="2.6" fill="#116011" opacity="0.17"/><circle cx="55.9" cy="83.4" r="2.3" fill="#116011" opacity="0.10"/><circle cx="65.1" cy="80.5" r="1.3" fill="#116011" opacity="0.14"/><circle cx="85.6" cy="43.5" r="1.3" fill="#116011" opacity="0.19"/><circle cx="47.3" cy="24.9" r="1.2" fill="#116011" opacity="0.18"/><circle cx="65.3" cy="87.6" r="1.8" fill="#116011" opacity="0.12"/><circle cx="70.3" cy="86.7" r="1.6" fill="#116011" opacity="0.20"/><circle cx="36.0" cy="54.4" r="2.4" fill="#116011" opacity="0.14"/><circle cx="87.5" cy="61.7" r="1.7" fill="#116011" opacity="0.06"/><circle cx="57.3" cy="24.0" r="1.9" fill="#116011" opacity="0.09"/><circle cx="25.1" cy="51.1" r="2.4" fill="#116011" opacity="0.14"/><circle cx="24.8" cy="42.8" r="1.5" fill="#116011" opacity="0.09"/><circle cx="21.5" cy="59.2" r="2.6" fill="#116011" opacity="0.20"/><circle cx="24.4" cy="67.9" r="1.4" fill="#116011" opacity="0.12"/><circle cx="85.2" cy="69.9" r="3.0" fill="#116011" opacity="0.17"/><circle cx="54.4" cy="31.5" r="2.6" fill="#116011" opacity="0.07"/><circle cx="37.5" cy="73.4" r="2.8" fill="#116011" opacity="0.09"/><circle cx="62.6" cy="69.4" r="2.7" fill="#116011" opacity="0.11"/><circle cx="72.8" cy="42.9" r="2.7" fill="#116011" opacity="0.09"/><circle cx="83.9" cy="35.0" r="2.8" fill="#116011" opacity="0.17"/><circle cx="82.3" cy="34.4" r="2.9" fill="#116011" opacity="0.10"/><circle cx="73.5" cy="29.2" r="1.8" fill="#116011" opacity="0.09"/><circle cx="75.7" cy="40.2" r="2.2" fill="#116011" opacity="0.20"/><circle cx="32.8" cy="58.2" r="2.4" fill="#116011" opacity="0.15"/><circle cx="49.6" cy="87.2" r="2.8" fill="#116011" opacity="0.10"/><circle cx="66.5" cy="25.8" r="2.1" fill="#116011" opacity="0.09"/><circle cx="42.7" cy="37.0" r="1.7" fill="#116011" opacity="0.20"/><circle cx="51.9" cy="71.9" r="2.7" fill="#116011" opacity="0.22"/><circle cx="45.4" cy="79.8" r="2.2" fill="#116011" opacity="0.18"/><circle cx="84.5" cy="58.3" r="1.6" fill="#116011" opacity="0.21"/><circle cx="23.0" cy="74.4" r="2.0" fill="#116011" opacity="0.16"/><circle cx="73.2" cy="60.7" r="1.7" fill="#116011" opacity="0.12"/><circle cx="65.9" cy="78.7" r="1.4" fill="#116011" opacity="0.15"/><circle cx="87.6" cy="48.0" r="2.3" fill="#116011" opacity="0.22"/><circle cx="49.9" cy="25.9" r="2.0" fill="#116011" opacity="0.07"/><circle cx="81.6" cy="34.1" r="2.6" fill="#116011" opacity="0.17"/><circle cx="67.9" cy="22.5" r="2.9" fill="#116011" opacity="0.18"/><circle cx="89.9" cy="59.7" r="2.2" fill="#116011" opacity="0.13"/><circle cx="34.2" cy="65.2" r="1.3" fill="#116011" opacity="0.16"/><circle cx="42.3" cy="45.4" r="2.9" fill="#116011" opacity="0.20"/><circle cx="72.7" cy="34.7" r="1.9" fill="#116011" opacity="0.14"/><circle cx="29.1" cy="82.3" r="2.9" fill="#116011" opacity="0.20"/><circle cx="26.5" cy="52.6" r="2.4" fill="#116011" opacity="0.11"/><circle cx="68.8" cy="89.6" r="1.7" fill="#116011" opacity="0.10"/><circle cx="38.1" cy="56.8" r="2.1" fill="#116011" opacity="0.09"/><circle cx="61.5" cy="42.3" r="2.6" fill="#116011" opacity="0.10"/><circle cx="61.9" cy="23.4" r="2.9" fill="#116011" opacity="0.09"/><circle cx="72.0" cy="54.3" r="1.8" fill="#116011" opacity="0.06"/><circle cx="38.4" cy="56.6" r="2.2" fill="#116011" opacity="0.21"/><circle cx="60.1" cy="26.0" r="1.4" fill="#116011" opacity="0.22"/><circle cx="30.1" cy="83.2" r="1.5" fill="#116011" opacity="0.11"/><circle cx="84.8" cy="45.5" r="1.5" fill="#116011" opacity="0.13"/><circle cx="33.5" cy="50.4" r="1.6" fill="#116011" opacity="0.07"/><circle cx="28.5" cy="54.5" r="1.8" fill="#116011" opacity="0.14"/><circle cx="39.8" cy="76.4" r="2.6" fill="#116011" opacity="0.08"/><circle cx="75.7" cy="70.8" r="1.7" fill="#116011" opacity="0.14"/><circle cx="77.0" cy="28.1" r="2.7" fill="#116011" opacity="0.21"/><circle cx="56.9" cy="79.7" r="1.4" fill="#116011" opacity="0.11"/><circle cx="52.6" cy="76.9" r="1.8" fill="#116011" opacity="0.21"/><circle cx="18.9" cy="52.6" r="2.1" fill="#116011" opacity="0.18"/><circle cx="39.8" cy="30.2" r="2.9" fill="#116011" opacity="0.16"/><circle cx="33.4" cy="55.5" r="1.4" fill="#116011" opacity="0.13"/><circle cx="39.5" cy="65.7" r="2.9" fill="#116011" opacity="0.06"/><circle cx="34.3" cy="63.6" r="1.9" fill="#116011" opacity="0.19"/><circle cx="78.5" cy="50.3" r="2.5" fill="#116011" opacity="0.20"/><circle cx="47.7" cy="80.3" r="2.0" fill="#116011" opacity="0.19"/><circle cx="42.4" cy="89.3" r="1.5" fill="#116011" opacity="0.17"/><circle cx="44.7" cy="46.0" r="1.8" fill="#116011" opacity="0.19"/><circle cx="42.1" cy="64.5" r="2.0" fill="#116011" opacity="0.15"/><circle cx="28.8" cy="60.9" r="2.9" fill="#116011" opacity="0.17"/><circle cx="29.3" cy="65.0" r="2.6" fill="#116011" opacity="0.10"/><circle cx="21.4" cy="59.7" r="1.4" fill="#116011" opacity="0.08"/><circle cx="83.5" cy="65.7" r="2.6" fill="#116011" opacity="0.17"/><circle cx="44.1" cy="46.7" r="1.9" fill="#116011" opacity="0.13"/><circle cx="43.0" cy="74.1" r="1.9" fill="#116011" opacity="0.10"/><circle cx="80.3" cy="68.4" r="1.2" fill="#116011" opacity="0.13"/><circle cx="26.5" cy="75.5" r="2.5" fill="#116011" opacity="0.13"/><circle cx="85.8" cy="57.2" r="2.5" fill="#116011" opacity="0.16"/><circle cx="81.3" cy="54.4" r="1.9" fill="#116011" opacity="0.15"/><circle cx="77.9" cy="74.5" r="1.4" fill="#116011" opacity="0.17"/><circle cx="30.1" cy="35.7" r="1.5" fill="#116011" opacity="0.17"/><circle cx="88.4" cy="43.1" r="2.6" fill="#116011" opacity="0.09"/><circle cx="56.9" cy="37.2" r="3.0" fill="#116011" opacity="0.07"/><circle cx="79.1" cy="58.6" r="1.3" fill="#116011" opacity="0.21"/><circle cx="73.5" cy="46.9" r="2.8" fill="#116011" opacity="0.12"/><circle cx="61.2" cy="40.3" r="2.9" fill="#116011" opacity="0.13"/><circle cx="56.3" cy="82.1" r="1.2" fill="#116011" opacity="0.07"/><circle cx="24.8" cy="60.7" r="3.0" fill="#116011" opacity="0.14"/><circle cx="42.9" cy="74.5" r="1.2" fill="#116011" opacity="0.21"/><circle cx="47.2" cy="35.4" r="2.6" fill="#116011" opacity="0.17"/><circle cx="37.1" cy="35.7" r="2.8" fill="#116011" opacity="0.21"/><circle cx="55.0" cy="36.8" r="2.0" fill="#116011" opacity="0.16"/><circle cx="80.4" cy="47.8" r="2.1" fill="#116011" opacity="0.07"/><circle cx="74.0" cy="64.6" r="2.4" fill="#116011" opacity="0.09"/><circle cx="54.9" cy="25.5" r="1.7" fill="#116011" opacity="0.14"/><circle cx="60.8" cy="44.4" r="2.3" fill="#116011" opacity="0.18"/><circle cx="77.0" cy="51.1" r="2.3" fill="#116011" opacity="0.19"/><circle cx="43.2" cy="87.2" r="2.5" fill="#116011" opacity="0.21"/><circle cx="39.7" cy="64.5" r="2.1" fill="#116011" opacity="0.17"/><circle cx="82.0" cy="39.1" r="2.2" fill="#116011" opacity="0.20"/><circle cx="71.7" cy="31.9" r="1.7" fill="#116011" opacity="0.06"/><circle cx="43.2" cy="49.5" r="1.8" fill="#116011" opacity="0.22"/><circle cx="52.4" cy="87.4" r="2.5" fill="#116011" opacity="0.11"/><circle cx="25.9" cy="35.1" r="2.5" fill="#116011" opacity="0.11"/><circle cx="85.1" cy="55.0" r="1.6" fill="#116011" opacity="0.19"/><circle cx="61.3" cy="21.9" r="2.7" fill="#116011" opacity="0.19"/><circle cx="28.7" cy="76.7" r="2.6" fill="#116011" opacity="0.19"/><circle cx="62.0" cy="91.9" r="2.2" fill="#116011" opacity="0.21"/><circle cx="21.0" cy="52.5" r="2.3" fill="#116011" opacity="0.11"/><circle cx="20.1" cy="58.0" r="1.7" fill="#116011" opacity="0.21"/><circle cx="50.2" cy="22.9" r="2.1" fill="#116011" opacity="0.17"/><circle cx="37.2" cy="36.8" r="1.2" fill="#116011" opacity="0.15"/><circle cx="43.5" cy="29.3" r="1.9" fill="#116011" opacity="0.15"/><circle cx="78.2" cy="74.7" r="1.3" fill="#116011" opacity="0.08"/><circle cx="85.8" cy="73.3" r="2.8" fill="#116011" opacity="0.16"/><circle cx="72.5" cy="48.4" r="2.4" fill="#116011" opacity="0.14"/><circle cx="76.7" cy="74.3" r="1.4" fill="#116011" opacity="0.10"/><circle cx="67.2" cy="72.5" r="2.8" fill="#116011" opacity="0.14"/><circle cx="36.9" cy="50.5" r="1.5" fill="#116011" opacity="0.08"/><circle cx="45.2" cy="28.2" r="2.5" fill="#116011" opacity="0.15"/><circle cx="53.8" cy="81.1" r="1.9" fill="#116011" opacity="0.21"/><circle cx="44.1" cy="23.4" r="2.4" fill="#116011" opacity="0.21"/><circle cx="55.1" cy="44.0" r="1.3" fill="#116011" opacity="0.07"/><circle cx="69.7" cy="43.6" r="2.0" fill="#116011" opacity="0.15"/><circle cx="57.6" cy="77.7" r="2.8" fill="#116011" opacity="0.09"/><circle cx="67.2" cy="32.7" r="2.4" fill="#116011" opacity="0.12"/><circle cx="40.2" cy="27.4" r="2.0" fill="#116011" opacity="0.11"/><circle cx="24.6" cy="69.9" r="1.2" fill="#116011" opacity="0.09"/><circle cx="35.3" cy="81.5" r="2.1" fill="#116011" opacity="0.10"/><circle cx="75.1" cy="35.9" r="2.8" fill="#116011" opacity="0.12"/><circle cx="81.8" cy="47.0" r="1.8" fill="#116011" opacity="0.08"/><circle cx="59.9" cy="38.0" r="2.7" fill="#116011" opacity="0.19"/><circle cx="75.7" cy="79.8" r="2.5" fill="#116011" opacity="0.07"/><circle cx="56.1" cy="19.9" r="1.8" fill="#116011" opacity="0.14"/><circle cx="36.3" cy="67.1" r="1.5" fill="#116011" opacity="0.17"/><circle cx="70.9" cy="52.5" r="1.2" fill="#116011" opacity="0.15"/><circle cx="50.7" cy="90.6" r="1.7" fill="#116011" opacity="0.06"/><circle cx="44.6" cy="79.6" r="2.0" fill="#116011" opacity="0.13"/><circle cx="46.1" cy="91.5" r="1.2" fill="#116011" opacity="0.10"/><circle cx="62.4" cy="38.1" r="1.6" fill="#116011" opacity="0.12"/><circle cx="31.1" cy="30.9" r="2.6" fill="#116011" opacity="0.09"/><circle cx="71.2" cy="48.2" r="2.7" fill="#116011" opacity="0.20"/><circle cx="72.5" cy="72.3" r="1.6" fill="#116011" opacity="0.13"/><circle cx="60.8" cy="23.1" r="2.6" fill="#116011" opacity="0.06"/><circle cx="45.2" cy="90.6" r="2.5" fill="#116011" opacity="0.18"/><circle cx="62.4" cy="72.3" r="2.1" fill="#116011" opacity="0.16"/><circle cx="78.7" cy="80.6" r="2.2" fill="#116011" opacity="0.21"/><circle cx="74.9" cy="42.0" r="1.7" fill="#116011" opacity="0.19"/><circle cx="24.3" cy="56.5" r="2.5" fill="#116011" opacity="0.22"/><circle cx="27.5" cy="53.5" r="2.7" fill="#116011" opacity="0.07"/><circle cx="35.2" cy="63.7" r="2.3" fill="#116011" opacity="0.19"/><circle cx="36.2" cy="65.0" r="1.4" fill="#116011" opacity="0.20"/><circle cx="23.1" cy="37.6" r="1.7" fill="#116011" opacity="0.11"/><circle cx="67.0" cy="83.5" r="2.2" fill="#116011" opacity="0.20"/><circle cx="34.1" cy="43.5" r="1.4" fill="#116011" opacity="0.19"/><circle cx="76.1" cy="48.5" r="1.8" fill="#116011" opacity="0.14"/><circle cx="31.0" cy="78.9" r="2.1" fill="#116011" opacity="0.14"/><circle cx="38.7" cy="70.8" r="2.9" fill="#116011" opacity="0.21"/><circle cx="60.1" cy="79.8" r="2.5" fill="#116011" opacity="0.12"/><circle cx="27.0" cy="66.4" r="1.7" fill="#116011" opacity="0.12"/><circle cx="46.9" cy="20.7" r="1.3" fill="#116011" opacity="0.20"/><circle cx="80.3" cy="72.0" r="1.3" fill="#116011" opacity="0.15"/><circle cx="58.5" cy="89.4" r="1.2" fill="#116011" opacity="0.14"/><circle cx="81.4" cy="49.1" r="2.0" fill="#116011" opacity="0.16"/><circle cx="62.6" cy="25.8" r="1.9" fill="#116011" opacity="0.09"/><circle cx="59.6" cy="29.0" r="2.9" fill="#116011" opacity="0.11"/></g>
<ellipse cx="40.6" cy="69.8" rx="13" ry="9" transform="rotate(28 40.6 69.8)" fill="#10a010" opacity="0.5" filter="url(#b2)"/>
<ellipse cx="40.6" cy="69.8" rx="10.8" ry="7.2" transform="rotate(28 40.6 69.8)" fill="#20ee20" opacity="1" filter="url(#b1)"/>
<ellipse cx="40.6" cy="69.8" rx="7" ry="4.5" transform="rotate(28 40.6 69.8)" fill="#40ff40" opacity="1" filter="url(#b1)"/>
<ellipse cx="0.5" cy="85" rx="2.5" ry="7" transform="rotate(0 0.5 85)" fill="#20c020" opacity="0.9" filter="url(#b1)"/>
<g filter="url(#b2)"><circle cx="103.5" cy="113.2" r="1.9" fill="#146014" opacity="0.14"/><circle cx="104.0" cy="102.7" r="2.8" fill="#146014" opacity="0.12"/><circle cx="102.7" cy="116.2" r="1.8" fill="#146014" opacity="0.20"/><circle cx="111.6" cy="116.1" r="2.5" fill="#146014" opacity="0.21"/><circle cx="107.1" cy="126.3" r="2.7" fill="#146014" opacity="0.10"/><circle cx="109.3" cy="103.2" r="2.0" fill="#146014" opacity="0.13"/><circle cx="113.4" cy="112.7" r="1.6" fill="#146014" opacity="0.12"/><circle cx="111.7" cy="105.5" r="2.7" fill="#146014" opacity="0.25"/><circle cx="90.6" cy="111.7" r="2.1" fill="#146014" opacity="0.21"/><circle cx="110.6" cy="104.6" r="2.8" fill="#146014" opacity="0.22"/><circle cx="104.1" cy="111.9" r="1.8" fill="#146014" opacity="0.16"/><circle cx="111.3" cy="118.5" r="1.7" fill="#146014" opacity="0.16"/><circle cx="99.0" cy="108.2" r="2.1" fill="#146014" opacity="0.14"/><circle cx="103.5" cy="129.4" r="2.5" fill="#146014" opacity="0.22"/><circle cx="111.1" cy="126.3" r="1.7" fill="#146014" opacity="0.18"/><circle cx="117.0" cy="114.2" r="2.3" fill="#146014" opacity="0.24"/><circle cx="112.3" cy="104.0" r="1.8" fill="#146014" opacity="0.11"/><circle cx="101.9" cy="122.1" r="1.8" fill="#146014" opacity="0.29"/><circle cx="111.0" cy="109.1" r="2.5" fill="#146014" opacity="0.18"/><circle cx="113.7" cy="109.8" r="1.9" fill="#146014" opacity="0.15"/><circle cx="97.9" cy="112.1" r="2.4" fill="#146014" opacity="0.28"/><circle cx="99.3" cy="119.2" r="3.0" fill="#146014" opacity="0.20"/><circle cx="107.7" cy="116.8" r="1.7" fill="#146014" opacity="0.23"/><circle cx="107.5" cy="105.6" r="1.6" fill="#146014" opacity="0.18"/><circle cx="115.9" cy="114.7" r="3.0" fill="#146014" opacity="0.27"/><circle cx="117.7" cy="115.9" r="2.5" fill="#146014" opacity="0.21"/><circle cx="103.7" cy="126.9" r="1.7" fill="#146014" opacity="0.19"/><circle cx="91.0" cy="119.2" r="2.8" fill="#146014" opacity="0.15"/><circle cx="98.7" cy="115.0" r="2.9" fill="#146014" opacity="0.27"/><circle cx="101.4" cy="126.4" r="2.4" fill="#146014" opacity="0.13"/><circle cx="105.9" cy="104.0" r="2.7" fill="#146014" opacity="0.21"/><circle cx="113.5" cy="115.0" r="1.5" fill="#146014" opacity="0.29"/><circle cx="114.9" cy="105.6" r="2.0" fill="#146014" opacity="0.11"/><circle cx="115.5" cy="104.9" r="1.6" fill="#146014" opacity="0.20"/><circle cx="116.9" cy="120.5" r="2.6" fill="#146014" opacity="0.13"/><circle cx="94.0" cy="116.7" r="1.9" fill="#146014" opacity="0.27"/><circle cx="98.9" cy="118.2" r="2.3" fill="#146014" opacity="0.25"/><circle cx="107.5" cy="123.0" r="3.0" fill="#146014" opacity="0.23"/><circle cx="95.0" cy="119.1" r="1.7" fill="#146014" opacity="0.14"/><circle cx="99.0" cy="124.8" r="1.8" fill="#146014" opacity="0.14"/></g>
</g>
<clipPath id="cl5"><rect x="0" y="0" width="120" height="120"/></clipPath>
<g transform="translate(825,196)" clip-path="url(#cl5)">
<rect x="0" y="0" width="120" height="120" fill="#000"/>
<g filter="url(#b1)"><circle cx="73.8" cy="89.8" r="1.8" fill="#c010c0" opacity="0.22"/><circle cx="63.2" cy="95.8" r="2.0" fill="#c010c0" opacity="0.23"/><circle cx="27.0" cy="57.1" r="1.0" fill="#c010c0" opacity="0.19"/><circle cx="34.4" cy="45.8" r="2.0" fill="#c010c0" opacity="0.16"/><circle cx="57.5" cy="81.1" r="2.2" fill="#c010c0" opacity="0.28"/><circle cx="80.2" cy="32.8" r="1.0" fill="#c010c0" opacity="0.18"/><circle cx="29.9" cy="58.4" r="2.1" fill="#c010c0" opacity="0.19"/><circle cx="77.0" cy="90.3" r="1.1" fill="#c010c0" opacity="0.33"/><circle cx="22.0" cy="68.0" r="1.4" fill="#c010c0" opacity="0.22"/><circle cx="63.9" cy="79.3" r="2.0" fill="#c010c0" opacity="0.16"/><circle cx="60.2" cy="31.1" r="2.2" fill="#c010c0" opacity="0.32"/><circle cx="56.2" cy="19.8" r="1.7" fill="#c010c0" opacity="0.28"/><circle cx="78.8" cy="81.0" r="2.0" fill="#c010c0" opacity="0.15"/><circle cx="90.7" cy="39.3" r="1.5" fill="#c010c0" opacity="0.19"/><circle cx="25.2" cy="67.4" r="2.2" fill="#c010c0" opacity="0.20"/><circle cx="79.2" cy="62.1" r="1.9" fill="#c010c0" opacity="0.35"/><circle cx="21.6" cy="58.8" r="1.7" fill="#c010c0" opacity="0.29"/><circle cx="61.2" cy="93.0" r="1.7" fill="#c010c0" opacity="0.26"/><circle cx="66.2" cy="82.0" r="1.4" fill="#c010c0" opacity="0.33"/><circle cx="34.8" cy="87.0" r="1.4" fill="#c010c0" opacity="0.13"/><circle cx="90.8" cy="73.7" r="1.9" fill="#c010c0" opacity="0.19"/><circle cx="40.1" cy="24.4" r="2.1" fill="#c010c0" opacity="0.34"/><circle cx="20.1" cy="81.1" r="2.2" fill="#c010c0" opacity="0.25"/><circle cx="79.8" cy="35.7" r="1.5" fill="#c010c0" opacity="0.16"/><circle cx="73.7" cy="39.5" r="1.1" fill="#c010c0" opacity="0.30"/><circle cx="60.0" cy="25.2" r="2.0" fill="#c010c0" opacity="0.11"/><circle cx="53.5" cy="87.2" r="1.5" fill="#c010c0" opacity="0.14"/><circle cx="82.4" cy="70.8" r="2.1" fill="#c010c0" opacity="0.35"/><circle cx="54.1" cy="24.9" r="1.3" fill="#c010c0" opacity="0.34"/><circle cx="17.8" cy="52.0" r="1.0" fill="#c010c0" opacity="0.15"/><circle cx="75.4" cy="25.1" r="2.1" fill="#c010c0" opacity="0.25"/><circle cx="23.7" cy="73.7" r="2.0" fill="#c010c0" opacity="0.18"/><circle cx="26.7" cy="51.8" r="1.9" fill="#c010c0" opacity="0.10"/><circle cx="38.7" cy="20.1" r="1.0" fill="#c010c0" opacity="0.25"/><circle cx="30.5" cy="26.8" r="1.7" fill="#c010c0" opacity="0.16"/><circle cx="20.7" cy="81.1" r="2.1" fill="#c010c0" opacity="0.13"/><circle cx="75.3" cy="71.8" r="1.0" fill="#c010c0" opacity="0.21"/><circle cx="80.3" cy="88.9" r="1.8" fill="#c010c0" opacity="0.13"/><circle cx="25.9" cy="50.8" r="1.6" fill="#c010c0" opacity="0.15"/><circle cx="68.5" cy="81.2" r="1.5" fill="#c010c0" opacity="0.28"/><circle cx="32.8" cy="50.8" r="1.9" fill="#c010c0" opacity="0.32"/><circle cx="60.9" cy="19.8" r="1.0" fill="#c010c0" opacity="0.22"/><circle cx="90.2" cy="72.9" r="1.2" fill="#c010c0" opacity="0.28"/><circle cx="54.3" cy="95.1" r="1.4" fill="#c010c0" opacity="0.11"/><circle cx="32.3" cy="77.1" r="2.1" fill="#c010c0" opacity="0.17"/><circle cx="20.6" cy="57.3" r="2.1" fill="#c010c0" opacity="0.12"/><circle cx="27.9" cy="38.0" r="1.9" fill="#c010c0" opacity="0.34"/><circle cx="41.3" cy="92.5" r="1.6" fill="#c010c0" opacity="0.24"/><circle cx="91.0" cy="73.2" r="2.2" fill="#c010c0" opacity="0.19"/><circle cx="37.6" cy="96.1" r="1.1" fill="#c010c0" opacity="0.12"/><circle cx="90.0" cy="75.4" r="1.9" fill="#c010c0" opacity="0.21"/><circle cx="38.7" cy="42.4" r="1.8" fill="#c010c0" opacity="0.21"/><circle cx="23.8" cy="54.6" r="1.5" fill="#c010c0" opacity="0.16"/><circle cx="85.7" cy="67.7" r="1.3" fill="#c010c0" opacity="0.28"/><circle cx="70.4" cy="23.8" r="1.5" fill="#c010c0" opacity="0.16"/><circle cx="30.0" cy="79.9" r="1.8" fill="#c010c0" opacity="0.34"/><circle cx="83.5" cy="74.9" r="1.6" fill="#c010c0" opacity="0.28"/><circle cx="84.7" cy="33.6" r="1.8" fill="#c010c0" opacity="0.29"/><circle cx="35.4" cy="23.4" r="1.8" fill="#c010c0" opacity="0.27"/><circle cx="56.2" cy="98.7" r="1.5" fill="#c010c0" opacity="0.25"/><circle cx="73.8" cy="21.1" r="2.2" fill="#c010c0" opacity="0.10"/><circle cx="43.6" cy="85.4" r="1.5" fill="#c010c0" opacity="0.14"/><circle cx="32.1" cy="50.1" r="1.4" fill="#c010c0" opacity="0.34"/><circle cx="53.4" cy="25.2" r="1.1" fill="#c010c0" opacity="0.34"/><circle cx="47.2" cy="31.8" r="1.4" fill="#c010c0" opacity="0.26"/><circle cx="43.1" cy="32.0" r="2.1" fill="#c010c0" opacity="0.18"/><circle cx="53.9" cy="97.6" r="1.2" fill="#c010c0" opacity="0.27"/><circle cx="65.9" cy="91.6" r="1.3" fill="#c010c0" opacity="0.19"/><circle cx="85.6" cy="46.0" r="1.5" fill="#c010c0" opacity="0.25"/><circle cx="49.9" cy="84.1" r="1.5" fill="#c010c0" opacity="0.17"/><circle cx="70.6" cy="96.3" r="1.0" fill="#c010c0" opacity="0.30"/><circle cx="89.1" cy="43.2" r="1.0" fill="#c010c0" opacity="0.23"/><circle cx="89.4" cy="66.7" r="1.8" fill="#c010c0" opacity="0.16"/><circle cx="89.3" cy="59.6" r="1.1" fill="#c010c0" opacity="0.18"/><circle cx="16.3" cy="69.5" r="1.4" fill="#c010c0" opacity="0.13"/><circle cx="65.2" cy="20.1" r="1.6" fill="#c010c0" opacity="0.11"/><circle cx="67.1" cy="87.2" r="1.7" fill="#c010c0" opacity="0.16"/><circle cx="67.8" cy="20.6" r="2.1" fill="#c010c0" opacity="0.32"/><circle cx="89.8" cy="61.9" r="1.1" fill="#c010c0" opacity="0.32"/><circle cx="54.3" cy="19.9" r="1.2" fill="#c010c0" opacity="0.11"/><circle cx="69.1" cy="25.4" r="1.7" fill="#c010c0" opacity="0.22"/><circle cx="64.4" cy="29.2" r="1.3" fill="#c010c0" opacity="0.19"/><circle cx="44.3" cy="92.3" r="2.1" fill="#c010c0" opacity="0.12"/><circle cx="85.7" cy="71.9" r="1.8" fill="#c010c0" opacity="0.15"/><circle cx="52.1" cy="81.5" r="1.0" fill="#c010c0" opacity="0.22"/><circle cx="39.7" cy="25.1" r="1.2" fill="#c010c0" opacity="0.13"/><circle cx="86.1" cy="43.6" r="1.5" fill="#c010c0" opacity="0.27"/><circle cx="50.3" cy="24.3" r="1.1" fill="#c010c0" opacity="0.31"/><circle cx="60.2" cy="80.5" r="1.4" fill="#c010c0" opacity="0.23"/><circle cx="36.6" cy="38.8" r="1.9" fill="#c010c0" opacity="0.22"/><circle cx="75.8" cy="91.8" r="2.0" fill="#c010c0" opacity="0.33"/><circle cx="43.2" cy="33.1" r="1.9" fill="#c010c0" opacity="0.33"/><circle cx="15.3" cy="49.6" r="2.2" fill="#c010c0" opacity="0.20"/><circle cx="93.3" cy="43.3" r="2.0" fill="#c010c0" opacity="0.10"/><circle cx="33.7" cy="86.6" r="1.7" fill="#c010c0" opacity="0.29"/><circle cx="39.1" cy="37.0" r="2.1" fill="#c010c0" opacity="0.23"/><circle cx="75.1" cy="39.5" r="2.2" fill="#c010c0" opacity="0.24"/><circle cx="61.1" cy="20.7" r="2.1" fill="#c010c0" opacity="0.19"/><circle cx="82.5" cy="73.7" r="1.2" fill="#c010c0" opacity="0.23"/><circle cx="67.2" cy="29.7" r="1.2" fill="#c010c0" opacity="0.11"/><circle cx="24.0" cy="74.3" r="1.0" fill="#c010c0" opacity="0.27"/><circle cx="61.1" cy="82.2" r="2.1" fill="#c010c0" opacity="0.23"/><circle cx="81.7" cy="37.3" r="1.1" fill="#c010c0" opacity="0.16"/><circle cx="22.9" cy="74.5" r="1.9" fill="#c010c0" opacity="0.29"/><circle cx="38.4" cy="34.9" r="1.5" fill="#c010c0" opacity="0.19"/><circle cx="26.4" cy="59.9" r="1.6" fill="#c010c0" opacity="0.21"/><circle cx="93.2" cy="66.7" r="1.7" fill="#c010c0" opacity="0.30"/><circle cx="51.8" cy="20.5" r="2.2" fill="#c010c0" opacity="0.19"/><circle cx="37.6" cy="71.7" r="1.8" fill="#c010c0" opacity="0.25"/><circle cx="17.8" cy="38.6" r="1.2" fill="#c010c0" opacity="0.16"/><circle cx="51.1" cy="19.2" r="1.6" fill="#c010c0" opacity="0.11"/><circle cx="28.0" cy="86.6" r="1.6" fill="#c010c0" opacity="0.22"/><circle cx="27.4" cy="81.0" r="1.7" fill="#c010c0" opacity="0.27"/><circle cx="80.2" cy="29.5" r="1.4" fill="#c010c0" opacity="0.16"/><circle cx="62.7" cy="20.1" r="2.1" fill="#c010c0" opacity="0.15"/><circle cx="78.2" cy="25.1" r="1.1" fill="#c010c0" opacity="0.18"/><circle cx="37.7" cy="38.7" r="2.0" fill="#c010c0" opacity="0.17"/><circle cx="42.9" cy="31.2" r="1.3" fill="#c010c0" opacity="0.15"/><circle cx="17.6" cy="58.6" r="1.3" fill="#c010c0" opacity="0.27"/><circle cx="36.5" cy="89.2" r="1.4" fill="#c010c0" opacity="0.15"/><circle cx="69.9" cy="76.3" r="1.8" fill="#c010c0" opacity="0.20"/><circle cx="83.7" cy="86.1" r="1.8" fill="#c010c0" opacity="0.11"/><circle cx="49.4" cy="23.2" r="1.5" fill="#c010c0" opacity="0.23"/><circle cx="85.2" cy="50.7" r="1.8" fill="#c010c0" opacity="0.26"/><circle cx="34.8" cy="80.8" r="1.9" fill="#c010c0" opacity="0.26"/><circle cx="22.4" cy="67.0" r="1.3" fill="#c010c0" opacity="0.30"/><circle cx="90.9" cy="62.5" r="1.5" fill="#c010c0" opacity="0.16"/><circle cx="25.0" cy="39.8" r="1.1" fill="#c010c0" opacity="0.22"/><circle cx="74.7" cy="91.4" r="1.4" fill="#c010c0" opacity="0.18"/><circle cx="60.0" cy="80.8" r="1.2" fill="#c010c0" opacity="0.14"/><circle cx="26.9" cy="30.1" r="1.3" fill="#c010c0" opacity="0.13"/><circle cx="30.4" cy="52.6" r="1.5" fill="#c010c0" opacity="0.29"/><circle cx="65.8" cy="93.5" r="1.6" fill="#c010c0" opacity="0.12"/><circle cx="56.7" cy="93.3" r="1.1" fill="#c010c0" opacity="0.15"/><circle cx="20.3" cy="39.9" r="1.6" fill="#c010c0" opacity="0.27"/><circle cx="84.5" cy="59.7" r="1.4" fill="#c010c0" opacity="0.33"/><circle cx="30.9" cy="88.1" r="1.0" fill="#c010c0" opacity="0.22"/><circle cx="84.8" cy="33.8" r="1.7" fill="#c010c0" opacity="0.15"/><circle cx="76.7" cy="47.2" r="2.2" fill="#c010c0" opacity="0.29"/><circle cx="48.5" cy="24.5" r="1.2" fill="#c010c0" opacity="0.19"/><circle cx="36.3" cy="26.8" r="1.5" fill="#c010c0" opacity="0.30"/><circle cx="82.6" cy="67.6" r="1.1" fill="#c010c0" opacity="0.18"/><circle cx="65.1" cy="21.3" r="1.2" fill="#c010c0" opacity="0.18"/><circle cx="82.8" cy="81.6" r="1.5" fill="#c010c0" opacity="0.16"/><circle cx="26.9" cy="86.4" r="1.5" fill="#c010c0" opacity="0.27"/><circle cx="32.1" cy="34.3" r="1.7" fill="#c010c0" opacity="0.19"/><circle cx="65.7" cy="89.7" r="1.4" fill="#c010c0" opacity="0.18"/><circle cx="70.8" cy="95.5" r="1.5" fill="#c010c0" opacity="0.15"/><circle cx="82.0" cy="63.5" r="2.0" fill="#c010c0" opacity="0.18"/><circle cx="41.1" cy="33.8" r="1.8" fill="#c010c0" opacity="0.21"/><circle cx="52.1" cy="24.1" r="1.5" fill="#c010c0" opacity="0.17"/><circle cx="22.3" cy="36.0" r="1.8" fill="#c010c0" opacity="0.22"/><circle cx="35.9" cy="93.5" r="2.0" fill="#c010c0" opacity="0.14"/><circle cx="38.5" cy="23.4" r="1.8" fill="#c010c0" opacity="0.34"/><circle cx="75.5" cy="38.5" r="2.2" fill="#c010c0" opacity="0.18"/><circle cx="24.7" cy="86.5" r="1.2" fill="#c010c0" opacity="0.20"/><circle cx="34.7" cy="37.5" r="1.3" fill="#c010c0" opacity="0.30"/><circle cx="26.2" cy="33.4" r="1.9" fill="#c010c0" opacity="0.32"/><circle cx="85.8" cy="33.7" r="2.2" fill="#c010c0" opacity="0.22"/><circle cx="44.9" cy="25.8" r="2.2" fill="#c010c0" opacity="0.26"/><circle cx="21.9" cy="73.4" r="1.4" fill="#c010c0" opacity="0.13"/><circle cx="35.6" cy="74.8" r="1.0" fill="#c010c0" opacity="0.12"/><circle cx="18.3" cy="68.8" r="1.1" fill="#c010c0" opacity="0.26"/><circle cx="80.8" cy="79.7" r="1.4" fill="#c010c0" opacity="0.21"/><circle cx="47.5" cy="27.1" r="1.5" fill="#c010c0" opacity="0.28"/><circle cx="77.8" cy="78.3" r="1.8" fill="#c010c0" opacity="0.31"/><circle cx="83.3" cy="54.3" r="1.8" fill="#c010c0" opacity="0.18"/><circle cx="43.2" cy="20.2" r="1.2" fill="#c010c0" opacity="0.19"/><circle cx="83.2" cy="46.1" r="1.8" fill="#c010c0" opacity="0.30"/><circle cx="48.1" cy="95.9" r="1.0" fill="#c010c0" opacity="0.19"/></g>
<path d="M24.20,37.90 C25.43,36.67 28.97,32.60 31.60,30.50 C34.23,28.40 37.20,26.43 40.00,25.30 C42.80,24.17 46.12,23.35 48.40,23.70 C50.68,24.05 52.20,25.57 53.70,27.40 C55.20,29.23 56.70,32.78 57.40,34.70 C58.10,36.62 57.82,38.20 57.90,38.90" fill="none" stroke="#c000c0" stroke-width="9.0" stroke-linecap="round" stroke-linejoin="round" opacity="0.35" filter="url(#b2)"/>
<path d="M24.20,37.90 C25.43,36.67 28.97,32.60 31.60,30.50 C34.23,28.40 37.20,26.43 40.00,25.30 C42.80,24.17 46.12,23.35 48.40,23.70 C50.68,24.05 52.20,25.57 53.70,27.40 C55.20,29.23 56.70,32.78 57.40,34.70 C58.10,36.62 57.82,38.20 57.90,38.90" fill="none" stroke="#e818e8" stroke-width="5" stroke-linecap="round" stroke-linejoin="round" opacity="1" filter="url(#b1)"/>
<path d="M68.40,27.40 C69.63,27.92 74.03,29.10 75.80,30.50 C77.57,31.90 79.00,33.68 79.00,35.80 C79.00,37.92 77.38,40.92 75.80,43.20 C74.22,45.48 71.78,47.93 69.50,49.50 C67.22,51.07 65.43,51.98 62.10,52.60 C58.77,53.22 51.60,53.10 49.50,53.20" fill="none" stroke="#c000c0" stroke-width="9.0" stroke-linecap="round" stroke-linejoin="round" opacity="0.35" filter="url(#b2)"/>
<path d="M68.40,27.40 C69.63,27.92 74.03,29.10 75.80,30.50 C77.57,31.90 79.00,33.68 79.00,35.80 C79.00,37.92 77.38,40.92 75.80,43.20 C74.22,45.48 71.78,47.93 69.50,49.50 C67.22,51.07 65.43,51.98 62.10,52.60 C58.77,53.22 51.60,53.10 49.50,53.20" fill="none" stroke="#e818e8" stroke-width="5" stroke-linecap="round" stroke-linejoin="round" opacity="1" filter="url(#b1)"/>
<path d="M31.60,45.30 C30.90,46.00 28.72,48.10 27.40,49.50 C26.08,50.90 24.32,53.00 23.70,53.70" fill="none" stroke="#c000c0" stroke-width="9.0" stroke-linecap="round" stroke-linejoin="round" opacity="0.35" filter="url(#b2)"/>
<path d="M31.60,45.30 C30.90,46.00 28.72,48.10 27.40,49.50 C26.08,50.90 24.32,53.00 23.70,53.70" fill="none" stroke="#e818e8" stroke-width="5" stroke-linecap="round" stroke-linejoin="round" opacity="1" filter="url(#b1)"/>
<path d="M31.60,66.30 C33.00,66.83 37.02,68.45 40.00,69.50 C42.98,70.55 46.35,71.90 49.50,72.60 C52.65,73.30 55.75,74.05 58.90,73.70 C62.05,73.35 65.23,72.25 68.40,70.50 C71.57,68.75 75.08,64.87 77.90,63.20 C80.72,61.53 83.37,60.50 85.30,60.50 C87.23,60.50 88.80,62.75 89.50,63.20" fill="none" stroke="#c000c0" stroke-width="9.0" stroke-linecap="round" stroke-linejoin="round" opacity="0.35" filter="url(#b2)"/>
<path d="M31.60,66.30 C33.00,66.83 37.02,68.45 40.00,69.50 C42.98,70.55 46.35,71.90 49.50,72.60 C52.65,73.30 55.75,74.05 58.90,73.70 C62.05,73.35 65.23,72.25 68.40,70.50 C71.57,68.75 75.08,64.87 77.90,63.20 C80.72,61.53 83.37,60.50 85.30,60.50 C87.23,60.50 88.80,62.75 89.50,63.20" fill="none" stroke="#e818e8" stroke-width="5" stroke-linecap="round" stroke-linejoin="round" opacity="1" filter="url(#b1)"/>
<path d="M56.80,84.20 C58.22,84.47 62.48,85.97 65.30,85.80 C68.12,85.63 70.90,84.70 73.70,83.20 C76.50,81.70 79.82,79.27 82.10,76.80 C84.38,74.33 86.52,69.80 87.40,68.40" fill="none" stroke="#c000c0" stroke-width="9.0" stroke-linecap="round" stroke-linejoin="round" opacity="0.35" filter="url(#b2)"/>
<path d="M56.80,84.20 C58.22,84.47 62.48,85.97 65.30,85.80 C68.12,85.63 70.90,84.70 73.70,83.20 C76.50,81.70 79.82,79.27 82.10,76.80 C84.38,74.33 86.52,69.80 87.40,68.40" fill="none" stroke="#e818e8" stroke-width="5" stroke-linecap="round" stroke-linejoin="round" opacity="1" filter="url(#b1)"/>
<path d="M28.40,82.10 C29.45,82.80 32.42,84.90 34.70,86.30 C36.98,87.70 40.87,89.80 42.10,90.50" fill="none" stroke="#c000c0" stroke-width="9.5" stroke-linecap="round" stroke-linejoin="round" opacity="0.35" filter="url(#b2)"/>
<path d="M28.40,82.10 C29.45,82.80 32.42,84.90 34.70,86.30 C36.98,87.70 40.87,89.80 42.10,90.50" fill="none" stroke="#e818e8" stroke-width="5.5" stroke-linecap="round" stroke-linejoin="round" opacity="1" filter="url(#b1)"/>
<g filter="url(#b1)"><circle cx="105.4" cy="107.7" r="2.3" fill="#a010a0" opacity="0.17"/><circle cx="88.5" cy="108.7" r="1.8" fill="#a010a0" opacity="0.18"/><circle cx="97.9" cy="120.5" r="1.3" fill="#a010a0" opacity="0.26"/><circle cx="98.5" cy="113.5" r="2.1" fill="#a010a0" opacity="0.26"/><circle cx="84.8" cy="112.2" r="1.5" fill="#a010a0" opacity="0.16"/><circle cx="96.9" cy="104.0" r="2.0" fill="#a010a0" opacity="0.31"/><circle cx="102.1" cy="111.7" r="2.1" fill="#a010a0" opacity="0.24"/><circle cx="86.2" cy="108.7" r="1.5" fill="#a010a0" opacity="0.17"/><circle cx="85.0" cy="114.6" r="1.9" fill="#a010a0" opacity="0.26"/><circle cx="91.8" cy="109.0" r="1.3" fill="#a010a0" opacity="0.23"/><circle cx="97.1" cy="108.1" r="1.2" fill="#a010a0" opacity="0.17"/><circle cx="101.1" cy="114.5" r="1.9" fill="#a010a0" opacity="0.36"/><circle cx="91.5" cy="119.4" r="1.4" fill="#a010a0" opacity="0.23"/><circle cx="96.5" cy="104.2" r="1.4" fill="#a010a0" opacity="0.18"/><circle cx="97.1" cy="103.1" r="2.2" fill="#a010a0" opacity="0.21"/><circle cx="84.0" cy="109.8" r="1.9" fill="#a010a0" opacity="0.39"/><circle cx="100.9" cy="123.3" r="1.1" fill="#a010a0" opacity="0.25"/><circle cx="105.7" cy="114.6" r="2.0" fill="#a010a0" opacity="0.39"/><circle cx="99.0" cy="102.0" r="1.8" fill="#a010a0" opacity="0.40"/><circle cx="95.0" cy="105.9" r="2.5" fill="#a010a0" opacity="0.24"/><circle cx="96.2" cy="116.1" r="1.7" fill="#a010a0" opacity="0.20"/><circle cx="105.7" cy="108.3" r="1.3" fill="#a010a0" opacity="0.18"/><circle cx="90.1" cy="112.1" r="1.8" fill="#a010a0" opacity="0.35"/><circle cx="94.9" cy="120.8" r="2.4" fill="#a010a0" opacity="0.26"/><circle cx="88.8" cy="122.5" r="2.2" fill="#a010a0" opacity="0.37"/><circle cx="92.1" cy="105.9" r="2.0" fill="#a010a0" opacity="0.36"/><circle cx="91.3" cy="108.5" r="1.4" fill="#a010a0" opacity="0.25"/><circle cx="96.2" cy="104.1" r="1.8" fill="#a010a0" opacity="0.36"/><circle cx="102.4" cy="119.0" r="1.5" fill="#a010a0" opacity="0.29"/><circle cx="98.1" cy="107.9" r="2.4" fill="#a010a0" opacity="0.17"/><circle cx="86.8" cy="109.6" r="1.4" fill="#a010a0" opacity="0.29"/><circle cx="87.1" cy="114.5" r="2.1" fill="#a010a0" opacity="0.15"/><circle cx="87.4" cy="120.4" r="1.2" fill="#a010a0" opacity="0.37"/><circle cx="97.8" cy="122.5" r="1.3" fill="#a010a0" opacity="0.26"/><circle cx="92.0" cy="114.6" r="2.0" fill="#a010a0" opacity="0.27"/><circle cx="91.7" cy="104.8" r="1.8" fill="#a010a0" opacity="0.28"/><circle cx="91.6" cy="123.9" r="1.1" fill="#a010a0" opacity="0.37"/><circle cx="100.5" cy="106.6" r="2.2" fill="#a010a0" opacity="0.32"/><circle cx="89.9" cy="109.0" r="1.5" fill="#a010a0" opacity="0.24"/><circle cx="91.2" cy="124.1" r="1.5" fill="#a010a0" opacity="0.25"/></g>
<path d="M109.00,116.50 C111.17,116.50 119.83,116.50 122.00,116.50" fill="none" stroke="#c000c0" stroke-width="10.5" stroke-linecap="round" stroke-linejoin="round" opacity="0.35" filter="url(#b2)"/>
<path d="M109.00,116.50 C111.17,116.50 119.83,116.50 122.00,116.50" fill="none" stroke="#e818e8" stroke-width="6.5" stroke-linecap="round" stroke-linejoin="round" opacity="1" filter="url(#b1)"/>
</g>
<clipPath id="cl6"><rect x="0" y="0" width="120" height="120"/></clipPath>
<g transform="translate(951,196)" clip-path="url(#cl6)">
<rect x="0" y="0" width="120" height="120" fill="#000"/>
<g filter="url(#b1)"><circle cx="73.8" cy="89.8" r="1.8" fill="#c010c0" opacity="0.22"/><circle cx="63.2" cy="95.8" r="2.0" fill="#c010c0" opacity="0.23"/><circle cx="27.0" cy="57.1" r="1.0" fill="#c010c0" opacity="0.19"/><circle cx="34.4" cy="45.8" r="2.0" fill="#c010c0" opacity="0.16"/><circle cx="57.5" cy="81.1" r="2.2" fill="#c010c0" opacity="0.28"/><circle cx="80.2" cy="32.8" r="1.0" fill="#c010c0" opacity="0.18"/><circle cx="29.9" cy="58.4" r="2.1" fill="#c010c0" opacity="0.19"/><circle cx="77.0" cy="90.3" r="1.1" fill="#c010c0" opacity="0.33"/><circle cx="22.0" cy="68.0" r="1.4" fill="#c010c0" opacity="0.22"/><circle cx="63.9" cy="79.3" r="2.0" fill="#c010c0" opacity="0.16"/><circle cx="60.2" cy="31.1" r="2.2" fill="#c010c0" opacity="0.32"/><circle cx="56.2" cy="19.8" r="1.7" fill="#c010c0" opacity="0.28"/><circle cx="78.8" cy="81.0" r="2.0" fill="#c010c0" opacity="0.15"/><circle cx="90.7" cy="39.3" r="1.5" fill="#c010c0" opacity="0.19"/><circle cx="25.2" cy="67.4" r="2.2" fill="#c010c0" opacity="0.20"/><circle cx="79.2" cy="62.1" r="1.9" fill="#c010c0" opacity="0.35"/><circle cx="21.6" cy="58.8" r="1.7" fill="#c010c0" opacity="0.29"/><circle cx="61.2" cy="93.0" r="1.7" fill="#c010c0" opacity="0.26"/><circle cx="66.2" cy="82.0" r="1.4" fill="#c010c0" opacity="0.33"/><circle cx="34.8" cy="87.0" r="1.4" fill="#c010c0" opacity="0.13"/><circle cx="90.8" cy="73.7" r="1.9" fill="#c010c0" opacity="0.19"/><circle cx="40.1" cy="24.4" r="2.1" fill="#c010c0" opacity="0.34"/><circle cx="20.1" cy="81.1" r="2.2" fill="#c010c0" opacity="0.25"/><circle cx="79.8" cy="35.7" r="1.5" fill="#c010c0" opacity="0.16"/><circle cx="73.7" cy="39.5" r="1.1" fill="#c010c0" opacity="0.30"/><circle cx="60.0" cy="25.2" r="2.0" fill="#c010c0" opacity="0.11"/><circle cx="53.5" cy="87.2" r="1.5" fill="#c010c0" opacity="0.14"/><circle cx="82.4" cy="70.8" r="2.1" fill="#c010c0" opacity="0.35"/><circle cx="54.1" cy="24.9" r="1.3" fill="#c010c0" opacity="0.34"/><circle cx="17.8" cy="52.0" r="1.0" fill="#c010c0" opacity="0.15"/><circle cx="75.4" cy="25.1" r="2.1" fill="#c010c0" opacity="0.25"/><circle cx="23.7" cy="73.7" r="2.0" fill="#c010c0" opacity="0.18"/><circle cx="26.7" cy="51.8" r="1.9" fill="#c010c0" opacity="0.10"/><circle cx="38.7" cy="20.1" r="1.0" fill="#c010c0" opacity="0.25"/><circle cx="30.5" cy="26.8" r="1.7" fill="#c010c0" opacity="0.16"/><circle cx="20.7" cy="81.1" r="2.1" fill="#c010c0" opacity="0.13"/><circle cx="75.3" cy="71.8" r="1.0" fill="#c010c0" opacity="0.21"/><circle cx="80.3" cy="88.9" r="1.8" fill="#c010c0" opacity="0.13"/><circle cx="25.9" cy="50.8" r="1.6" fill="#c010c0" opacity="0.15"/><circle cx="68.5" cy="81.2" r="1.5" fill="#c010c0" opacity="0.28"/><circle cx="32.8" cy="50.8" r="1.9" fill="#c010c0" opacity="0.32"/><circle cx="60.9" cy="19.8" r="1.0" fill="#c010c0" opacity="0.22"/><circle cx="90.2" cy="72.9" r="1.2" fill="#c010c0" opacity="0.28"/><circle cx="54.3" cy="95.1" r="1.4" fill="#c010c0" opacity="0.11"/><circle cx="32.3" cy="77.1" r="2.1" fill="#c010c0" opacity="0.17"/><circle cx="20.6" cy="57.3" r="2.1" fill="#c010c0" opacity="0.12"/><circle cx="27.9" cy="38.0" r="1.9" fill="#c010c0" opacity="0.34"/><circle cx="41.3" cy="92.5" r="1.6" fill="#c010c0" opacity="0.24"/><circle cx="91.0" cy="73.2" r="2.2" fill="#c010c0" opacity="0.19"/><circle cx="37.6" cy="96.1" r="1.1" fill="#c010c0" opacity="0.12"/><circle cx="90.0" cy="75.4" r="1.9" fill="#c010c0" opacity="0.21"/><circle cx="38.7" cy="42.4" r="1.8" fill="#c010c0" opacity="0.21"/><circle cx="23.8" cy="54.6" r="1.5" fill="#c010c0" opacity="0.16"/><circle cx="85.7" cy="67.7" r="1.3" fill="#c010c0" opacity="0.28"/><circle cx="70.4" cy="23.8" r="1.5" fill="#c010c0" opacity="0.16"/><circle cx="30.0" cy="79.9" r="1.8" fill="#c010c0" opacity="0.34"/><circle cx="83.5" cy="74.9" r="1.6" fill="#c010c0" opacity="0.28"/><circle cx="84.7" cy="33.6" r="1.8" fill="#c010c0" opacity="0.29"/><circle cx="35.4" cy="23.4" r="1.8" fill="#c010c0" opacity="0.27"/><circle cx="56.2" cy="98.7" r="1.5" fill="#c010c0" opacity="0.25"/><circle cx="73.8" cy="21.1" r="2.2" fill="#c010c0" opacity="0.10"/><circle cx="43.6" cy="85.4" r="1.5" fill="#c010c0" opacity="0.14"/><circle cx="32.1" cy="50.1" r="1.4" fill="#c010c0" opacity="0.34"/><circle cx="53.4" cy="25.2" r="1.1" fill="#c010c0" opacity="0.34"/><circle cx="47.2" cy="31.8" r="1.4" fill="#c010c0" opacity="0.26"/><circle cx="43.1" cy="32.0" r="2.1" fill="#c010c0" opacity="0.18"/><circle cx="53.9" cy="97.6" r="1.2" fill="#c010c0" opacity="0.27"/><circle cx="65.9" cy="91.6" r="1.3" fill="#c010c0" opacity="0.19"/><circle cx="85.6" cy="46.0" r="1.5" fill="#c010c0" opacity="0.25"/><circle cx="49.9" cy="84.1" r="1.5" fill="#c010c0" opacity="0.17"/><circle cx="70.6" cy="96.3" r="1.0" fill="#c010c0" opacity="0.30"/><circle cx="89.1" cy="43.2" r="1.0" fill="#c010c0" opacity="0.23"/><circle cx="89.4" cy="66.7" r="1.8" fill="#c010c0" opacity="0.16"/><circle cx="89.3" cy="59.6" r="1.1" fill="#c010c0" opacity="0.18"/><circle cx="16.3" cy="69.5" r="1.4" fill="#c010c0" opacity="0.13"/><circle cx="65.2" cy="20.1" r="1.6" fill="#c010c0" opacity="0.11"/><circle cx="67.1" cy="87.2" r="1.7" fill="#c010c0" opacity="0.16"/><circle cx="67.8" cy="20.6" r="2.1" fill="#c010c0" opacity="0.32"/><circle cx="89.8" cy="61.9" r="1.1" fill="#c010c0" opacity="0.32"/><circle cx="54.3" cy="19.9" r="1.2" fill="#c010c0" opacity="0.11"/><circle cx="69.1" cy="25.4" r="1.7" fill="#c010c0" opacity="0.22"/><circle cx="64.4" cy="29.2" r="1.3" fill="#c010c0" opacity="0.19"/><circle cx="44.3" cy="92.3" r="2.1" fill="#c010c0" opacity="0.12"/><circle cx="85.7" cy="71.9" r="1.8" fill="#c010c0" opacity="0.15"/><circle cx="52.1" cy="81.5" r="1.0" fill="#c010c0" opacity="0.22"/><circle cx="39.7" cy="25.1" r="1.2" fill="#c010c0" opacity="0.13"/><circle cx="86.1" cy="43.6" r="1.5" fill="#c010c0" opacity="0.27"/><circle cx="50.3" cy="24.3" r="1.1" fill="#c010c0" opacity="0.31"/><circle cx="60.2" cy="80.5" r="1.4" fill="#c010c0" opacity="0.23"/><circle cx="36.6" cy="38.8" r="1.9" fill="#c010c0" opacity="0.22"/><circle cx="75.8" cy="91.8" r="2.0" fill="#c010c0" opacity="0.33"/><circle cx="43.2" cy="33.1" r="1.9" fill="#c010c0" opacity="0.33"/><circle cx="15.3" cy="49.6" r="2.2" fill="#c010c0" opacity="0.20"/><circle cx="93.3" cy="43.3" r="2.0" fill="#c010c0" opacity="0.10"/><circle cx="33.7" cy="86.6" r="1.7" fill="#c010c0" opacity="0.29"/><circle cx="39.1" cy="37.0" r="2.1" fill="#c010c0" opacity="0.23"/><circle cx="75.1" cy="39.5" r="2.2" fill="#c010c0" opacity="0.24"/><circle cx="61.1" cy="20.7" r="2.1" fill="#c010c0" opacity="0.19"/><circle cx="82.5" cy="73.7" r="1.2" fill="#c010c0" opacity="0.23"/><circle cx="67.2" cy="29.7" r="1.2" fill="#c010c0" opacity="0.11"/><circle cx="24.0" cy="74.3" r="1.0" fill="#c010c0" opacity="0.27"/><circle cx="61.1" cy="82.2" r="2.1" fill="#c010c0" opacity="0.23"/><circle cx="81.7" cy="37.3" r="1.1" fill="#c010c0" opacity="0.16"/><circle cx="22.9" cy="74.5" r="1.9" fill="#c010c0" opacity="0.29"/><circle cx="38.4" cy="34.9" r="1.5" fill="#c010c0" opacity="0.19"/><circle cx="26.4" cy="59.9" r="1.6" fill="#c010c0" opacity="0.21"/><circle cx="93.2" cy="66.7" r="1.7" fill="#c010c0" opacity="0.30"/><circle cx="51.8" cy="20.5" r="2.2" fill="#c010c0" opacity="0.19"/><circle cx="37.6" cy="71.7" r="1.8" fill="#c010c0" opacity="0.25"/><circle cx="17.8" cy="38.6" r="1.2" fill="#c010c0" opacity="0.16"/><circle cx="51.1" cy="19.2" r="1.6" fill="#c010c0" opacity="0.11"/><circle cx="28.0" cy="86.6" r="1.6" fill="#c010c0" opacity="0.22"/><circle cx="27.4" cy="81.0" r="1.7" fill="#c010c0" opacity="0.27"/><circle cx="80.2" cy="29.5" r="1.4" fill="#c010c0" opacity="0.16"/><circle cx="62.7" cy="20.1" r="2.1" fill="#c010c0" opacity="0.15"/><circle cx="78.2" cy="25.1" r="1.1" fill="#c010c0" opacity="0.18"/><circle cx="37.7" cy="38.7" r="2.0" fill="#c010c0" opacity="0.17"/><circle cx="42.9" cy="31.2" r="1.3" fill="#c010c0" opacity="0.15"/><circle cx="17.6" cy="58.6" r="1.3" fill="#c010c0" opacity="0.27"/><circle cx="36.5" cy="89.2" r="1.4" fill="#c010c0" opacity="0.15"/><circle cx="69.9" cy="76.3" r="1.8" fill="#c010c0" opacity="0.20"/><circle cx="83.7" cy="86.1" r="1.8" fill="#c010c0" opacity="0.11"/><circle cx="49.4" cy="23.2" r="1.5" fill="#c010c0" opacity="0.23"/><circle cx="85.2" cy="50.7" r="1.8" fill="#c010c0" opacity="0.26"/><circle cx="34.8" cy="80.8" r="1.9" fill="#c010c0" opacity="0.26"/><circle cx="22.4" cy="67.0" r="1.3" fill="#c010c0" opacity="0.30"/><circle cx="90.9" cy="62.5" r="1.5" fill="#c010c0" opacity="0.16"/><circle cx="25.0" cy="39.8" r="1.1" fill="#c010c0" opacity="0.22"/><circle cx="74.7" cy="91.4" r="1.4" fill="#c010c0" opacity="0.18"/><circle cx="60.0" cy="80.8" r="1.2" fill="#c010c0" opacity="0.14"/><circle cx="26.9" cy="30.1" r="1.3" fill="#c010c0" opacity="0.13"/><circle cx="30.4" cy="52.6" r="1.5" fill="#c010c0" opacity="0.29"/><circle cx="65.8" cy="93.5" r="1.6" fill="#c010c0" opacity="0.12"/><circle cx="56.7" cy="93.3" r="1.1" fill="#c010c0" opacity="0.15"/><circle cx="20.3" cy="39.9" r="1.6" fill="#c010c0" opacity="0.27"/><circle cx="84.5" cy="59.7" r="1.4" fill="#c010c0" opacity="0.33"/><circle cx="30.9" cy="88.1" r="1.0" fill="#c010c0" opacity="0.22"/><circle cx="84.8" cy="33.8" r="1.7" fill="#c010c0" opacity="0.15"/><circle cx="76.7" cy="47.2" r="2.2" fill="#c010c0" opacity="0.29"/><circle cx="48.5" cy="24.5" r="1.2" fill="#c010c0" opacity="0.19"/><circle cx="36.3" cy="26.8" r="1.5" fill="#c010c0" opacity="0.30"/><circle cx="82.6" cy="67.6" r="1.1" fill="#c010c0" opacity="0.18"/><circle cx="65.1" cy="21.3" r="1.2" fill="#c010c0" opacity="0.18"/><circle cx="82.8" cy="81.6" r="1.5" fill="#c010c0" opacity="0.16"/><circle cx="26.9" cy="86.4" r="1.5" fill="#c010c0" opacity="0.27"/><circle cx="32.1" cy="34.3" r="1.7" fill="#c010c0" opacity="0.19"/><circle cx="65.7" cy="89.7" r="1.4" fill="#c010c0" opacity="0.18"/><circle cx="70.8" cy="95.5" r="1.5" fill="#c010c0" opacity="0.15"/><circle cx="82.0" cy="63.5" r="2.0" fill="#c010c0" opacity="0.18"/><circle cx="41.1" cy="33.8" r="1.8" fill="#c010c0" opacity="0.21"/><circle cx="52.1" cy="24.1" r="1.5" fill="#c010c0" opacity="0.17"/><circle cx="22.3" cy="36.0" r="1.8" fill="#c010c0" opacity="0.22"/><circle cx="35.9" cy="93.5" r="2.0" fill="#c010c0" opacity="0.14"/><circle cx="38.5" cy="23.4" r="1.8" fill="#c010c0" opacity="0.34"/><circle cx="75.5" cy="38.5" r="2.2" fill="#c010c0" opacity="0.18"/><circle cx="24.7" cy="86.5" r="1.2" fill="#c010c0" opacity="0.20"/><circle cx="34.7" cy="37.5" r="1.3" fill="#c010c0" opacity="0.30"/><circle cx="26.2" cy="33.4" r="1.9" fill="#c010c0" opacity="0.32"/><circle cx="85.8" cy="33.7" r="2.2" fill="#c010c0" opacity="0.22"/><circle cx="44.9" cy="25.8" r="2.2" fill="#c010c0" opacity="0.26"/><circle cx="21.9" cy="73.4" r="1.4" fill="#c010c0" opacity="0.13"/><circle cx="35.6" cy="74.8" r="1.0" fill="#c010c0" opacity="0.12"/><circle cx="18.3" cy="68.8" r="1.1" fill="#c010c0" opacity="0.26"/><circle cx="80.8" cy="79.7" r="1.4" fill="#c010c0" opacity="0.21"/><circle cx="47.5" cy="27.1" r="1.5" fill="#c010c0" opacity="0.28"/><circle cx="77.8" cy="78.3" r="1.8" fill="#c010c0" opacity="0.31"/><circle cx="83.3" cy="54.3" r="1.8" fill="#c010c0" opacity="0.18"/><circle cx="43.2" cy="20.2" r="1.2" fill="#c010c0" opacity="0.19"/><circle cx="83.2" cy="46.1" r="1.8" fill="#c010c0" opacity="0.30"/><circle cx="48.1" cy="95.9" r="1.0" fill="#c010c0" opacity="0.19"/></g>
<path d="M24.20,37.90 C25.43,36.67 28.97,32.60 31.60,30.50 C34.23,28.40 37.20,26.43 40.00,25.30 C42.80,24.17 46.12,23.35 48.40,23.70 C50.68,24.05 52.20,25.57 53.70,27.40 C55.20,29.23 56.70,32.78 57.40,34.70 C58.10,36.62 57.82,38.20 57.90,38.90" fill="none" stroke="#c000c0" stroke-width="9.0" stroke-linecap="round" stroke-linejoin="round" opacity="0.35" filter="url(#b2)"/>
<path d="M24.20,37.90 C25.43,36.67 28.97,32.60 31.60,30.50 C34.23,28.40 37.20,26.43 40.00,25.30 C42.80,24.17 46.12,23.35 48.40,23.70 C50.68,24.05 52.20,25.57 53.70,27.40 C55.20,29.23 56.70,32.78 57.40,34.70 C58.10,36.62 57.82,38.20 57.90,38.90" fill="none" stroke="#e818e8" stroke-width="5" stroke-linecap="round" stroke-linejoin="round" opacity="1" filter="url(#b1)"/>
<path d="M68.40,27.40 C69.63,27.92 74.03,29.10 75.80,30.50 C77.57,31.90 79.00,33.68 79.00,35.80 C79.00,37.92 77.38,40.92 75.80,43.20 C74.22,45.48 71.78,47.93 69.50,49.50 C67.22,51.07 65.43,51.98 62.10,52.60 C58.77,53.22 51.60,53.10 49.50,53.20" fill="none" stroke="#c000c0" stroke-width="9.0" stroke-linecap="round" stroke-linejoin="round" opacity="0.35" filter="url(#b2)"/>
<path d="M68.40,27.40 C69.63,27.92 74.03,29.10 75.80,30.50 C77.57,31.90 79.00,33.68 79.00,35.80 C79.00,37.92 77.38,40.92 75.80,43.20 C74.22,45.48 71.78,47.93 69.50,49.50 C67.22,51.07 65.43,51.98 62.10,52.60 C58.77,53.22 51.60,53.10 49.50,53.20" fill="none" stroke="#e818e8" stroke-width="5" stroke-linecap="round" stroke-linejoin="round" opacity="1" filter="url(#b1)"/>
<path d="M31.60,45.30 C30.90,46.00 28.72,48.10 27.40,49.50 C26.08,50.90 24.32,53.00 23.70,53.70" fill="none" stroke="#c000c0" stroke-width="9.0" stroke-linecap="round" stroke-linejoin="round" opacity="0.35" filter="url(#b2)"/>
<path d="M31.60,45.30 C30.90,46.00 28.72,48.10 27.40,49.50 C26.08,50.90 24.32,53.00 23.70,53.70" fill="none" stroke="#e818e8" stroke-width="5" stroke-linecap="round" stroke-linejoin="round" opacity="1" filter="url(#b1)"/>
<path d="M31.60,66.30 C33.00,66.83 37.02,68.45 40.00,69.50 C42.98,70.55 46.35,71.90 49.50,72.60 C52.65,73.30 55.75,74.05 58.90,73.70 C62.05,73.35 65.23,72.25 68.40,70.50 C71.57,68.75 75.08,64.87 77.90,63.20 C80.72,61.53 83.37,60.50 85.30,60.50 C87.23,60.50 88.80,62.75 89.50,63.20" fill="none" stroke="#c000c0" stroke-width="9.0" stroke-linecap="round" stroke-linejoin="round" opacity="0.35" filter="url(#b2)"/>
<path d="M31.60,66.30 C33.00,66.83 37.02,68.45 40.00,69.50 C42.98,70.55 46.35,71.90 49.50,72.60 C52.65,73.30 55.75,74.05 58.90,73.70 C62.05,73.35 65.23,72.25 68.40,70.50 C71.57,68.75 75.08,64.87 77.90,63.20 C80.72,61.53 83.37,60.50 85.30,60.50 C87.23,60.50 88.80,62.75 89.50,63.20" fill="none" stroke="#e818e8" stroke-width="5" stroke-linecap="round" stroke-linejoin="round" opacity="1" filter="url(#b1)"/>
<path d="M56.80,84.20 C58.22,84.47 62.48,85.97 65.30,85.80 C68.12,85.63 70.90,84.70 73.70,83.20 C76.50,81.70 79.82,79.27 82.10,76.80 C84.38,74.33 86.52,69.80 87.40,68.40" fill="none" stroke="#c000c0" stroke-width="9.0" stroke-linecap="round" stroke-linejoin="round" opacity="0.35" filter="url(#b2)"/>
<path d="M56.80,84.20 C58.22,84.47 62.48,85.97 65.30,85.80 C68.12,85.63 70.90,84.70 73.70,83.20 C76.50,81.70 79.82,79.27 82.10,76.80 C84.38,74.33 86.52,69.80 87.40,68.40" fill="none" stroke="#e818e8" stroke-width="5" stroke-linecap="round" stroke-linejoin="round" opacity="1" filter="url(#b1)"/>
<path d="M28.40,82.10 C29.45,82.80 32.42,84.90 34.70,86.30 C36.98,87.70 40.87,89.80 42.10,90.50" fill="none" stroke="#c000c0" stroke-width="9.5" stroke-linecap="round" stroke-linejoin="round" opacity="0.35" filter="url(#b2)"/>
<path d="M28.40,82.10 C29.45,82.80 32.42,84.90 34.70,86.30 C36.98,87.70 40.87,89.80 42.10,90.50" fill="none" stroke="#e818e8" stroke-width="5.5" stroke-linecap="round" stroke-linejoin="round" opacity="1" filter="url(#b1)"/>
<g filter="url(#b1)"><circle cx="105.4" cy="107.7" r="2.3" fill="#a010a0" opacity="0.17"/><circle cx="88.5" cy="108.7" r="1.8" fill="#a010a0" opacity="0.18"/><circle cx="97.9" cy="120.5" r="1.3" fill="#a010a0" opacity="0.26"/><circle cx="98.5" cy="113.5" r="2.1" fill="#a010a0" opacity="0.26"/><circle cx="84.8" cy="112.2" r="1.5" fill="#a010a0" opacity="0.16"/><circle cx="96.9" cy="104.0" r="2.0" fill="#a010a0" opacity="0.31"/><circle cx="102.1" cy="111.7" r="2.1" fill="#a010a0" opacity="0.24"/><circle cx="86.2" cy="108.7" r="1.5" fill="#a010a0" opacity="0.17"/><circle cx="85.0" cy="114.6" r="1.9" fill="#a010a0" opacity="0.26"/><circle cx="91.8" cy="109.0" r="1.3" fill="#a010a0" opacity="0.23"/><circle cx="97.1" cy="108.1" r="1.2" fill="#a010a0" opacity="0.17"/><circle cx="101.1" cy="114.5" r="1.9" fill="#a010a0" opacity="0.36"/><circle cx="91.5" cy="119.4" r="1.4" fill="#a010a0" opacity="0.23"/><circle cx="96.5" cy="104.2" r="1.4" fill="#a010a0" opacity="0.18"/><circle cx="97.1" cy="103.1" r="2.2" fill="#a010a0" opacity="0.21"/><circle cx="84.0" cy="109.8" r="1.9" fill="#a010a0" opacity="0.39"/><circle cx="100.9" cy="123.3" r="1.1" fill="#a010a0" opacity="0.25"/><circle cx="105.7" cy="114.6" r="2.0" fill="#a010a0" opacity="0.39"/><circle cx="99.0" cy="102.0" r="1.8" fill="#a010a0" opacity="0.40"/><circle cx="95.0" cy="105.9" r="2.5" fill="#a010a0" opacity="0.24"/><circle cx="96.2" cy="116.1" r="1.7" fill="#a010a0" opacity="0.20"/><circle cx="105.7" cy="108.3" r="1.3" fill="#a010a0" opacity="0.18"/><circle cx="90.1" cy="112.1" r="1.8" fill="#a010a0" opacity="0.35"/><circle cx="94.9" cy="120.8" r="2.4" fill="#a010a0" opacity="0.26"/><circle cx="88.8" cy="122.5" r="2.2" fill="#a010a0" opacity="0.37"/><circle cx="92.1" cy="105.9" r="2.0" fill="#a010a0" opacity="0.36"/><circle cx="91.3" cy="108.5" r="1.4" fill="#a010a0" opacity="0.25"/><circle cx="96.2" cy="104.1" r="1.8" fill="#a010a0" opacity="0.36"/><circle cx="102.4" cy="119.0" r="1.5" fill="#a010a0" opacity="0.29"/><circle cx="98.1" cy="107.9" r="2.4" fill="#a010a0" opacity="0.17"/><circle cx="86.8" cy="109.6" r="1.4" fill="#a010a0" opacity="0.29"/><circle cx="87.1" cy="114.5" r="2.1" fill="#a010a0" opacity="0.15"/><circle cx="87.4" cy="120.4" r="1.2" fill="#a010a0" opacity="0.37"/><circle cx="97.8" cy="122.5" r="1.3" fill="#a010a0" opacity="0.26"/><circle cx="92.0" cy="114.6" r="2.0" fill="#a010a0" opacity="0.27"/><circle cx="91.7" cy="104.8" r="1.8" fill="#a010a0" opacity="0.28"/><circle cx="91.6" cy="123.9" r="1.1" fill="#a010a0" opacity="0.37"/><circle cx="100.5" cy="106.6" r="2.2" fill="#a010a0" opacity="0.32"/><circle cx="89.9" cy="109.0" r="1.5" fill="#a010a0" opacity="0.24"/><circle cx="91.2" cy="124.1" r="1.5" fill="#a010a0" opacity="0.25"/></g>
<path d="M109.00,116.50 C111.17,116.50 119.83,116.50 122.00,116.50" fill="none" stroke="#c000c0" stroke-width="10.5" stroke-linecap="round" stroke-linejoin="round" opacity="0.35" filter="url(#b2)"/>
<path d="M109.00,116.50 C111.17,116.50 119.83,116.50 122.00,116.50" fill="none" stroke="#e818e8" stroke-width="6.5" stroke-linecap="round" stroke-linejoin="round" opacity="1" filter="url(#b1)"/>
<ellipse cx="40" cy="70" rx="10" ry="6.5" transform="rotate(25 40 70)" fill="#20ff20" opacity="1" filter="url(#b1)"/>
<ellipse cx="41" cy="70" rx="6" ry="3.5" transform="rotate(25 41 70)" fill="#60ff60" opacity="0.8" filter="url(#b1)"/>
</g>
<rect x="1036.5" y="286" width="17.5" height="5.5" fill="#fff"/>
<text x="1029.00" y="309.50" font-size="15" textLength="35.00" lengthAdjust="spacingAndGlyphs" fill="#fff">1 µm</text>
<rect x="1077.75" y="197.25" width="117.50" height="117.50" fill="#fff" stroke="#111" stroke-width="1.6"/>
<circle cx="1129.6" cy="255.5" r="42.3" fill="none" stroke="#b5b5b5" stroke-width="1.5" stroke-dasharray="5.5,4.5"/>
<ellipse cx="1160.2" cy="268.5" rx="3.6" ry="5.5" transform="rotate(20 1160.2 268.5)" fill="#cde8d4"/>
<path d="M1106.5,264.5 C1107,256.5 1117,256.5 1123,260.5 C1129,264.5 1132,270.5 1127,274.0 C1121,276.5 1113,272.5 1106.5,264.5 Z" fill="#5fbe70"/>
<path d="M1107.50,263.90 C1109.25,264.42 1114.32,265.95 1118.00,267.00 C1121.68,268.05 1127.67,269.67 1129.60,270.20" fill="none" stroke="#3d6b4a" stroke-width="1.6" stroke-dasharray="4,2.5"/>
<path d="M1129.60,270.20 C1130.67,270.02 1133.37,269.80 1136.00,269.10 C1138.63,268.40 1142.60,267.57 1145.40,266.00 C1148.20,264.43 1150.87,261.20 1152.80,259.70 C1154.73,258.20 1155.60,257.37 1157.00,257.00 C1158.40,256.63 1160.23,256.88 1161.20,257.50 C1162.17,258.12 1162.97,259.28 1162.80,260.70 C1162.63,262.12 1161.33,264.07 1160.20,266.00 C1159.07,267.93 1157.58,270.20 1156.00,272.30 C1154.42,274.40 1152.63,277.02 1150.70,278.60 C1148.77,280.18 1146.15,281.27 1144.40,281.80 C1142.65,282.33 1142.13,282.15 1140.20,281.80 C1138.27,281.45 1134.03,280.05 1132.80,279.70" fill="none" stroke="#f07ef0" stroke-width="3.8" stroke-linecap="round" stroke-linejoin="round"/>
<path d="M1129.60,270.20 C1130.67,270.02 1133.37,269.80 1136.00,269.10 C1138.63,268.40 1142.60,267.57 1145.40,266.00 C1148.20,264.43 1150.87,261.20 1152.80,259.70 C1154.73,258.20 1155.60,257.37 1157.00,257.00 C1158.40,256.63 1160.23,256.88 1161.20,257.50 C1162.17,258.12 1162.97,259.28 1162.80,260.70 C1162.63,262.12 1161.33,264.07 1160.20,266.00 C1159.07,267.93 1157.58,270.20 1156.00,272.30 C1154.42,274.40 1152.63,277.02 1150.70,278.60 C1148.77,280.18 1146.15,281.27 1144.40,281.80 C1142.65,282.33 1142.13,282.15 1140.20,281.80 C1138.27,281.45 1134.03,280.05 1132.80,279.70" fill="none" stroke="#4a0050" stroke-width="1.7" stroke-dasharray="4.5,3" stroke-dashoffset="0"/>
<path d="M1132.80,279.70 C1131.92,279.55 1129.08,279.20 1127.50,278.80 C1125.92,278.40 1124.00,277.55 1123.30,277.30" fill="none" stroke="#111" stroke-width="1.7" stroke-dasharray="4.5,3"/>
<line x1="1115.40" y1="240.00" x2="1115.40" y2="247.00" stroke="#111" stroke-width="1.6"/>
<polygon points="1115.40,253.00 1112.15,246.50 1115.40,247.28 1118.65,246.50" fill="#111"/>
<line x1="1107.00" y1="263.90" x2="1104.70" y2="259.90" stroke="#111" stroke-width="1.4"/>
<polygon points="1101.70,254.70 1107.76,258.71 1104.56,259.66 1102.13,261.95" fill="#111"/>
<line x1="1171.70" y1="278.60" x2="1169.60" y2="275.13" stroke="#111" stroke-width="1.4"/>
<polygon points="1166.50,270.00 1172.64,273.88 1169.46,274.89 1167.08,277.24" fill="#111"/>
<text x="1088.30" y="222.30" font-size="15" textLength="65.80" lengthAdjust="spacingAndGlyphs">Cluster II</text>
<text x="1140.40" y="249.10" font-size="15" textLength="37.80" lengthAdjust="spacingAndGlyphs" fill="#e000e0">LG IV</text>
<text x="1124.00" y="299.10" font-size="15" textLength="61.50" lengthAdjust="spacingAndGlyphs">Cluster I</text>
<rect x="851.00" y="324.50" width="51.40" height="116.00" fill="#dcf0e4"/>
<rect x="1047.00" y="324.50" width="81.00" height="116.00" fill="#efe6f8"/>
<polyline points="727.50,432.00 737.50,431.25 742.50,428.00 747.50,422.50 752.50,414.50 760.00,406.25 767.50,401.75 775.00,405.75 780.00,407.50 787.50,408.75 792.50,405.00 800.00,404.50 807.50,408.00 817.50,411.25 825.00,413.75 835.00,413.25 842.50,415.00 852.00,416.00 870.00,416.00 883.50,414.50 894.00,419.00 903.00,417.50 909.00,407.00 915.00,398.60 921.00,400.40 927.00,397.40 936.00,397.40 942.00,402.50 948.00,408.50 954.00,411.50 963.00,409.40 975.00,399.50 984.00,403.40 993.00,399.50 999.00,404.60 1008.00,411.50 1023.00,414.50 1035.00,416.60 1044.00,407.60 1050.00,404.90 1062.00,409.40 1071.00,414.50 1080.00,415.40 1092.00,418.40 1101.00,416.90 1110.00,414.50 1119.00,416.00 1128.00,425.60 1140.00,429.50 1147.50,430.40" fill="none" stroke="#ff00ff" stroke-width="2.6" stroke-linejoin="round" stroke-linecap="round"/>
<polyline points="727.50,429.25 737.50,430.50 750.00,430.00 762.50,431.25 775.00,430.75 787.50,430.50 800.00,429.25 812.50,430.00 825.00,428.50 837.50,429.00 855.00,426.50 870.00,424.40 879.00,425.00 891.00,428.00 903.00,430.40 915.00,429.50 927.00,427.40 936.00,430.40 954.00,428.90 969.00,429.50 990.00,429.50 1002.00,429.80 1020.00,428.00 1032.00,422.00 1044.00,408.50 1053.00,396.50 1062.00,377.00 1071.00,354.50 1080.00,347.60 1089.00,332.00 1095.00,333.50 1104.00,345.50 1110.00,356.00 1119.00,380.00 1128.00,399.50 1134.00,417.50 1140.00,419.00 1147.50,425.60" fill="none" stroke="#35a868" stroke-width="2.6" stroke-linejoin="round" stroke-linecap="round"/>
<rect x="700.00" y="324.00" width="495.50" height="117.00" fill="none" stroke="#222" stroke-width="1.2"/>
<line x1="694.00" y1="334.00" x2="700.00" y2="334.00" stroke="#333" stroke-width="1"/>
<text x="684.50" y="339.20" font-size="15.5" text-anchor="end" textLength="55.20" lengthAdjust="spacingAndGlyphs">10,000</text>
<line x1="694.00" y1="354.40" x2="700.00" y2="354.40" stroke="#333" stroke-width="1"/>
<text x="684.50" y="359.60" font-size="15.5" text-anchor="end" textLength="45.60" lengthAdjust="spacingAndGlyphs">8,000</text>
<line x1="694.00" y1="374.80" x2="700.00" y2="374.80" stroke="#333" stroke-width="1"/>
<text x="684.50" y="380.00" font-size="15.5" text-anchor="end" textLength="45.60" lengthAdjust="spacingAndGlyphs">6,000</text>
<line x1="694.00" y1="395.20" x2="700.00" y2="395.20" stroke="#333" stroke-width="1"/>
<text x="684.50" y="400.40" font-size="15.5" text-anchor="end" textLength="45.60" lengthAdjust="spacingAndGlyphs">4,000</text>
<line x1="694.00" y1="415.60" x2="700.00" y2="415.60" stroke="#333" stroke-width="1"/>
<text x="684.50" y="420.80" font-size="15.5" text-anchor="end" textLength="45.60" lengthAdjust="spacingAndGlyphs">2,000</text>
<line x1="694.00" y1="436.00" x2="700.00" y2="436.00" stroke="#333" stroke-width="1"/>
<text x="684.50" y="441.20" font-size="15.5" text-anchor="end" textLength="9.60" lengthAdjust="spacingAndGlyphs">0</text>
<line x1="696.50" y1="425.80" x2="700.00" y2="425.80" stroke="#333" stroke-width="1"/>
<line x1="696.50" y1="405.40" x2="700.00" y2="405.40" stroke="#333" stroke-width="1"/>
<line x1="696.50" y1="385.00" x2="700.00" y2="385.00" stroke="#333" stroke-width="1"/>
<line x1="696.50" y1="364.60" x2="700.00" y2="364.60" stroke="#333" stroke-width="1"/>
<line x1="696.50" y1="344.20" x2="700.00" y2="344.20" stroke="#333" stroke-width="1"/>
<line x1="729.00" y1="441.00" x2="729.00" y2="446.00" stroke="#333" stroke-width="1"/>
<text x="729.00" y="463.60" font-size="15.5" text-anchor="middle" textLength="9.60" lengthAdjust="spacingAndGlyphs">0</text>
<line x1="787.30" y1="441.00" x2="787.30" y2="444.00" stroke="#333" stroke-width="1"/>
<line x1="845.60" y1="441.00" x2="845.60" y2="446.00" stroke="#333" stroke-width="1"/>
<text x="845.60" y="463.60" font-size="15.5" text-anchor="middle" textLength="9.60" lengthAdjust="spacingAndGlyphs">2</text>
<line x1="903.90" y1="441.00" x2="903.90" y2="444.00" stroke="#333" stroke-width="1"/>
<line x1="962.20" y1="441.00" x2="962.20" y2="446.00" stroke="#333" stroke-width="1"/>
<text x="962.20" y="463.60" font-size="15.5" text-anchor="middle" textLength="9.60" lengthAdjust="spacingAndGlyphs">4</text>
<line x1="1020.50" y1="441.00" x2="1020.50" y2="444.00" stroke="#333" stroke-width="1"/>
<line x1="1078.80" y1="441.00" x2="1078.80" y2="446.00" stroke="#333" stroke-width="1"/>
<text x="1078.80" y="463.60" font-size="15.5" text-anchor="middle" textLength="9.60" lengthAdjust="spacingAndGlyphs">6</text>
<line x1="1137.10" y1="441.00" x2="1137.10" y2="444.00" stroke="#333" stroke-width="1"/>
<line x1="1195.40" y1="441.00" x2="1195.40" y2="446.00" stroke="#333" stroke-width="1"/>
<text x="1195.40" y="463.60" font-size="15.5" text-anchor="middle" textLength="9.60" lengthAdjust="spacingAndGlyphs">8</text>
<text x="621.30" y="383.00" font-size="18.5" text-anchor="middle" textLength="34.00" lengthAdjust="spacingAndGlyphs" transform="rotate(-90 621.30 383.00)">RFU</text>
<text x="960.00" y="491.70" font-size="17.6" text-anchor="middle" textLength="195.50" lengthAdjust="spacingAndGlyphs">Distance of LG IV (µm)</text>
<line x1="725.00" y1="335.50" x2="743.00" y2="335.50" stroke="#35a868" stroke-width="1.9"/>
<line x1="725.00" y1="358.00" x2="743.00" y2="358.00" stroke="#ff00ff" stroke-width="1.9"/>
<text x="754.00" y="341.10" font-size="14.8" textLength="94.00" lengthAdjust="spacingAndGlyphs">TOFU-4::GFP</text>
<text x="754.00" y="363.20" font-size="14.8" textLength="101.00" lengthAdjust="spacingAndGlyphs">tagRFP::SYP-1</text>
<text x="843.00" y="387.00" font-size="15.5" textLength="61.00" lengthAdjust="spacingAndGlyphs">Cluster I</text>
<line x1="872.00" y1="400.50" x2="872.00" y2="407.00" stroke="#111" stroke-width="1.5"/>
<polygon points="872.00,412.50 869.00,406.50 872.00,407.22 875.00,406.50" fill="#111"/>
<text x="956.00" y="381.50" font-size="15.5" textLength="65.50" lengthAdjust="spacingAndGlyphs">Cluster II</text>
<line x1="1039.00" y1="375.00" x2="1049.00" y2="375.00" stroke="#111" stroke-width="1.5"/>
<polygon points="1054.50,375.00 1048.50,378.00 1049.22,375.00 1048.50,372.00" fill="#111"/>
<text x="-1.50" y="532.30" font-size="27" textLength="20.30" lengthAdjust="spacingAndGlyphs" font-weight="bold" fill="#000">d</text>
<text x="180.00" y="534.30" font-size="18.8" text-anchor="middle" textLength="54.40" lengthAdjust="spacingAndGlyphs">UAD-2</text>
<text x="317.60" y="534.30" font-size="18.8" text-anchor="middle" textLength="66.00" lengthAdjust="spacingAndGlyphs">TOFU-4</text>
<text x="453.00" y="534.30" font-size="18.8" text-anchor="middle" textLength="66.00" lengthAdjust="spacingAndGlyphs">TOFU-5</text>
<line x1="96.90" y1="610.20" x2="100.50" y2="610.20" stroke="#333" stroke-width="1"/>
<text x="87.80" y="615.10" font-size="14" text-anchor="end" textLength="19.20" lengthAdjust="spacingAndGlyphs">64</text>
<line x1="96.90" y1="638.10" x2="100.50" y2="638.10" stroke="#333" stroke-width="1"/>
<text x="87.80" y="643.00" font-size="14" text-anchor="end" textLength="19.20" lengthAdjust="spacingAndGlyphs">16</text>
<line x1="96.90" y1="666.00" x2="100.50" y2="666.00" stroke="#333" stroke-width="1"/>
<text x="87.80" y="670.90" font-size="14" text-anchor="end" textLength="9.50" lengthAdjust="spacingAndGlyphs">4</text>
<line x1="96.90" y1="694.00" x2="100.50" y2="694.00" stroke="#333" stroke-width="1"/>
<text x="87.80" y="698.90" font-size="14" text-anchor="end" textLength="9.50" lengthAdjust="spacingAndGlyphs">1</text>
<line x1="96.90" y1="722.00" x2="100.50" y2="722.00" stroke="#333" stroke-width="1"/>
<text x="87.80" y="726.90" font-size="14" text-anchor="end" textLength="19.20" lengthAdjust="spacingAndGlyphs">−1</text>
<line x1="96.90" y1="750.00" x2="100.50" y2="750.00" stroke="#333" stroke-width="1"/>
<text x="87.80" y="754.90" font-size="14" text-anchor="end" textLength="19.20" lengthAdjust="spacingAndGlyphs">−4</text>
<text x="31.30" y="661.50" font-size="19.5" text-anchor="middle" textLength="231.00" lengthAdjust="spacingAndGlyphs" transform="rotate(-90 31.30 661.50)">ChIP signal of piRNA gene</text>
<text x="53.50" y="663.00" font-size="19.5" text-anchor="middle" textLength="118.00" lengthAdjust="spacingAndGlyphs" transform="rotate(-90 53.50 663.00)">log<tspan font-size="13" dy="3.5">2</tspan><tspan dy="-3.5">(IP/input)</tspan></text>
<g><circle cx="122.60" cy="657.67" r="1.25" fill="#555" opacity="0.23"/><circle cx="122.60" cy="644.66" r="1.25" fill="#555" opacity="0.29"/><circle cx="122.60" cy="664.18" r="1.25" fill="#555" opacity="0.85"/><circle cx="122.60" cy="663.43" r="1.25" fill="#555" opacity="0.85"/><circle cx="122.60" cy="664.20" r="1.25" fill="#555" opacity="0.85"/><circle cx="122.60" cy="664.93" r="1.25" fill="#555" opacity="0.85"/><circle cx="122.60" cy="664.88" r="1.25" fill="#555" opacity="0.85"/><circle cx="122.60" cy="662.34" r="1.25" fill="#555" opacity="0.85"/><circle cx="122.60" cy="662.94" r="1.25" fill="#555" opacity="0.85"/><circle cx="122.60" cy="661.71" r="1.25" fill="#555" opacity="0.85"/><circle cx="122.60" cy="661.22" r="1.25" fill="#555" opacity="0.85"/><circle cx="122.60" cy="664.81" r="1.25" fill="#555" opacity="0.85"/><circle cx="122.60" cy="654.64" r="1.25" fill="#555" opacity="0.34"/><circle cx="122.60" cy="661.87" r="1.25" fill="#555" opacity="0.85"/><circle cx="122.60" cy="661.36" r="1.25" fill="#555" opacity="0.85"/><circle cx="122.60" cy="655.01" r="1.25" fill="#555" opacity="0.18"/><circle cx="122.60" cy="658.89" r="1.25" fill="#555" opacity="0.85"/><circle cx="122.60" cy="664.99" r="1.25" fill="#555" opacity="0.85"/><circle cx="122.60" cy="665.00" r="1.25" fill="#555" opacity="0.85"/><circle cx="122.60" cy="664.61" r="1.25" fill="#555" opacity="0.85"/><circle cx="122.60" cy="664.44" r="1.25" fill="#555" opacity="0.85"/><circle cx="122.60" cy="664.62" r="1.25" fill="#555" opacity="0.85"/><circle cx="122.60" cy="652.95" r="1.25" fill="#555" opacity="0.27"/><circle cx="122.60" cy="660.29" r="1.25" fill="#555" opacity="0.85"/><circle cx="122.60" cy="646.92" r="1.25" fill="#555" opacity="0.25"/><circle cx="122.60" cy="654.27" r="1.25" fill="#555" opacity="0.34"/><circle cx="122.60" cy="664.90" r="1.25" fill="#555" opacity="0.85"/><circle cx="122.60" cy="662.66" r="1.25" fill="#555" opacity="0.85"/><circle cx="122.60" cy="646.93" r="1.25" fill="#555" opacity="0.38"/><circle cx="122.60" cy="653.76" r="1.25" fill="#555" opacity="0.37"/><circle cx="122.60" cy="650.50" r="1.25" fill="#555" opacity="0.21"/><circle cx="122.60" cy="650.49" r="1.25" fill="#555" opacity="0.36"/><circle cx="122.60" cy="660.89" r="1.25" fill="#555" opacity="0.85"/><circle cx="122.60" cy="664.68" r="1.25" fill="#555" opacity="0.85"/><circle cx="122.60" cy="646.53" r="1.25" fill="#555" opacity="0.26"/><circle cx="122.60" cy="658.54" r="1.25" fill="#555" opacity="0.85"/><circle cx="122.60" cy="662.59" r="1.25" fill="#555" opacity="0.85"/><circle cx="122.60" cy="663.54" r="1.25" fill="#555" opacity="0.85"/><circle cx="122.60" cy="664.88" r="1.25" fill="#555" opacity="0.85"/><circle cx="122.60" cy="663.85" r="1.25" fill="#555" opacity="0.85"/><circle cx="122.60" cy="664.80" r="1.25" fill="#555" opacity="0.85"/><circle cx="122.60" cy="645.76" r="1.25" fill="#555" opacity="0.26"/><circle cx="122.60" cy="655.51" r="1.25" fill="#555" opacity="0.39"/><circle cx="122.60" cy="656.15" r="1.25" fill="#555" opacity="0.39"/><circle cx="122.60" cy="657.99" r="1.25" fill="#555" opacity="0.37"/><circle cx="122.60" cy="663.61" r="1.25" fill="#555" opacity="0.85"/><circle cx="122.60" cy="658.44" r="1.25" fill="#555" opacity="0.31"/><circle cx="122.60" cy="644.03" r="1.25" fill="#555" opacity="0.25"/><circle cx="122.60" cy="646.08" r="1.25" fill="#555" opacity="0.28"/><circle cx="122.60" cy="664.13" r="1.25" fill="#555" opacity="0.85"/><circle cx="122.60" cy="664.64" r="1.25" fill="#555" opacity="0.85"/><circle cx="122.60" cy="662.71" r="1.25" fill="#555" opacity="0.85"/><circle cx="122.60" cy="660.88" r="1.25" fill="#555" opacity="0.85"/><circle cx="122.60" cy="654.75" r="1.25" fill="#555" opacity="0.34"/><circle cx="122.60" cy="655.21" r="1.25" fill="#555" opacity="0.31"/><circle cx="122.60" cy="658.61" r="1.25" fill="#555" opacity="0.85"/><circle cx="122.60" cy="654.78" r="1.25" fill="#555" opacity="0.36"/><circle cx="122.60" cy="661.12" r="1.25" fill="#555" opacity="0.85"/><circle cx="122.60" cy="663.33" r="1.25" fill="#555" opacity="0.85"/><circle cx="122.60" cy="664.97" r="1.25" fill="#555" opacity="0.85"/></g>
<line x1="122.60" y1="665.00" x2="122.60" y2="643.22" stroke="#111" stroke-width="2.4" stroke-linecap="round"/>
<line x1="122.60" y1="668.00" x2="122.60" y2="665.00" stroke="#444" stroke-width="1"/>
<line x1="122.60" y1="695.80" x2="122.60" y2="709.20" stroke="#444" stroke-width="1"/>
<line x1="115.90" y1="665.00" x2="129.30" y2="665.00" stroke="#333" stroke-width="1.1"/>
<line x1="115.90" y1="709.20" x2="129.30" y2="709.20" stroke="#333" stroke-width="1.1"/>
<rect x="109.70" y="668.00" width="25.80" height="27.80" fill="#fff" stroke="#111" stroke-width="1.5"/>
<line x1="109.70" y1="679.20" x2="135.50" y2="679.20" stroke="#111" stroke-width="1.5"/>
<g><circle cx="167.90" cy="649.61" r="1.25" fill="#555" opacity="0.85"/><circle cx="167.90" cy="649.37" r="1.25" fill="#555" opacity="0.85"/><circle cx="167.90" cy="634.82" r="1.25" fill="#555" opacity="0.27"/><circle cx="167.90" cy="637.05" r="1.25" fill="#555" opacity="0.19"/><circle cx="167.90" cy="634.14" r="1.25" fill="#555" opacity="0.30"/><circle cx="167.90" cy="626.76" r="1.25" fill="#555" opacity="0.27"/><circle cx="167.90" cy="649.80" r="1.25" fill="#555" opacity="0.85"/><circle cx="167.90" cy="629.85" r="1.25" fill="#555" opacity="0.33"/><circle cx="167.90" cy="640.18" r="1.25" fill="#555" opacity="0.23"/><circle cx="167.90" cy="649.63" r="1.25" fill="#555" opacity="0.85"/><circle cx="167.90" cy="633.54" r="1.25" fill="#555" opacity="0.34"/><circle cx="167.90" cy="650.06" r="1.25" fill="#555" opacity="0.85"/><circle cx="167.90" cy="629.99" r="1.25" fill="#555" opacity="0.30"/><circle cx="167.90" cy="643.03" r="1.25" fill="#555" opacity="0.28"/><circle cx="167.90" cy="649.40" r="1.25" fill="#555" opacity="0.85"/><circle cx="167.90" cy="635.86" r="1.25" fill="#555" opacity="0.33"/><circle cx="167.90" cy="637.47" r="1.25" fill="#555" opacity="0.29"/><circle cx="167.90" cy="614.58" r="1.25" fill="#555" opacity="0.38"/><circle cx="167.90" cy="641.50" r="1.25" fill="#555" opacity="0.41"/><circle cx="167.90" cy="633.79" r="1.25" fill="#555" opacity="0.39"/><circle cx="167.90" cy="644.44" r="1.25" fill="#555" opacity="0.36"/><circle cx="167.90" cy="612.22" r="1.25" fill="#555" opacity="0.33"/><circle cx="167.90" cy="606.61" r="1.25" fill="#555" opacity="0.31"/><circle cx="167.90" cy="610.11" r="1.25" fill="#555" opacity="0.41"/><circle cx="167.90" cy="650.16" r="1.25" fill="#555" opacity="0.85"/><circle cx="167.90" cy="615.11" r="1.25" fill="#555" opacity="0.27"/><circle cx="167.90" cy="630.19" r="1.25" fill="#555" opacity="0.41"/><circle cx="167.90" cy="642.39" r="1.25" fill="#555" opacity="0.34"/><circle cx="167.90" cy="643.62" r="1.25" fill="#555" opacity="0.21"/><circle cx="167.90" cy="648.48" r="1.25" fill="#555" opacity="0.85"/><circle cx="167.90" cy="644.49" r="1.25" fill="#555" opacity="0.85"/><circle cx="167.90" cy="649.87" r="1.25" fill="#555" opacity="0.85"/><circle cx="167.90" cy="643.52" r="1.25" fill="#555" opacity="0.26"/><circle cx="167.90" cy="643.63" r="1.25" fill="#555" opacity="0.24"/><circle cx="167.90" cy="647.09" r="1.25" fill="#555" opacity="0.85"/><circle cx="167.90" cy="648.94" r="1.25" fill="#555" opacity="0.85"/><circle cx="167.90" cy="621.44" r="1.25" fill="#555" opacity="0.38"/><circle cx="167.90" cy="618.52" r="1.25" fill="#555" opacity="0.33"/><circle cx="167.90" cy="650.05" r="1.25" fill="#555" opacity="0.85"/><circle cx="167.90" cy="622.72" r="1.25" fill="#555" opacity="0.27"/><circle cx="167.90" cy="607.25" r="1.25" fill="#555" opacity="0.40"/><circle cx="167.90" cy="650.30" r="1.25" fill="#555" opacity="0.85"/><circle cx="167.90" cy="648.66" r="1.25" fill="#555" opacity="0.85"/><circle cx="167.90" cy="629.05" r="1.25" fill="#555" opacity="0.40"/><circle cx="167.90" cy="608.01" r="1.25" fill="#555" opacity="0.33"/><circle cx="167.90" cy="619.02" r="1.25" fill="#555" opacity="0.25"/><circle cx="167.90" cy="627.31" r="1.25" fill="#555" opacity="0.39"/><circle cx="167.90" cy="649.12" r="1.25" fill="#555" opacity="0.85"/><circle cx="167.90" cy="649.67" r="1.25" fill="#555" opacity="0.85"/><circle cx="167.90" cy="635.15" r="1.25" fill="#555" opacity="0.30"/><circle cx="167.90" cy="608.42" r="1.25" fill="#555" opacity="0.26"/><circle cx="167.90" cy="612.26" r="1.25" fill="#555" opacity="0.29"/><circle cx="167.90" cy="649.70" r="1.25" fill="#555" opacity="0.85"/><circle cx="167.90" cy="636.19" r="1.25" fill="#555" opacity="0.25"/><circle cx="167.90" cy="611.36" r="1.25" fill="#555" opacity="0.30"/><circle cx="167.90" cy="650.18" r="1.25" fill="#555" opacity="0.85"/><circle cx="167.90" cy="625.37" r="1.25" fill="#555" opacity="0.41"/><circle cx="167.90" cy="639.93" r="1.25" fill="#555" opacity="0.31"/><circle cx="167.90" cy="641.46" r="1.25" fill="#555" opacity="0.25"/><circle cx="167.90" cy="615.53" r="1.25" fill="#555" opacity="0.35"/><circle cx="167.90" cy="637.70" r="1.25" fill="#555" opacity="0.20"/><circle cx="167.90" cy="649.98" r="1.25" fill="#555" opacity="0.85"/><circle cx="167.90" cy="632.44" r="1.25" fill="#555" opacity="0.23"/><circle cx="167.90" cy="650.18" r="1.25" fill="#555" opacity="0.85"/><circle cx="167.90" cy="606.21" r="1.25" fill="#555" opacity="0.23"/><circle cx="167.90" cy="649.74" r="1.25" fill="#555" opacity="0.85"/><circle cx="167.90" cy="641.41" r="1.25" fill="#555" opacity="0.27"/><circle cx="167.90" cy="648.29" r="1.25" fill="#555" opacity="0.85"/><circle cx="167.90" cy="648.88" r="1.25" fill="#555" opacity="0.85"/><circle cx="167.90" cy="629.80" r="1.25" fill="#555" opacity="0.26"/><circle cx="167.90" cy="629.65" r="1.25" fill="#555" opacity="0.20"/><circle cx="167.90" cy="629.99" r="1.25" fill="#555" opacity="0.42"/><circle cx="167.90" cy="642.22" r="1.25" fill="#555" opacity="0.42"/><circle cx="167.90" cy="605.07" r="1.25" fill="#555" opacity="0.31"/><circle cx="167.90" cy="650.22" r="1.25" fill="#555" opacity="0.85"/><circle cx="167.90" cy="618.10" r="1.25" fill="#555" opacity="0.27"/><circle cx="167.90" cy="642.34" r="1.25" fill="#555" opacity="0.27"/><circle cx="167.90" cy="606.72" r="1.25" fill="#555" opacity="0.24"/><circle cx="167.90" cy="621.66" r="1.25" fill="#555" opacity="0.36"/><circle cx="167.90" cy="630.36" r="1.25" fill="#555" opacity="0.40"/></g>
<line x1="167.90" y1="650.30" x2="167.90" y2="630.85" stroke="#111" stroke-width="2.4" stroke-linecap="round"/>
<line x1="167.90" y1="654.50" x2="167.90" y2="650.30" stroke="#444" stroke-width="1"/>
<line x1="167.90" y1="682.00" x2="167.90" y2="713.80" stroke="#444" stroke-width="1"/>
<line x1="161.20" y1="650.30" x2="174.60" y2="650.30" stroke="#333" stroke-width="1.1"/>
<line x1="161.20" y1="713.80" x2="174.60" y2="713.80" stroke="#333" stroke-width="1.1"/>
<rect x="155.00" y="654.50" width="25.80" height="27.50" fill="#fff" stroke="#111" stroke-width="1.5"/>
<line x1="155.00" y1="665.00" x2="180.80" y2="665.00" stroke="#111" stroke-width="1.5"/>
<circle cx="212.90" cy="639.80" r="1.3" fill="#888" opacity="0.69"/><circle cx="212.90" cy="636.77" r="1.3" fill="#888" opacity="0.60"/><circle cx="212.90" cy="632.98" r="1.3" fill="#888" opacity="0.43"/><circle cx="212.90" cy="630.97" r="1.3" fill="#888" opacity="0.56"/><circle cx="212.90" cy="628.84" r="1.3" fill="#888" opacity="0.48"/><circle cx="212.90" cy="624.64" r="1.3" fill="#888" opacity="0.66"/><circle cx="212.90" cy="622.52" r="1.3" fill="#888" opacity="0.38"/><circle cx="212.90" cy="620.12" r="1.3" fill="#888" opacity="0.64"/><circle cx="212.90" cy="618.25" r="1.3" fill="#888" opacity="0.43"/><circle cx="212.90" cy="616.16" r="1.3" fill="#888" opacity="0.39"/><circle cx="212.90" cy="612.95" r="1.3" fill="#888" opacity="0.41"/><circle cx="212.90" cy="610.05" r="1.3" fill="#888" opacity="0.61"/><circle cx="212.90" cy="606.29" r="1.3" fill="#888" opacity="0.50"/><circle cx="212.90" cy="602.37" r="1.3" fill="#888" opacity="0.55"/><circle cx="212.90" cy="598.34" r="1.3" fill="#888" opacity="0.44"/>
<line x1="212.90" y1="671.20" x2="212.90" y2="642.80" stroke="#444" stroke-width="1"/>
<line x1="212.90" y1="696.70" x2="212.90" y2="764.70" stroke="#444" stroke-width="1"/>
<line x1="206.20" y1="642.80" x2="219.60" y2="642.80" stroke="#333" stroke-width="1.1"/>
<line x1="206.20" y1="764.70" x2="219.60" y2="764.70" stroke="#333" stroke-width="1.1"/>
<rect x="200.00" y="671.20" width="25.80" height="25.50" fill="#fff" stroke="#111" stroke-width="1.5"/>
<line x1="200.00" y1="677.80" x2="225.80" y2="677.80" stroke="#111" stroke-width="1.5"/>
<g><circle cx="258.00" cy="637.32" r="1.25" fill="#555" opacity="0.39"/><circle cx="258.00" cy="660.96" r="1.25" fill="#555" opacity="0.85"/><circle cx="258.00" cy="649.14" r="1.25" fill="#555" opacity="0.37"/><circle cx="258.00" cy="661.48" r="1.25" fill="#555" opacity="0.85"/><circle cx="258.00" cy="661.75" r="1.25" fill="#555" opacity="0.85"/><circle cx="258.00" cy="659.65" r="1.25" fill="#555" opacity="0.85"/><circle cx="258.00" cy="642.51" r="1.25" fill="#555" opacity="0.32"/><circle cx="258.00" cy="659.76" r="1.25" fill="#555" opacity="0.85"/><circle cx="258.00" cy="652.29" r="1.25" fill="#555" opacity="0.28"/><circle cx="258.00" cy="655.14" r="1.25" fill="#555" opacity="0.24"/><circle cx="258.00" cy="654.20" r="1.25" fill="#555" opacity="0.20"/><circle cx="258.00" cy="645.39" r="1.25" fill="#555" opacity="0.38"/><circle cx="258.00" cy="658.10" r="1.25" fill="#555" opacity="0.85"/><circle cx="258.00" cy="659.32" r="1.25" fill="#555" opacity="0.85"/><circle cx="258.00" cy="661.22" r="1.25" fill="#555" opacity="0.85"/><circle cx="258.00" cy="661.98" r="1.25" fill="#555" opacity="0.85"/><circle cx="258.00" cy="645.22" r="1.25" fill="#555" opacity="0.31"/><circle cx="258.00" cy="639.86" r="1.25" fill="#555" opacity="0.42"/><circle cx="258.00" cy="655.52" r="1.25" fill="#555" opacity="0.19"/><circle cx="258.00" cy="661.61" r="1.25" fill="#555" opacity="0.85"/><circle cx="258.00" cy="652.40" r="1.25" fill="#555" opacity="0.20"/><circle cx="258.00" cy="662.00" r="1.25" fill="#555" opacity="0.85"/><circle cx="258.00" cy="660.79" r="1.25" fill="#555" opacity="0.85"/><circle cx="258.00" cy="652.53" r="1.25" fill="#555" opacity="0.35"/><circle cx="258.00" cy="654.83" r="1.25" fill="#555" opacity="0.31"/><circle cx="258.00" cy="659.94" r="1.25" fill="#555" opacity="0.85"/><circle cx="258.00" cy="649.92" r="1.25" fill="#555" opacity="0.39"/><circle cx="258.00" cy="643.62" r="1.25" fill="#555" opacity="0.30"/><circle cx="258.00" cy="648.34" r="1.25" fill="#555" opacity="0.32"/><circle cx="258.00" cy="639.69" r="1.25" fill="#555" opacity="0.23"/><circle cx="258.00" cy="657.29" r="1.25" fill="#555" opacity="0.85"/><circle cx="258.00" cy="653.91" r="1.25" fill="#555" opacity="0.32"/><circle cx="258.00" cy="652.83" r="1.25" fill="#555" opacity="0.25"/><circle cx="258.00" cy="637.37" r="1.25" fill="#555" opacity="0.33"/><circle cx="258.00" cy="662.00" r="1.25" fill="#555" opacity="0.85"/><circle cx="258.00" cy="661.12" r="1.25" fill="#555" opacity="0.85"/><circle cx="258.00" cy="659.63" r="1.25" fill="#555" opacity="0.85"/><circle cx="258.00" cy="661.88" r="1.25" fill="#555" opacity="0.85"/><circle cx="258.00" cy="660.93" r="1.25" fill="#555" opacity="0.85"/><circle cx="258.00" cy="645.53" r="1.25" fill="#555" opacity="0.20"/><circle cx="258.00" cy="661.95" r="1.25" fill="#555" opacity="0.85"/><circle cx="258.00" cy="660.94" r="1.25" fill="#555" opacity="0.85"/><circle cx="258.00" cy="660.85" r="1.25" fill="#555" opacity="0.85"/><circle cx="258.00" cy="656.43" r="1.25" fill="#555" opacity="0.20"/><circle cx="258.00" cy="654.38" r="1.25" fill="#555" opacity="0.27"/><circle cx="258.00" cy="638.03" r="1.25" fill="#555" opacity="0.30"/><circle cx="258.00" cy="661.06" r="1.25" fill="#555" opacity="0.85"/><circle cx="258.00" cy="646.64" r="1.25" fill="#555" opacity="0.33"/><circle cx="258.00" cy="640.66" r="1.25" fill="#555" opacity="0.21"/><circle cx="258.00" cy="646.54" r="1.25" fill="#555" opacity="0.40"/></g>
<line x1="258.00" y1="662.00" x2="258.00" y2="645.80" stroke="#111" stroke-width="2.4" stroke-linecap="round"/>
<line x1="258.00" y1="664.50" x2="258.00" y2="662.00" stroke="#444" stroke-width="1"/>
<line x1="258.00" y1="687.50" x2="258.00" y2="699.00" stroke="#444" stroke-width="1"/>
<line x1="251.30" y1="662.00" x2="264.70" y2="662.00" stroke="#333" stroke-width="1.1"/>
<line x1="251.30" y1="699.00" x2="264.70" y2="699.00" stroke="#333" stroke-width="1.1"/>
<rect x="245.10" y="664.50" width="25.80" height="23.00" fill="#fff" stroke="#111" stroke-width="1.5"/>
<line x1="245.10" y1="673.50" x2="270.90" y2="673.50" stroke="#111" stroke-width="1.5"/>
<g><circle cx="303.50" cy="615.94" r="1.25" fill="#555" opacity="0.26"/><circle cx="303.50" cy="608.96" r="1.25" fill="#555" opacity="0.25"/><circle cx="303.50" cy="647.68" r="1.25" fill="#555" opacity="0.85"/><circle cx="303.50" cy="647.28" r="1.25" fill="#555" opacity="0.85"/><circle cx="303.50" cy="651.29" r="1.25" fill="#555" opacity="0.85"/><circle cx="303.50" cy="647.20" r="1.25" fill="#555" opacity="0.85"/><circle cx="303.50" cy="644.50" r="1.25" fill="#555" opacity="0.27"/><circle cx="303.50" cy="615.67" r="1.25" fill="#555" opacity="0.40"/><circle cx="303.50" cy="605.27" r="1.25" fill="#555" opacity="0.33"/><circle cx="303.50" cy="621.25" r="1.25" fill="#555" opacity="0.31"/><circle cx="303.50" cy="611.14" r="1.25" fill="#555" opacity="0.42"/><circle cx="303.50" cy="651.58" r="1.25" fill="#555" opacity="0.85"/><circle cx="303.50" cy="625.35" r="1.25" fill="#555" opacity="0.39"/><circle cx="303.50" cy="606.52" r="1.25" fill="#555" opacity="0.36"/><circle cx="303.50" cy="640.02" r="1.25" fill="#555" opacity="0.30"/><circle cx="303.50" cy="634.86" r="1.25" fill="#555" opacity="0.38"/><circle cx="303.50" cy="636.96" r="1.25" fill="#555" opacity="0.41"/><circle cx="303.50" cy="610.97" r="1.25" fill="#555" opacity="0.35"/><circle cx="303.50" cy="644.92" r="1.25" fill="#555" opacity="0.25"/><circle cx="303.50" cy="651.49" r="1.25" fill="#555" opacity="0.85"/><circle cx="303.50" cy="642.40" r="1.25" fill="#555" opacity="0.37"/><circle cx="303.50" cy="607.36" r="1.25" fill="#555" opacity="0.32"/><circle cx="303.50" cy="650.74" r="1.25" fill="#555" opacity="0.85"/><circle cx="303.50" cy="616.83" r="1.25" fill="#555" opacity="0.26"/><circle cx="303.50" cy="643.67" r="1.25" fill="#555" opacity="0.32"/><circle cx="303.50" cy="632.94" r="1.25" fill="#555" opacity="0.20"/><circle cx="303.50" cy="647.06" r="1.25" fill="#555" opacity="0.85"/><circle cx="303.50" cy="649.36" r="1.25" fill="#555" opacity="0.85"/><circle cx="303.50" cy="611.81" r="1.25" fill="#555" opacity="0.28"/><circle cx="303.50" cy="622.93" r="1.25" fill="#555" opacity="0.40"/><circle cx="303.50" cy="651.06" r="1.25" fill="#555" opacity="0.85"/><circle cx="303.50" cy="647.53" r="1.25" fill="#555" opacity="0.85"/><circle cx="303.50" cy="651.95" r="1.25" fill="#555" opacity="0.85"/><circle cx="303.50" cy="650.01" r="1.25" fill="#555" opacity="0.85"/><circle cx="303.50" cy="646.81" r="1.25" fill="#555" opacity="0.35"/><circle cx="303.50" cy="650.43" r="1.25" fill="#555" opacity="0.85"/><circle cx="303.50" cy="649.31" r="1.25" fill="#555" opacity="0.85"/><circle cx="303.50" cy="642.13" r="1.25" fill="#555" opacity="0.34"/><circle cx="303.50" cy="639.88" r="1.25" fill="#555" opacity="0.29"/><circle cx="303.50" cy="651.08" r="1.25" fill="#555" opacity="0.85"/><circle cx="303.50" cy="625.69" r="1.25" fill="#555" opacity="0.32"/><circle cx="303.50" cy="626.75" r="1.25" fill="#555" opacity="0.38"/><circle cx="303.50" cy="626.47" r="1.25" fill="#555" opacity="0.34"/><circle cx="303.50" cy="646.86" r="1.25" fill="#555" opacity="0.23"/><circle cx="303.50" cy="647.55" r="1.25" fill="#555" opacity="0.85"/><circle cx="303.50" cy="650.07" r="1.25" fill="#555" opacity="0.85"/><circle cx="303.50" cy="651.78" r="1.25" fill="#555" opacity="0.85"/><circle cx="303.50" cy="624.39" r="1.25" fill="#555" opacity="0.38"/><circle cx="303.50" cy="651.97" r="1.25" fill="#555" opacity="0.85"/><circle cx="303.50" cy="638.46" r="1.25" fill="#555" opacity="0.26"/><circle cx="303.50" cy="631.30" r="1.25" fill="#555" opacity="0.26"/><circle cx="303.50" cy="644.01" r="1.25" fill="#555" opacity="0.29"/><circle cx="303.50" cy="642.66" r="1.25" fill="#555" opacity="0.19"/><circle cx="303.50" cy="648.55" r="1.25" fill="#555" opacity="0.85"/><circle cx="303.50" cy="650.95" r="1.25" fill="#555" opacity="0.85"/><circle cx="303.50" cy="651.86" r="1.25" fill="#555" opacity="0.85"/><circle cx="303.50" cy="650.44" r="1.25" fill="#555" opacity="0.85"/><circle cx="303.50" cy="631.28" r="1.25" fill="#555" opacity="0.35"/><circle cx="303.50" cy="643.66" r="1.25" fill="#555" opacity="0.36"/><circle cx="303.50" cy="643.73" r="1.25" fill="#555" opacity="0.20"/><circle cx="303.50" cy="609.31" r="1.25" fill="#555" opacity="0.39"/><circle cx="303.50" cy="647.16" r="1.25" fill="#555" opacity="0.85"/><circle cx="303.50" cy="637.77" r="1.25" fill="#555" opacity="0.29"/><circle cx="303.50" cy="638.41" r="1.25" fill="#555" opacity="0.20"/><circle cx="303.50" cy="630.20" r="1.25" fill="#555" opacity="0.20"/><circle cx="303.50" cy="606.30" r="1.25" fill="#555" opacity="0.34"/><circle cx="303.50" cy="642.54" r="1.25" fill="#555" opacity="0.28"/><circle cx="303.50" cy="649.06" r="1.25" fill="#555" opacity="0.85"/><circle cx="303.50" cy="651.73" r="1.25" fill="#555" opacity="0.85"/><circle cx="303.50" cy="632.59" r="1.25" fill="#555" opacity="0.35"/></g>
<line x1="303.50" y1="652.00" x2="303.50" y2="635.20" stroke="#111" stroke-width="2.4" stroke-linecap="round"/>
<line x1="303.50" y1="654.50" x2="303.50" y2="652.00" stroke="#444" stroke-width="1"/>
<line x1="303.50" y1="675.50" x2="303.50" y2="693.00" stroke="#444" stroke-width="1"/>
<line x1="296.80" y1="652.00" x2="310.20" y2="652.00" stroke="#333" stroke-width="1.1"/>
<line x1="296.80" y1="693.00" x2="310.20" y2="693.00" stroke="#333" stroke-width="1.1"/>
<rect x="290.60" y="654.50" width="25.80" height="21.00" fill="#fff" stroke="#111" stroke-width="1.5"/>
<line x1="290.60" y1="662.00" x2="316.40" y2="662.00" stroke="#111" stroke-width="1.5"/>
<circle cx="348.50" cy="639.60" r="1.3" fill="#888" opacity="0.60"/><circle cx="348.50" cy="635.37" r="1.3" fill="#888" opacity="0.36"/><circle cx="348.50" cy="631.02" r="1.3" fill="#888" opacity="0.64"/><circle cx="348.50" cy="629.07" r="1.3" fill="#888" opacity="0.63"/><circle cx="348.50" cy="625.10" r="1.3" fill="#888" opacity="0.42"/><circle cx="348.50" cy="620.68" r="1.3" fill="#888" opacity="0.48"/><circle cx="348.50" cy="617.66" r="1.3" fill="#888" opacity="0.58"/><circle cx="348.50" cy="613.99" r="1.3" fill="#888" opacity="0.61"/><circle cx="348.50" cy="611.44" r="1.3" fill="#888" opacity="0.52"/><circle cx="348.50" cy="609.27" r="1.3" fill="#888" opacity="0.45"/><circle cx="348.50" cy="606.15" r="1.3" fill="#888" opacity="0.38"/><circle cx="348.50" cy="603.41" r="1.3" fill="#888" opacity="0.64"/><circle cx="348.50" cy="601.12" r="1.3" fill="#888" opacity="0.50"/><circle cx="348.50" cy="599.22" r="1.3" fill="#888" opacity="0.61"/>
<line x1="348.50" y1="668.00" x2="348.50" y2="642.60" stroke="#444" stroke-width="1"/>
<line x1="348.50" y1="694.00" x2="348.50" y2="764.50" stroke="#444" stroke-width="1"/>
<line x1="341.80" y1="642.60" x2="355.20" y2="642.60" stroke="#333" stroke-width="1.1"/>
<line x1="341.80" y1="764.50" x2="355.20" y2="764.50" stroke="#333" stroke-width="1.1"/>
<rect x="335.60" y="668.00" width="25.80" height="26.00" fill="#fff" stroke="#111" stroke-width="1.5"/>
<line x1="335.60" y1="676.00" x2="361.40" y2="676.00" stroke="#111" stroke-width="1.5"/>
<g><circle cx="394.00" cy="673.96" r="1.25" fill="#555" opacity="0.85"/><circle cx="394.00" cy="644.01" r="1.25" fill="#555" opacity="0.34"/><circle cx="394.00" cy="672.97" r="1.25" fill="#555" opacity="0.85"/><circle cx="394.00" cy="642.09" r="1.25" fill="#555" opacity="0.36"/><circle cx="394.00" cy="664.83" r="1.25" fill="#555" opacity="0.35"/><circle cx="394.00" cy="673.46" r="1.25" fill="#555" opacity="0.85"/><circle cx="394.00" cy="674.66" r="1.25" fill="#555" opacity="0.85"/><circle cx="394.00" cy="647.48" r="1.25" fill="#555" opacity="0.36"/><circle cx="394.00" cy="671.69" r="1.25" fill="#555" opacity="0.85"/><circle cx="394.00" cy="674.90" r="1.25" fill="#555" opacity="0.85"/><circle cx="394.00" cy="674.96" r="1.25" fill="#555" opacity="0.85"/><circle cx="394.00" cy="674.01" r="1.25" fill="#555" opacity="0.85"/><circle cx="394.00" cy="651.72" r="1.25" fill="#555" opacity="0.24"/><circle cx="394.00" cy="671.04" r="1.25" fill="#555" opacity="0.25"/><circle cx="394.00" cy="656.17" r="1.25" fill="#555" opacity="0.38"/><circle cx="394.00" cy="649.65" r="1.25" fill="#555" opacity="0.35"/><circle cx="394.00" cy="674.13" r="1.25" fill="#555" opacity="0.85"/><circle cx="394.00" cy="664.24" r="1.25" fill="#555" opacity="0.37"/><circle cx="394.00" cy="655.12" r="1.25" fill="#555" opacity="0.41"/><circle cx="394.00" cy="661.04" r="1.25" fill="#555" opacity="0.37"/><circle cx="394.00" cy="655.11" r="1.25" fill="#555" opacity="0.39"/><circle cx="394.00" cy="672.32" r="1.25" fill="#555" opacity="0.85"/><circle cx="394.00" cy="664.11" r="1.25" fill="#555" opacity="0.32"/><circle cx="394.00" cy="671.30" r="1.25" fill="#555" opacity="0.36"/><circle cx="394.00" cy="646.50" r="1.25" fill="#555" opacity="0.41"/><circle cx="394.00" cy="671.03" r="1.25" fill="#555" opacity="0.36"/><circle cx="394.00" cy="663.88" r="1.25" fill="#555" opacity="0.24"/><circle cx="394.00" cy="651.40" r="1.25" fill="#555" opacity="0.34"/><circle cx="394.00" cy="647.75" r="1.25" fill="#555" opacity="0.40"/><circle cx="394.00" cy="647.90" r="1.25" fill="#555" opacity="0.40"/><circle cx="394.00" cy="670.69" r="1.25" fill="#555" opacity="0.28"/><circle cx="394.00" cy="656.83" r="1.25" fill="#555" opacity="0.41"/><circle cx="394.00" cy="670.29" r="1.25" fill="#555" opacity="0.20"/><circle cx="394.00" cy="675.41" r="1.25" fill="#555" opacity="0.85"/><circle cx="394.00" cy="675.50" r="1.25" fill="#555" opacity="0.85"/><circle cx="394.00" cy="673.05" r="1.25" fill="#555" opacity="0.85"/><circle cx="394.00" cy="674.95" r="1.25" fill="#555" opacity="0.85"/><circle cx="394.00" cy="649.02" r="1.25" fill="#555" opacity="0.40"/><circle cx="394.00" cy="666.90" r="1.25" fill="#555" opacity="0.26"/><circle cx="394.00" cy="673.43" r="1.25" fill="#555" opacity="0.85"/><circle cx="394.00" cy="643.70" r="1.25" fill="#555" opacity="0.39"/><circle cx="394.00" cy="675.00" r="1.25" fill="#555" opacity="0.85"/><circle cx="394.00" cy="675.43" r="1.25" fill="#555" opacity="0.85"/><circle cx="394.00" cy="675.40" r="1.25" fill="#555" opacity="0.85"/><circle cx="394.00" cy="674.91" r="1.25" fill="#555" opacity="0.85"/><circle cx="394.00" cy="648.11" r="1.25" fill="#555" opacity="0.28"/><circle cx="394.00" cy="656.00" r="1.25" fill="#555" opacity="0.22"/><circle cx="394.00" cy="650.34" r="1.25" fill="#555" opacity="0.24"/><circle cx="394.00" cy="673.04" r="1.25" fill="#555" opacity="0.85"/><circle cx="394.00" cy="669.46" r="1.25" fill="#555" opacity="0.21"/></g>
<line x1="394.00" y1="675.50" x2="394.00" y2="662.10" stroke="#111" stroke-width="2.4" stroke-linecap="round"/>
<line x1="394.00" y1="680.00" x2="394.00" y2="675.50" stroke="#444" stroke-width="1"/>
<line x1="394.00" y1="697.00" x2="394.00" y2="704.40" stroke="#444" stroke-width="1"/>
<line x1="387.30" y1="675.50" x2="400.70" y2="675.50" stroke="#333" stroke-width="1.1"/>
<line x1="387.30" y1="704.40" x2="400.70" y2="704.40" stroke="#333" stroke-width="1.1"/>
<rect x="381.10" y="680.00" width="25.80" height="17.00" fill="#fff" stroke="#111" stroke-width="1.5"/>
<line x1="381.10" y1="687.00" x2="406.90" y2="687.00" stroke="#111" stroke-width="1.5"/>
<g><circle cx="439.00" cy="661.34" r="1.25" fill="#555" opacity="0.85"/><circle cx="439.00" cy="618.17" r="1.25" fill="#555" opacity="0.27"/><circle cx="439.00" cy="660.39" r="1.25" fill="#555" opacity="0.85"/><circle cx="439.00" cy="660.03" r="1.25" fill="#555" opacity="0.85"/><circle cx="439.00" cy="621.03" r="1.25" fill="#555" opacity="0.23"/><circle cx="439.00" cy="612.80" r="1.25" fill="#555" opacity="0.40"/><circle cx="439.00" cy="657.18" r="1.25" fill="#555" opacity="0.42"/><circle cx="439.00" cy="641.18" r="1.25" fill="#555" opacity="0.35"/><circle cx="439.00" cy="661.90" r="1.25" fill="#555" opacity="0.85"/><circle cx="439.00" cy="625.16" r="1.25" fill="#555" opacity="0.29"/><circle cx="439.00" cy="633.61" r="1.25" fill="#555" opacity="0.42"/><circle cx="439.00" cy="660.29" r="1.25" fill="#555" opacity="0.85"/><circle cx="439.00" cy="649.93" r="1.25" fill="#555" opacity="0.42"/><circle cx="439.00" cy="650.25" r="1.25" fill="#555" opacity="0.40"/><circle cx="439.00" cy="661.53" r="1.25" fill="#555" opacity="0.85"/><circle cx="439.00" cy="610.58" r="1.25" fill="#555" opacity="0.24"/><circle cx="439.00" cy="641.08" r="1.25" fill="#555" opacity="0.26"/><circle cx="439.00" cy="660.63" r="1.25" fill="#555" opacity="0.85"/><circle cx="439.00" cy="646.32" r="1.25" fill="#555" opacity="0.19"/><circle cx="439.00" cy="627.44" r="1.25" fill="#555" opacity="0.38"/><circle cx="439.00" cy="647.58" r="1.25" fill="#555" opacity="0.22"/><circle cx="439.00" cy="642.13" r="1.25" fill="#555" opacity="0.39"/><circle cx="439.00" cy="659.19" r="1.25" fill="#555" opacity="0.85"/><circle cx="439.00" cy="612.93" r="1.25" fill="#555" opacity="0.33"/><circle cx="439.00" cy="632.21" r="1.25" fill="#555" opacity="0.29"/><circle cx="439.00" cy="628.21" r="1.25" fill="#555" opacity="0.36"/><circle cx="439.00" cy="658.12" r="1.25" fill="#555" opacity="0.27"/><circle cx="439.00" cy="660.57" r="1.25" fill="#555" opacity="0.85"/><circle cx="439.00" cy="645.82" r="1.25" fill="#555" opacity="0.41"/><circle cx="439.00" cy="654.10" r="1.25" fill="#555" opacity="0.19"/><circle cx="439.00" cy="657.36" r="1.25" fill="#555" opacity="0.25"/><circle cx="439.00" cy="617.95" r="1.25" fill="#555" opacity="0.21"/><circle cx="439.00" cy="660.01" r="1.25" fill="#555" opacity="0.85"/><circle cx="439.00" cy="648.59" r="1.25" fill="#555" opacity="0.20"/><circle cx="439.00" cy="649.30" r="1.25" fill="#555" opacity="0.21"/><circle cx="439.00" cy="655.40" r="1.25" fill="#555" opacity="0.41"/><circle cx="439.00" cy="605.11" r="1.25" fill="#555" opacity="0.27"/><circle cx="439.00" cy="661.62" r="1.25" fill="#555" opacity="0.85"/><circle cx="439.00" cy="660.95" r="1.25" fill="#555" opacity="0.85"/><circle cx="439.00" cy="641.46" r="1.25" fill="#555" opacity="0.19"/><circle cx="439.00" cy="650.82" r="1.25" fill="#555" opacity="0.34"/><circle cx="439.00" cy="661.53" r="1.25" fill="#555" opacity="0.85"/><circle cx="439.00" cy="640.66" r="1.25" fill="#555" opacity="0.20"/><circle cx="439.00" cy="634.51" r="1.25" fill="#555" opacity="0.23"/><circle cx="439.00" cy="654.14" r="1.25" fill="#555" opacity="0.33"/><circle cx="439.00" cy="661.47" r="1.25" fill="#555" opacity="0.85"/><circle cx="439.00" cy="646.40" r="1.25" fill="#555" opacity="0.22"/><circle cx="439.00" cy="641.01" r="1.25" fill="#555" opacity="0.36"/><circle cx="439.00" cy="661.82" r="1.25" fill="#555" opacity="0.85"/><circle cx="439.00" cy="605.62" r="1.25" fill="#555" opacity="0.31"/><circle cx="439.00" cy="655.11" r="1.25" fill="#555" opacity="0.22"/><circle cx="439.00" cy="658.54" r="1.25" fill="#555" opacity="0.85"/><circle cx="439.00" cy="631.51" r="1.25" fill="#555" opacity="0.19"/><circle cx="439.00" cy="627.24" r="1.25" fill="#555" opacity="0.19"/><circle cx="439.00" cy="661.96" r="1.25" fill="#555" opacity="0.85"/><circle cx="439.00" cy="608.31" r="1.25" fill="#555" opacity="0.35"/><circle cx="439.00" cy="660.36" r="1.25" fill="#555" opacity="0.85"/><circle cx="439.00" cy="604.96" r="1.25" fill="#555" opacity="0.38"/><circle cx="439.00" cy="657.98" r="1.25" fill="#555" opacity="0.41"/><circle cx="439.00" cy="653.85" r="1.25" fill="#555" opacity="0.24"/></g>
<line x1="439.00" y1="662.00" x2="439.00" y2="649.24" stroke="#111" stroke-width="2.4" stroke-linecap="round"/>
<line x1="439.00" y1="667.60" x2="439.00" y2="662.00" stroke="#444" stroke-width="1"/>
<line x1="439.00" y1="685.00" x2="439.00" y2="704.40" stroke="#444" stroke-width="1"/>
<line x1="432.30" y1="662.00" x2="445.70" y2="662.00" stroke="#333" stroke-width="1.1"/>
<line x1="432.30" y1="704.40" x2="445.70" y2="704.40" stroke="#333" stroke-width="1.1"/>
<rect x="426.10" y="667.60" width="25.80" height="17.40" fill="#fff" stroke="#111" stroke-width="1.5"/>
<line x1="426.10" y1="674.60" x2="451.90" y2="674.60" stroke="#111" stroke-width="1.5"/>
<circle cx="484.00" cy="640.00" r="1.3" fill="#888" opacity="0.45"/><circle cx="484.00" cy="636.96" r="1.3" fill="#888" opacity="0.54"/><circle cx="484.00" cy="634.89" r="1.3" fill="#888" opacity="0.53"/><circle cx="484.00" cy="630.50" r="1.3" fill="#888" opacity="0.55"/><circle cx="484.00" cy="627.30" r="1.3" fill="#888" opacity="0.63"/><circle cx="484.00" cy="624.29" r="1.3" fill="#888" opacity="0.45"/><circle cx="484.00" cy="620.22" r="1.3" fill="#888" opacity="0.41"/><circle cx="484.00" cy="616.02" r="1.3" fill="#888" opacity="0.66"/><circle cx="484.00" cy="612.74" r="1.3" fill="#888" opacity="0.53"/><circle cx="484.00" cy="610.76" r="1.3" fill="#888" opacity="0.41"/><circle cx="484.00" cy="606.88" r="1.3" fill="#888" opacity="0.61"/><circle cx="484.00" cy="603.40" r="1.3" fill="#888" opacity="0.40"/><circle cx="484.00" cy="599.64" r="1.3" fill="#888" opacity="0.70"/>
<line x1="484.00" y1="678.50" x2="484.00" y2="643.00" stroke="#444" stroke-width="1"/>
<line x1="484.00" y1="696.50" x2="484.00" y2="765.00" stroke="#444" stroke-width="1"/>
<line x1="477.30" y1="643.00" x2="490.70" y2="643.00" stroke="#333" stroke-width="1.1"/>
<line x1="477.30" y1="765.00" x2="490.70" y2="765.00" stroke="#333" stroke-width="1.1"/>
<rect x="471.10" y="678.50" width="25.80" height="18.00" fill="#fff" stroke="#111" stroke-width="1.5"/>
<line x1="471.10" y1="678.50" x2="496.90" y2="678.50" stroke="#111" stroke-width="1.5"/>
<circle cx="258" cy="701" r="1.3" fill="#333" opacity="0.8"/>
<circle cx="258" cy="702.5" r="1.3" fill="#333" opacity="0.8"/>
<circle cx="303.5" cy="695.5" r="1.3" fill="#333" opacity="0.8"/>
<circle cx="303.5" cy="708" r="1.3" fill="#333" opacity="0.8"/>
<rect x="100.50" y="544.30" width="406.90" height="234.50" fill="none" stroke="#333" stroke-width="1.1"/>
<line x1="235.70" y1="544.30" x2="235.70" y2="778.80" stroke="#333" stroke-width="1.1"/>
<line x1="371.00" y1="544.30" x2="371.00" y2="778.80" stroke="#333" stroke-width="1.1"/>
<line x1="122.60" y1="778.80" x2="122.60" y2="782.80" stroke="#333" stroke-width="1"/>
<text x="122.60" y="803.50" font-size="15" text-anchor="middle">I</text>
<line x1="167.90" y1="778.80" x2="167.90" y2="782.80" stroke="#333" stroke-width="1"/>
<text x="167.90" y="803.50" font-size="15" text-anchor="middle">II</text>
<line x1="212.90" y1="778.80" x2="212.90" y2="782.80" stroke="#333" stroke-width="1"/>
<text x="212.90" y="803.50" font-size="15" text-anchor="middle" textLength="23.40" lengthAdjust="spacingAndGlyphs">out</text>
<line x1="258.00" y1="778.80" x2="258.00" y2="782.80" stroke="#333" stroke-width="1"/>
<text x="258.00" y="803.50" font-size="15" text-anchor="middle">I</text>
<line x1="303.50" y1="778.80" x2="303.50" y2="782.80" stroke="#333" stroke-width="1"/>
<text x="303.50" y="803.50" font-size="15" text-anchor="middle">II</text>
<line x1="348.50" y1="778.80" x2="348.50" y2="782.80" stroke="#333" stroke-width="1"/>
<text x="348.50" y="803.50" font-size="15" text-anchor="middle" textLength="23.40" lengthAdjust="spacingAndGlyphs">out</text>
<line x1="394.00" y1="778.80" x2="394.00" y2="782.80" stroke="#333" stroke-width="1"/>
<text x="394.00" y="803.50" font-size="15" text-anchor="middle">I</text>
<line x1="439.00" y1="778.80" x2="439.00" y2="782.80" stroke="#333" stroke-width="1"/>
<text x="439.00" y="803.50" font-size="15" text-anchor="middle">II</text>
<line x1="484.00" y1="778.80" x2="484.00" y2="782.80" stroke="#333" stroke-width="1"/>
<text x="484.00" y="803.50" font-size="15" text-anchor="middle" textLength="23.40" lengthAdjust="spacingAndGlyphs">out</text>
<text x="54.90" y="803.30" font-size="14" textLength="57.00" lengthAdjust="spacingAndGlyphs">Cluster:</text>
<text x="139.60" y="561.70" font-size="13" textLength="54.00" lengthAdjust="spacingAndGlyphs"><tspan font-style="italic">P</tspan> = 0.149</text>
<line x1="122.00" y1="565.40" x2="213.30" y2="565.40" stroke="#222" stroke-width="1"/>
<text x="105.00" y="580.30" font-size="13" textLength="65.00" lengthAdjust="spacingAndGlyphs"><tspan font-style="italic">P</tspan> &lt; 1.0 × 10</text>
<text x="170.30" y="572.10" font-size="8.2" textLength="12.90" lengthAdjust="spacingAndGlyphs" fill="#777">−99</text>
<line x1="122.00" y1="581.40" x2="168.70" y2="581.40" stroke="#222" stroke-width="1"/>
<text x="156.70" y="593.70" font-size="13" textLength="63.30" lengthAdjust="spacingAndGlyphs"><tspan font-style="italic">P</tspan> = 3.1 × 10</text>
<text x="220.30" y="585.50" font-size="8.2" textLength="12.90" lengthAdjust="spacingAndGlyphs" fill="#777">−70</text>
<line x1="167.30" y1="597.30" x2="213.30" y2="597.30" stroke="#222" stroke-width="1"/>
<text x="273.50" y="557.50" font-size="13" textLength="57.50" lengthAdjust="spacingAndGlyphs"><tspan font-style="italic">P</tspan> = 0.036</text>
<line x1="258.00" y1="560.00" x2="348.50" y2="560.00" stroke="#222" stroke-width="1"/>
<text x="244.60" y="576.50" font-size="13" textLength="66.00" lengthAdjust="spacingAndGlyphs"><tspan font-style="italic">P</tspan> &lt; 1.0 × 10</text>
<text x="310.90" y="568.30" font-size="8.2" textLength="12.90" lengthAdjust="spacingAndGlyphs" fill="#777">−99</text>
<line x1="258.00" y1="577.50" x2="303.50" y2="577.50" stroke="#222" stroke-width="1"/>
<text x="284.70" y="592.00" font-size="13" textLength="65.00" lengthAdjust="spacingAndGlyphs"><tspan font-style="italic">P</tspan> &lt; 1.0 × 10</text>
<text x="350.00" y="583.80" font-size="8.2" textLength="12.90" lengthAdjust="spacingAndGlyphs" fill="#777">−99</text>
<line x1="303.50" y1="593.50" x2="348.50" y2="593.50" stroke="#222" stroke-width="1"/>
<text x="398.00" y="559.50" font-size="13" textLength="70.00" lengthAdjust="spacingAndGlyphs"><tspan font-style="italic">P</tspan> = 1.54 × 10</text>
<text x="468.30" y="551.30" font-size="8.2" textLength="8.60" lengthAdjust="spacingAndGlyphs" fill="#777">−7</text>
<line x1="394.00" y1="560.00" x2="484.00" y2="560.00" stroke="#222" stroke-width="1"/>
<text x="372.60" y="576.50" font-size="13" textLength="66.00" lengthAdjust="spacingAndGlyphs"><tspan font-style="italic">P</tspan> &lt; 1.0 × 10</text>
<text x="438.90" y="568.30" font-size="8.2" textLength="12.90" lengthAdjust="spacingAndGlyphs" fill="#777">−99</text>
<line x1="394.00" y1="577.50" x2="439.00" y2="577.50" stroke="#222" stroke-width="1"/>
<text x="420.00" y="592.00" font-size="13" textLength="73.00" lengthAdjust="spacingAndGlyphs"><tspan font-style="italic">P</tspan> = 4.31 × 10</text>
<text x="493.30" y="583.80" font-size="8.2" textLength="12.90" lengthAdjust="spacingAndGlyphs" fill="#777">−12</text>
<line x1="439.00" y1="593.50" x2="484.00" y2="593.50" stroke="#222" stroke-width="1"/>
<text x="575.00" y="532.00" font-size="27" textLength="18.50" lengthAdjust="spacingAndGlyphs" font-weight="bold" fill="#000">e</text>
<line x1="638.00" y1="633.40" x2="1190.00" y2="633.40" stroke="#444" stroke-width="1.3"/>
<path d="" stroke="#8a8a8a" stroke-width="0.9" fill="none"/>
<path d="M788.80,633.40V616.90M789.20,633.40V616.90M789.70,633.40V631.90M790.06,633.40V631.90M790.69,633.40V631.90M791.08,633.40V630.20M791.68,633.40V630.80M792.38,633.40V628.10M792.87,633.40V631.36M793.48,633.40V629.71M793.96,633.40V630.28M794.59,633.40V629.51M795.28,633.40V632.14M795.66,633.40V630.82M796.03,633.40V631.60M796.59,633.40V628.63M797.27,633.40V630.48M797.94,633.40V629.77M798.27,633.40V630.37M798.66,633.40V630.45M798.98,633.40V630.63M799.50,633.40V630.40M800.06,633.40V630.78M800.74,633.40V631.34M801.26,633.40V629.90M801.83,633.40V630.93M802.24,633.40V627.40M802.89,633.40V630.66M803.46,633.40V629.34M804.00,633.40V631.14M804.47,633.40V624.94M805.14,633.40V627.89M805.63,633.40V630.24M806.04,633.40V621.59M806.52,633.40V629.80M807.08,633.40V626.55M807.44,633.40V626.60M807.95,633.40V627.42M808.43,633.40V631.14M808.96,633.40V625.91M809.65,633.40V624.75M810.14,633.40V628.33M810.77,633.40V631.67M811.10,633.40V622.67M811.74,633.40V629.26M812.16,633.40V630.03M812.49,633.40V625.04M812.80,633.40V620.11M813.11,633.40V627.94M813.54,633.40V628.29M814.07,633.40V620.18M814.65,633.40V629.51M815.15,633.40V621.49M815.57,633.40V622.34M815.94,633.40V628.04M816.55,633.40V630.70M817.15,633.40V631.17M817.83,633.40V623.96M818.53,633.40V626.20M819.09,633.40V630.97M819.48,633.40V623.21M819.97,633.40V631.71M820.61,633.40V625.06M821.17,633.40V626.93M821.82,633.40V617.79M822.12,633.40V627.40M822.76,633.40V609.54M823.13,633.40V625.47M823.52,633.40V623.90M823.94,633.40V615.43M824.44,633.40V619.30M824.85,633.40V622.45M825.55,633.40V627.15M826.13,633.40V625.08M826.44,633.40V617.93M826.87,633.40V620.66M827.38,633.40V629.03M828.02,633.40V626.98M828.42,633.40V631.31M828.93,633.40V617.96M829.45,633.40V628.61M829.97,633.40V631.10M830.42,633.40V624.43M830.86,633.40V622.71M831.16,633.40V630.83M831.79,633.40V620.09M832.38,633.40V629.90M832.78,633.40V624.55M833.46,633.40V631.55M833.96,633.40V625.30M834.27,633.40V625.84M834.88,633.40V628.85M835.55,633.40V627.00M835.85,633.40V625.47M836.16,633.40V631.66M836.59,633.40V631.66M836.92,633.40V631.71M837.51,633.40V630.90M838.05,633.40V622.51M838.46,633.40V631.44M838.95,633.40V631.27M839.59,633.40V630.29M839.91,633.40V631.47M840.37,633.40V630.68M840.79,633.40V631.35M841.32,633.40V630.69M841.65,633.40V630.62M842.33,633.40V631.27M842.68,633.40V631.64M843.04,633.40V631.50M843.67,633.40V629.67M844.03,633.40V631.33M844.54,633.40V632.44M844.87,633.40V631.07M845.34,633.40V630.55M845.95,633.40V630.54" stroke="#222" stroke-width="0.8" fill="none"/>
<path d="M1076.77,633.40V567.43M1101.23,633.40V554.05M1105.74,633.40V619.82M1123.26,633.40V579.03M1134.14,633.40V579.81M1138.69,633.40V588.20M1148.55,633.40V570.83M1157.39,633.40V557.77" stroke="#8a8a8a" stroke-width="0.9" fill="none"/>
<path d="M1069.60,633.40V610.41M1070.22,633.40V614.95M1070.80,633.40V610.08M1071.26,633.40V614.32M1071.82,633.40V595.90M1072.37,633.40V613.69M1072.73,633.40V601.17M1073.14,633.40V591.62M1073.84,633.40V604.41M1074.39,633.40V617.22M1074.79,633.40V592.62M1075.24,633.40V620.23M1075.88,633.40V589.72M1076.22,633.40V587.25M1077.24,633.40V581.41M1077.58,633.40V601.06M1078.13,633.40V610.14M1078.58,633.40V615.78M1079.24,633.40V616.67M1079.92,633.40V592.83M1080.40,633.40V591.61M1081.02,633.40V615.49M1081.62,633.40V613.63M1082.25,633.40V603.20M1082.75,633.40V613.74M1083.09,633.40V609.58M1083.75,633.40V589.78M1084.08,633.40V603.76M1084.53,633.40V617.96M1084.86,633.40V614.37M1085.35,633.40V592.91M1085.96,633.40V600.44M1086.29,633.40V578.26M1086.73,633.40V591.91M1087.08,633.40V602.44M1087.40,633.40V611.98M1088.03,633.40V596.41M1088.54,633.40V589.46M1088.96,633.40V616.73M1089.52,633.40V601.24M1090.07,633.40V613.04M1090.74,633.40V618.10M1091.21,633.40V620.44M1091.82,633.40V613.62M1092.43,633.40V623.16M1092.87,633.40V614.79M1093.28,633.40V623.57M1093.77,633.40V623.02M1094.37,633.40V624.94M1094.74,633.40V593.80M1095.26,633.40V616.54M1095.67,633.40V617.18M1096.11,633.40V613.13M1096.54,633.40V611.78M1097.15,633.40V623.20M1097.52,633.40V603.93M1098.00,633.40V608.94M1098.38,633.40V598.38M1098.80,633.40V619.45M1099.35,633.40V612.64M1099.78,633.40V593.25M1100.30,633.40V564.80M1100.77,633.40V611.88M1101.60,633.40V562.19M1102.29,633.40V610.31M1102.95,633.40V614.86M1103.65,633.40V620.69M1104.17,633.40V629.45M1104.85,633.40V625.45M1105.20,633.40V624.91M1106.08,633.40V620.19M1106.46,633.40V622.92M1106.84,633.40V625.89M1107.54,633.40V618.94M1108.07,633.40V593.02M1108.42,633.40V603.22M1109.09,633.40V601.38M1109.73,633.40V598.94M1110.11,633.40V595.30M1110.49,633.40V568.57M1110.85,633.40V605.60M1111.25,633.40V614.99M1111.58,633.40V614.90M1112.07,633.40V610.40M1112.63,633.40V606.56M1113.25,633.40V598.57M1113.63,633.40V620.88M1114.14,633.40V611.97M1114.53,633.40V615.58M1115.01,633.40V611.27M1115.59,633.40V593.49M1115.99,633.40V603.42M1116.47,633.40V601.92M1116.87,633.40V601.27M1117.44,633.40V622.10M1118.11,633.40V603.78M1118.59,633.40V613.69M1119.12,633.40V619.70M1119.59,633.40V608.65M1120.20,633.40V622.50M1120.68,633.40V602.79M1121.05,633.40V623.06M1121.52,633.40V624.50M1122.20,633.40V621.42M1122.90,633.40V620.98M1123.88,633.40V615.19M1124.43,633.40V621.04M1124.83,633.40V611.94M1125.23,633.40V620.24M1125.71,633.40V620.87M1126.14,633.40V606.42M1126.46,633.40V596.53M1126.76,633.40V598.13M1127.07,633.40V607.28M1127.75,633.40V601.61M1128.33,633.40V615.93M1129.01,633.40V597.35M1129.52,633.40V607.57M1130.18,633.40V615.33M1130.64,633.40V602.02M1130.99,633.40V620.75M1131.36,633.40V602.05M1131.81,633.40V622.21M1132.14,633.40V622.99M1132.63,633.40V619.93M1133.29,633.40V624.76M1133.67,633.40V620.03M1134.73,633.40V609.57M1135.32,633.40V623.81M1135.83,633.40V625.10M1136.38,633.40V606.97M1136.77,633.40V615.13M1137.43,633.40V622.85M1137.96,633.40V616.99M1138.26,633.40V622.70M1139.33,633.40V620.45M1139.63,633.40V613.84M1140.04,633.40V607.67M1140.67,633.40V618.68M1141.12,633.40V619.61M1141.78,633.40V621.84M1142.27,633.40V614.77M1142.77,633.40V599.79M1143.39,633.40V617.64M1143.98,633.40V603.59M1144.29,633.40V619.38M1144.75,633.40V615.90M1145.11,633.40V598.27M1145.74,633.40V606.68M1146.06,633.40V574.69M1146.45,633.40V609.25M1146.84,633.40V609.60M1147.19,633.40V605.83M1147.88,633.40V591.81M1149.21,633.40V593.24M1149.83,633.40V611.58M1150.44,633.40V610.19M1151.03,633.40V621.47M1151.65,633.40V627.91M1152.24,633.40V629.72M1152.59,633.40V624.86M1153.05,633.40V627.93M1153.71,633.40V605.69M1154.34,633.40V621.52M1154.98,633.40V618.73M1155.45,633.40V606.97M1156.07,633.40V618.38M1156.45,633.40V595.09M1156.97,633.40V616.25M1157.78,633.40V617.91M1158.41,633.40V616.24M1159.07,633.40V600.27M1159.64,633.40V610.16M1160.32,633.40V620.77M1161.00,633.40V620.96M1161.63,633.40V621.31M1161.96,633.40V606.29M1162.29,633.40V596.72M1162.87,633.40V613.66M1163.51,633.40V614.14M1164.07,633.40V607.77M1164.62,633.40V614.65M1165.24,633.40V608.21M1165.75,633.40V609.62M1166.40,633.40V621.75M1166.79,633.40V617.30M1167.27,633.40V591.66M1167.80,633.40V613.79M1168.12,633.40V589.21M1168.58,633.40V606.46M1169.07,633.40V614.21M1169.72,633.40V624.96M1170.06,633.40V627.47M1170.68,633.40V630.87M1171.03,633.40V631.01M1171.46,633.40V631.00M1172.14,633.40V628.43M1172.60,633.40V623.22M1173.11,633.40V615.59M1173.56,633.40V614.08M1173.90,633.40V619.58M1174.30,633.40V617.04M1174.81,633.40V622.47M1175.19,633.40V610.52M1175.82,633.40V598.93M1176.46,633.40V608.36M1176.79,633.40V602.79M1177.45,633.40V599.84M1177.89,633.40V595.41M1178.32,633.40V603.87M1178.96,633.40V604.83M1179.34,633.40V599.78M1179.74,633.40V600.21M1180.27,633.40V616.87M1180.75,633.40V618.45M1181.20,633.40V610.29M1181.51,633.40V625.14M1181.87,633.40V617.94M1182.42,633.40V627.77M1182.78,633.40V622.64M1183.40,633.40V611.21M1183.74,633.40V624.51M1184.28,633.40V629.09M1184.93,633.40V628.25M1185.54,633.40V628.59" stroke="#222" stroke-width="0.8" fill="none"/>
<line x1="802.00" y1="633.40" x2="802.00" y2="632.30" stroke="#444" stroke-width="0.8"/>
<line x1="855.00" y1="633.40" x2="855.00" y2="632.00" stroke="#444" stroke-width="0.8"/>
<line x1="860.00" y1="633.40" x2="860.00" y2="631.78" stroke="#444" stroke-width="0.8"/>
<line x1="870.00" y1="633.40" x2="870.00" y2="631.79" stroke="#444" stroke-width="0.8"/>
<line x1="890.00" y1="633.40" x2="890.00" y2="630.88" stroke="#444" stroke-width="0.8"/>
<line x1="930.00" y1="633.40" x2="930.00" y2="631.82" stroke="#444" stroke-width="0.8"/>
<line x1="935.00" y1="633.40" x2="935.00" y2="631.40" stroke="#444" stroke-width="0.8"/>
<line x1="950.00" y1="633.40" x2="950.00" y2="632.04" stroke="#444" stroke-width="0.8"/>
<line x1="985.00" y1="633.40" x2="985.00" y2="631.71" stroke="#444" stroke-width="0.8"/>
<line x1="1000.00" y1="633.40" x2="1000.00" y2="632.36" stroke="#444" stroke-width="0.8"/>
<line x1="1020.00" y1="633.40" x2="1020.00" y2="631.90" stroke="#444" stroke-width="0.8"/>
<line x1="1047.00" y1="633.40" x2="1047.00" y2="632.37" stroke="#444" stroke-width="0.8"/>
<line x1="1063.00" y1="633.40" x2="1063.00" y2="630.93" stroke="#444" stroke-width="0.8"/>
<line x1="1188.00" y1="633.40" x2="1188.00" y2="631.30" stroke="#444" stroke-width="0.8"/>
<rect x="633.50" y="534.50" width="562.50" height="101.70" fill="none" stroke="#333" stroke-width="1.1"/>
<line x1="629.50" y1="558.90" x2="633.50" y2="558.90" stroke="#333" stroke-width="1"/>
<text x="620.80" y="564.20" font-size="16" text-anchor="end" textLength="29.40" lengthAdjust="spacingAndGlyphs">600</text>
<line x1="629.50" y1="583.80" x2="633.50" y2="583.80" stroke="#333" stroke-width="1"/>
<text x="620.80" y="589.10" font-size="16" text-anchor="end" textLength="29.40" lengthAdjust="spacingAndGlyphs">400</text>
<line x1="629.50" y1="608.60" x2="633.50" y2="608.60" stroke="#333" stroke-width="1"/>
<text x="620.80" y="613.90" font-size="16" text-anchor="end" textLength="29.40" lengthAdjust="spacingAndGlyphs">200</text>
<line x1="629.50" y1="633.70" x2="633.50" y2="633.70" stroke="#333" stroke-width="1"/>
<text x="620.80" y="639.00" font-size="16" text-anchor="end" textLength="9.80" lengthAdjust="spacingAndGlyphs">0</text>
<line x1="636.70" y1="636.20" x2="636.70" y2="641.70" stroke="#333" stroke-width="1"/>
<text x="636.70" y="662.00" font-size="15.4" text-anchor="middle">0</text>
<line x1="668.49" y1="636.20" x2="668.49" y2="639.20" stroke="#333" stroke-width="1"/>
<line x1="700.28" y1="636.20" x2="700.28" y2="641.70" stroke="#333" stroke-width="1"/>
<text x="700.28" y="662.00" font-size="15.4" text-anchor="middle" textLength="38.00" lengthAdjust="spacingAndGlyphs">2.0M</text>
<line x1="732.07" y1="636.20" x2="732.07" y2="639.20" stroke="#333" stroke-width="1"/>
<line x1="763.86" y1="636.20" x2="763.86" y2="641.70" stroke="#333" stroke-width="1"/>
<text x="763.86" y="662.00" font-size="15.4" text-anchor="middle" textLength="38.00" lengthAdjust="spacingAndGlyphs">4.0M</text>
<line x1="795.65" y1="636.20" x2="795.65" y2="639.20" stroke="#333" stroke-width="1"/>
<line x1="827.44" y1="636.20" x2="827.44" y2="641.70" stroke="#333" stroke-width="1"/>
<text x="827.44" y="662.00" font-size="15.4" text-anchor="middle" textLength="38.00" lengthAdjust="spacingAndGlyphs">6.0M</text>
<line x1="859.23" y1="636.20" x2="859.23" y2="639.20" stroke="#333" stroke-width="1"/>
<line x1="891.02" y1="636.20" x2="891.02" y2="641.70" stroke="#333" stroke-width="1"/>
<text x="891.02" y="662.00" font-size="15.4" text-anchor="middle" textLength="38.00" lengthAdjust="spacingAndGlyphs">8.0M</text>
<line x1="922.81" y1="636.20" x2="922.81" y2="639.20" stroke="#333" stroke-width="1"/>
<line x1="954.60" y1="636.20" x2="954.60" y2="641.70" stroke="#333" stroke-width="1"/>
<text x="954.60" y="662.00" font-size="15.4" text-anchor="middle" textLength="47.00" lengthAdjust="spacingAndGlyphs">10.0M</text>
<line x1="986.39" y1="636.20" x2="986.39" y2="639.20" stroke="#333" stroke-width="1"/>
<line x1="1018.18" y1="636.20" x2="1018.18" y2="641.70" stroke="#333" stroke-width="1"/>
<text x="1018.18" y="662.00" font-size="15.4" text-anchor="middle" textLength="47.00" lengthAdjust="spacingAndGlyphs">12.0M</text>
<line x1="1049.97" y1="636.20" x2="1049.97" y2="639.20" stroke="#333" stroke-width="1"/>
<line x1="1081.76" y1="636.20" x2="1081.76" y2="641.70" stroke="#333" stroke-width="1"/>
<text x="1081.76" y="662.00" font-size="15.4" text-anchor="middle" textLength="47.00" lengthAdjust="spacingAndGlyphs">14.0M</text>
<line x1="1113.55" y1="636.20" x2="1113.55" y2="639.20" stroke="#333" stroke-width="1"/>
<line x1="1145.34" y1="636.20" x2="1145.34" y2="641.70" stroke="#333" stroke-width="1"/>
<text x="1145.34" y="662.00" font-size="15.4" text-anchor="middle" textLength="47.00" lengthAdjust="spacingAndGlyphs">16.0M</text>
<line x1="1177.13" y1="636.20" x2="1177.13" y2="639.20" stroke="#333" stroke-width="1"/>
<text x="637.20" y="559.10" font-size="19.2" textLength="456.20" lengthAdjust="spacingAndGlyphs">Expression level of total piRNA of LG IV in <tspan font-style="italic">C. elegans</tspan></text>
<text x="575.50" y="684.00" font-size="27" textLength="10.80" lengthAdjust="spacingAndGlyphs" font-weight="bold" fill="#000">f</text>
<line x1="638.00" y1="778.00" x2="1190.00" y2="778.00" stroke="#444" stroke-width="1.3"/>
<path d="" stroke="#8a8a8a" stroke-width="0.9" fill="none"/>
<path d="M788.80,778.00V769.20M789.49,778.00V776.50M789.81,778.00V776.50M790.40,778.00V776.50M790.90,778.00V776.50M791.57,778.00V775.24M792.04,778.00V774.94M792.34,778.00V777.09M792.95,778.00V775.21M793.63,778.00V775.18M793.99,778.00V775.77M794.36,778.00V774.60M794.68,778.00V776.53M795.04,778.00V777.02M795.47,778.00V775.79M796.08,778.00V775.64M796.56,778.00V774.07M797.20,778.00V774.15M797.53,778.00V776.06M797.98,778.00V777.12M798.57,778.00V775.28M799.06,778.00V776.34M799.63,778.00V775.37M800.27,778.00V776.17M800.92,778.00V775.50M801.57,778.00V776.54M801.96,778.00V775.78M802.37,778.00V774.10M802.90,778.00V774.39M803.40,778.00V775.45M803.73,778.00V772.24M804.13,778.00V774.77M804.48,778.00V775.92M804.80,778.00V773.82M805.31,778.00V773.21M806.00,778.00V776.46M806.41,778.00V773.41M806.99,778.00V774.50M807.33,778.00V774.79M807.66,778.00V773.99M808.32,778.00V774.68M808.74,778.00V775.00M809.25,778.00V771.62M809.81,778.00V774.60M810.39,778.00V774.65M810.83,778.00V772.27M811.34,778.00V773.19M811.65,778.00V774.21M812.02,778.00V771.60M812.40,778.00V774.92M813.08,778.00V770.34M813.61,778.00V776.42M814.31,778.00V771.08M814.76,778.00V772.44M815.19,778.00V775.18M815.74,778.00V767.35M816.27,778.00V775.87M816.88,778.00V776.18M817.55,778.00V770.82M817.88,778.00V774.09M818.37,778.00V776.90M818.77,778.00V773.90M819.21,778.00V771.54M819.80,778.00V774.57M820.12,778.00V777.04M820.70,778.00V774.20M821.05,778.00V771.26M821.39,778.00V765.79M821.93,778.00V770.33M822.61,778.00V770.09M823.24,778.00V775.51M823.86,778.00V776.16M824.26,778.00V773.77M824.66,778.00V772.83M825.17,778.00V772.03M825.56,778.00V774.76M826.25,778.00V768.03M826.67,778.00V768.45M827.07,778.00V772.16M827.57,778.00V768.47M828.09,778.00V772.49M828.76,778.00V776.00M829.12,778.00V772.62M829.44,778.00V767.78M830.07,778.00V773.98M830.60,778.00V772.87M831.01,778.00V774.53M831.45,778.00V769.74M831.78,778.00V775.30M832.22,778.00V774.46M832.54,778.00V771.59M833.13,778.00V771.84M833.68,778.00V775.69M834.30,778.00V776.56M834.86,778.00V775.63M835.51,778.00V775.98M835.98,778.00V773.54M836.63,778.00V774.48M836.97,778.00V772.50M837.35,778.00V776.39M837.68,778.00V775.16M838.23,778.00V774.91M838.90,778.00V774.33M839.41,778.00V774.27M839.94,778.00V774.80M840.40,778.00V775.57M840.91,778.00V775.73M841.36,778.00V774.94M841.86,778.00V776.93M842.30,778.00V775.47M842.68,778.00V775.66M842.99,778.00V775.82M843.41,778.00V777.16M843.73,778.00V776.04M844.27,778.00V776.59M844.88,778.00V776.23M845.28,778.00V774.35M845.69,778.00V776.62" stroke="#222" stroke-width="0.8" fill="none"/>
<path d="M1085.87,778.00V695.64M1089.18,778.00V699.50M1100.35,778.00V717.52M1104.82,778.00V761.47M1114.57,778.00V693.79M1120.27,778.00V731.76M1128.51,778.00V721.20M1131.70,778.00V727.84M1146.59,778.00V692.77M1168.23,778.00V695.28" stroke="#8a8a8a" stroke-width="0.9" fill="none"/>
<path d="M1069.60,778.00V741.53M1070.29,778.00V762.03M1070.95,778.00V759.06M1071.31,778.00V740.09M1071.68,778.00V764.39M1072.19,778.00V746.33M1072.72,778.00V763.58M1073.06,778.00V753.51M1073.60,778.00V740.62M1074.04,778.00V756.38M1074.46,778.00V761.30M1075.04,778.00V762.06M1075.63,778.00V755.21M1075.94,778.00V732.13M1076.60,778.00V744.76M1077.05,778.00V757.30M1077.48,778.00V761.73M1077.92,778.00V760.42M1078.55,778.00V746.67M1079.11,778.00V767.89M1079.50,778.00V760.40M1080.06,778.00V768.10M1080.62,778.00V766.43M1081.32,778.00V752.26M1081.99,778.00V761.73M1082.46,778.00V770.06M1083.12,778.00V768.03M1083.52,778.00V760.65M1084.14,778.00V771.15M1084.76,778.00V755.87M1085.33,778.00V771.43M1086.46,778.00V745.26M1087.14,778.00V762.58M1087.82,778.00V764.31M1088.18,778.00V751.54M1088.70,778.00V759.33M1089.78,778.00V721.36M1090.22,778.00V765.53M1090.91,778.00V761.49M1091.43,778.00V756.88M1092.10,778.00V749.12M1092.67,778.00V752.47M1093.27,778.00V755.01M1093.59,778.00V766.48M1094.06,778.00V765.10M1094.44,778.00V752.29M1095.11,778.00V762.57M1095.54,778.00V728.79M1095.99,778.00V746.99M1096.51,778.00V765.61M1096.91,778.00V765.59M1097.43,778.00V740.14M1097.75,778.00V742.08M1098.44,778.00V761.65M1099.02,778.00V763.40M1099.45,778.00V762.02M1099.95,778.00V748.71M1100.79,778.00V767.79M1101.12,778.00V753.47M1101.67,778.00V766.78M1101.99,778.00V766.76M1102.60,778.00V750.63M1103.12,778.00V753.57M1103.68,778.00V774.88M1104.21,778.00V773.42M1105.14,778.00V770.20M1105.68,778.00V773.64M1106.34,778.00V772.98M1106.72,778.00V769.34M1107.30,778.00V755.68M1107.63,778.00V763.56M1108.13,778.00V741.91M1108.69,778.00V742.12M1109.31,778.00V757.36M1109.72,778.00V731.82M1110.26,778.00V769.39M1110.94,778.00V762.34M1111.37,778.00V762.73M1111.88,778.00V761.23M1112.21,778.00V762.56M1112.86,778.00V750.69M1113.32,778.00V764.05M1113.94,778.00V759.25M1115.08,778.00V765.50M1115.63,778.00V752.03M1116.15,778.00V766.14M1116.71,778.00V744.81M1117.28,778.00V756.77M1117.62,778.00V760.68M1118.06,778.00V755.92M1118.67,778.00V765.82M1119.00,778.00V766.79M1119.67,778.00V765.69M1120.86,778.00V765.49M1121.42,778.00V748.63M1122.04,778.00V767.08M1122.49,778.00V763.01M1122.91,778.00V767.35M1123.40,778.00V751.86M1123.89,778.00V765.43M1124.54,778.00V767.77M1125.14,778.00V738.75M1125.83,778.00V726.32M1126.19,778.00V749.97M1126.68,778.00V758.23M1127.35,778.00V764.38M1127.69,778.00V765.49M1128.09,778.00V756.80M1129.15,778.00V763.57M1129.83,778.00V719.94M1130.30,778.00V759.61M1130.61,778.00V757.77M1131.29,778.00V752.42M1132.12,778.00V750.00M1132.77,778.00V769.24M1133.18,778.00V770.26M1133.79,778.00V761.17M1134.36,778.00V758.13M1134.83,778.00V769.84M1135.15,778.00V767.53M1135.46,778.00V767.27M1136.16,778.00V750.91M1136.73,778.00V765.25M1137.38,778.00V765.28M1138.04,778.00V729.16M1138.47,778.00V761.25M1139.05,778.00V743.78M1139.42,778.00V766.39M1139.75,778.00V764.64M1140.40,778.00V756.10M1140.80,778.00V750.44M1141.34,778.00V759.62M1141.72,778.00V746.51M1142.24,778.00V715.49M1142.79,778.00V752.25M1143.47,778.00V763.32M1144.17,778.00V758.94M1144.79,778.00V753.03M1145.16,778.00V760.73M1145.67,778.00V768.80M1146.13,778.00V756.68M1146.92,778.00V765.98M1147.32,778.00V753.73M1147.81,778.00V745.30M1148.38,778.00V722.31M1148.93,778.00V748.12M1149.57,778.00V760.66M1149.88,778.00V766.15M1150.32,778.00V718.71M1151.01,778.00V767.25M1151.32,778.00V771.65M1151.83,778.00V768.93M1152.45,778.00V769.42M1152.88,778.00V771.21M1153.23,778.00V773.69M1153.63,778.00V736.66M1154.04,778.00V732.01M1154.72,778.00V759.67M1155.05,778.00V759.53M1155.71,778.00V756.52M1156.35,778.00V758.33M1157.01,778.00V761.62M1157.42,778.00V738.26M1157.86,778.00V764.69M1158.40,778.00V745.15M1158.95,778.00V764.63M1159.56,778.00V764.72M1160.14,778.00V764.91M1160.83,778.00V757.67M1161.47,778.00V768.26M1161.96,778.00V730.71M1162.44,778.00V756.15M1162.83,778.00V768.15M1163.45,778.00V768.19M1163.92,778.00V770.21M1164.47,778.00V761.32M1164.82,778.00V769.70M1165.26,778.00V758.02M1165.77,778.00V770.39M1166.27,778.00V762.08M1166.91,778.00V760.53M1167.38,778.00V756.92M1167.72,778.00V730.58M1168.78,778.00V763.08M1169.46,778.00V752.98M1169.94,778.00V739.95M1170.35,778.00V773.57M1170.84,778.00V771.22M1171.27,778.00V772.91M1171.66,778.00V766.95M1172.05,778.00V769.33M1172.71,778.00V745.52M1173.32,778.00V745.34M1173.66,778.00V766.22M1174.33,778.00V745.55M1174.72,778.00V764.58M1175.05,778.00V765.87M1175.55,778.00V757.67M1175.87,778.00V765.94M1176.47,778.00V764.78M1177.10,778.00V759.93M1177.55,778.00V758.93M1177.95,778.00V761.93M1178.31,778.00V754.42M1178.80,778.00V746.82M1179.12,778.00V769.65M1179.51,778.00V753.77M1179.86,778.00V761.91M1180.21,778.00V773.71M1180.83,778.00V773.48M1181.28,778.00V766.93M1181.83,778.00V774.43M1182.50,778.00V769.22M1182.92,778.00V767.48M1183.34,778.00V771.60M1183.89,778.00V773.33M1184.29,778.00V771.95M1184.70,778.00V766.88M1185.35,778.00V763.72M1185.76,778.00V772.75" stroke="#222" stroke-width="0.8" fill="none"/>
<line x1="802.00" y1="778.00" x2="802.00" y2="776.62" stroke="#444" stroke-width="0.8"/>
<line x1="855.00" y1="778.00" x2="855.00" y2="776.05" stroke="#444" stroke-width="0.8"/>
<line x1="860.00" y1="778.00" x2="860.00" y2="775.13" stroke="#444" stroke-width="0.8"/>
<line x1="870.00" y1="778.00" x2="870.00" y2="776.79" stroke="#444" stroke-width="0.8"/>
<line x1="890.00" y1="778.00" x2="890.00" y2="775.36" stroke="#444" stroke-width="0.8"/>
<line x1="930.00" y1="778.00" x2="930.00" y2="776.14" stroke="#444" stroke-width="0.8"/>
<line x1="935.00" y1="778.00" x2="935.00" y2="776.01" stroke="#444" stroke-width="0.8"/>
<line x1="950.00" y1="778.00" x2="950.00" y2="775.33" stroke="#444" stroke-width="0.8"/>
<line x1="985.00" y1="778.00" x2="985.00" y2="776.21" stroke="#444" stroke-width="0.8"/>
<line x1="1000.00" y1="778.00" x2="1000.00" y2="775.99" stroke="#444" stroke-width="0.8"/>
<line x1="1020.00" y1="778.00" x2="1020.00" y2="775.62" stroke="#444" stroke-width="0.8"/>
<line x1="1047.00" y1="778.00" x2="1047.00" y2="775.04" stroke="#444" stroke-width="0.8"/>
<line x1="1063.00" y1="778.00" x2="1063.00" y2="776.31" stroke="#444" stroke-width="0.8"/>
<line x1="1188.00" y1="778.00" x2="1188.00" y2="775.34" stroke="#444" stroke-width="0.8"/>
<rect x="633.50" y="679.20" width="562.50" height="102.10" fill="none" stroke="#333" stroke-width="1.1"/>
<line x1="629.50" y1="712.10" x2="633.50" y2="712.10" stroke="#333" stroke-width="1"/>
<text x="620.80" y="717.40" font-size="16" text-anchor="end" textLength="44.70" lengthAdjust="spacingAndGlyphs">4,000</text>
<line x1="629.50" y1="745.30" x2="633.50" y2="745.30" stroke="#333" stroke-width="1"/>
<text x="620.80" y="750.60" font-size="16" text-anchor="end" textLength="44.70" lengthAdjust="spacingAndGlyphs">2,000</text>
<line x1="629.50" y1="778.30" x2="633.50" y2="778.30" stroke="#333" stroke-width="1"/>
<text x="620.80" y="783.60" font-size="16" text-anchor="end" textLength="9.80" lengthAdjust="spacingAndGlyphs">0</text>
<line x1="631.00" y1="761.75" x2="633.50" y2="761.75" stroke="#333" stroke-width="1"/>
<line x1="631.00" y1="728.65" x2="633.50" y2="728.65" stroke="#333" stroke-width="1"/>
<line x1="631.00" y1="695.55" x2="633.50" y2="695.55" stroke="#333" stroke-width="1"/>
<line x1="636.70" y1="781.30" x2="636.70" y2="786.80" stroke="#333" stroke-width="1"/>
<text x="636.70" y="806.70" font-size="15.4" text-anchor="middle">0</text>
<line x1="668.49" y1="781.30" x2="668.49" y2="784.30" stroke="#333" stroke-width="1"/>
<line x1="700.28" y1="781.30" x2="700.28" y2="786.80" stroke="#333" stroke-width="1"/>
<text x="700.28" y="806.70" font-size="15.4" text-anchor="middle" textLength="38.00" lengthAdjust="spacingAndGlyphs">2.0M</text>
<line x1="732.07" y1="781.30" x2="732.07" y2="784.30" stroke="#333" stroke-width="1"/>
<line x1="763.86" y1="781.30" x2="763.86" y2="786.80" stroke="#333" stroke-width="1"/>
<text x="763.86" y="806.70" font-size="15.4" text-anchor="middle" textLength="38.00" lengthAdjust="spacingAndGlyphs">4.0M</text>
<line x1="795.65" y1="781.30" x2="795.65" y2="784.30" stroke="#333" stroke-width="1"/>
<line x1="827.44" y1="781.30" x2="827.44" y2="786.80" stroke="#333" stroke-width="1"/>
<text x="827.44" y="806.70" font-size="15.4" text-anchor="middle" textLength="38.00" lengthAdjust="spacingAndGlyphs">6.0M</text>
<line x1="859.23" y1="781.30" x2="859.23" y2="784.30" stroke="#333" stroke-width="1"/>
<line x1="891.02" y1="781.30" x2="891.02" y2="786.80" stroke="#333" stroke-width="1"/>
<text x="891.02" y="806.70" font-size="15.4" text-anchor="middle" textLength="38.00" lengthAdjust="spacingAndGlyphs">8.0M</text>
<line x1="922.81" y1="781.30" x2="922.81" y2="784.30" stroke="#333" stroke-width="1"/>
<line x1="954.60" y1="781.30" x2="954.60" y2="786.80" stroke="#333" stroke-width="1"/>
<text x="954.60" y="806.70" font-size="15.4" text-anchor="middle" textLength="47.00" lengthAdjust="spacingAndGlyphs">10.0M</text>
<line x1="986.39" y1="781.30" x2="986.39" y2="784.30" stroke="#333" stroke-width="1"/>
<line x1="1018.18" y1="781.30" x2="1018.18" y2="786.80" stroke="#333" stroke-width="1"/>
<text x="1018.18" y="806.70" font-size="15.4" text-anchor="middle" textLength="47.00" lengthAdjust="spacingAndGlyphs">12.0M</text>
<line x1="1049.97" y1="781.30" x2="1049.97" y2="784.30" stroke="#333" stroke-width="1"/>
<line x1="1081.76" y1="781.30" x2="1081.76" y2="786.80" stroke="#333" stroke-width="1"/>
<text x="1081.76" y="806.70" font-size="15.4" text-anchor="middle" textLength="47.00" lengthAdjust="spacingAndGlyphs">14.0M</text>
<line x1="1113.55" y1="781.30" x2="1113.55" y2="784.30" stroke="#333" stroke-width="1"/>
<line x1="1145.34" y1="781.30" x2="1145.34" y2="786.80" stroke="#333" stroke-width="1"/>
<text x="1145.34" y="806.70" font-size="15.4" text-anchor="middle" textLength="47.00" lengthAdjust="spacingAndGlyphs">16.0M</text>
<line x1="1177.13" y1="781.30" x2="1177.13" y2="784.30" stroke="#333" stroke-width="1"/>
<text x="637.20" y="705.30" font-size="19.2" textLength="475.10" lengthAdjust="spacingAndGlyphs">Expression level of PIWI IP piRNA of LG IV in <tspan font-style="italic">C. elegans</tspan></text>
<text x="-1.50" y="872.00" font-size="27" textLength="21.60" lengthAdjust="spacingAndGlyphs" font-weight="bold" fill="#000">g</text>
<text x="77.00" y="872.30" font-size="18.6" textLength="196.60" lengthAdjust="spacingAndGlyphs"><tspan font-style="italic">C. elegans</tspan> total piRNA</text>
<g><circle cx="111.20" cy="1020.78" r="1.5" fill="#666" opacity="0.85"/><circle cx="111.20" cy="991.92" r="1.5" fill="#666" opacity="0.35"/><circle cx="111.20" cy="1019.26" r="1.5" fill="#666" opacity="0.85"/><circle cx="111.20" cy="1017.60" r="1.5" fill="#666" opacity="0.85"/><circle cx="111.20" cy="1019.91" r="1.5" fill="#666" opacity="0.85"/><circle cx="111.20" cy="995.61" r="1.5" fill="#666" opacity="0.41"/><circle cx="111.20" cy="1004.60" r="1.5" fill="#666" opacity="0.23"/><circle cx="111.20" cy="1007.65" r="1.5" fill="#666" opacity="0.36"/><circle cx="111.20" cy="970.93" r="1.5" fill="#666" opacity="0.26"/><circle cx="111.20" cy="1018.45" r="1.5" fill="#666" opacity="0.85"/><circle cx="111.20" cy="1022.21" r="1.5" fill="#666" opacity="0.85"/><circle cx="111.20" cy="1025.70" r="1.5" fill="#666" opacity="0.85"/><circle cx="111.20" cy="1015.24" r="1.5" fill="#666" opacity="0.20"/><circle cx="111.20" cy="1000.35" r="1.5" fill="#666" opacity="0.23"/><circle cx="111.20" cy="1017.52" r="1.5" fill="#666" opacity="0.85"/><circle cx="111.20" cy="977.41" r="1.5" fill="#666" opacity="0.35"/><circle cx="111.20" cy="1021.83" r="1.5" fill="#666" opacity="0.85"/><circle cx="111.20" cy="999.18" r="1.5" fill="#666" opacity="0.30"/><circle cx="111.20" cy="1025.31" r="1.5" fill="#666" opacity="0.85"/><circle cx="111.20" cy="998.45" r="1.5" fill="#666" opacity="0.21"/><circle cx="111.20" cy="971.24" r="1.5" fill="#666" opacity="0.37"/><circle cx="111.20" cy="978.39" r="1.5" fill="#666" opacity="0.40"/><circle cx="111.20" cy="1007.99" r="1.5" fill="#666" opacity="0.42"/><circle cx="111.20" cy="1010.39" r="1.5" fill="#666" opacity="0.20"/><circle cx="111.20" cy="972.26" r="1.5" fill="#666" opacity="0.40"/><circle cx="111.20" cy="1006.09" r="1.5" fill="#666" opacity="0.32"/><circle cx="111.20" cy="970.18" r="1.5" fill="#666" opacity="0.34"/><circle cx="111.20" cy="994.51" r="1.5" fill="#666" opacity="0.18"/><circle cx="111.20" cy="1025.14" r="1.5" fill="#666" opacity="0.85"/><circle cx="111.20" cy="996.66" r="1.5" fill="#666" opacity="0.33"/><circle cx="111.20" cy="1014.68" r="1.5" fill="#666" opacity="0.27"/><circle cx="111.20" cy="1025.51" r="1.5" fill="#666" opacity="0.85"/><circle cx="111.20" cy="1024.98" r="1.5" fill="#666" opacity="0.85"/><circle cx="111.20" cy="986.90" r="1.5" fill="#666" opacity="0.35"/><circle cx="111.20" cy="1024.12" r="1.5" fill="#666" opacity="0.85"/><circle cx="111.20" cy="1021.64" r="1.5" fill="#666" opacity="0.85"/><circle cx="111.20" cy="974.88" r="1.5" fill="#666" opacity="0.42"/><circle cx="111.20" cy="996.47" r="1.5" fill="#666" opacity="0.22"/><circle cx="111.20" cy="988.28" r="1.5" fill="#666" opacity="0.31"/><circle cx="111.20" cy="1023.39" r="1.5" fill="#666" opacity="0.85"/><circle cx="111.20" cy="1017.95" r="1.5" fill="#666" opacity="0.85"/><circle cx="111.20" cy="998.43" r="1.5" fill="#666" opacity="0.22"/><circle cx="111.20" cy="981.15" r="1.5" fill="#666" opacity="0.38"/><circle cx="111.20" cy="969.74" r="1.5" fill="#666" opacity="0.36"/><circle cx="111.20" cy="1016.98" r="1.5" fill="#666" opacity="0.85"/><circle cx="111.20" cy="1007.43" r="1.5" fill="#666" opacity="0.24"/><circle cx="111.20" cy="1022.61" r="1.5" fill="#666" opacity="0.85"/><circle cx="111.20" cy="982.00" r="1.5" fill="#666" opacity="0.23"/><circle cx="111.20" cy="996.26" r="1.5" fill="#666" opacity="0.37"/><circle cx="111.20" cy="978.96" r="1.5" fill="#666" opacity="0.30"/><circle cx="111.20" cy="996.53" r="1.5" fill="#666" opacity="0.30"/><circle cx="111.20" cy="1016.96" r="1.5" fill="#666" opacity="0.85"/><circle cx="111.20" cy="1025.61" r="1.5" fill="#666" opacity="0.85"/><circle cx="111.20" cy="1015.44" r="1.5" fill="#666" opacity="0.39"/><circle cx="111.20" cy="981.09" r="1.5" fill="#666" opacity="0.32"/><circle cx="111.20" cy="987.95" r="1.5" fill="#666" opacity="0.31"/><circle cx="111.20" cy="1023.33" r="1.5" fill="#666" opacity="0.85"/><circle cx="111.20" cy="996.35" r="1.5" fill="#666" opacity="0.39"/><circle cx="111.20" cy="1019.65" r="1.5" fill="#666" opacity="0.85"/><circle cx="111.20" cy="1025.57" r="1.5" fill="#666" opacity="0.85"/><circle cx="111.20" cy="1025.38" r="1.5" fill="#666" opacity="0.85"/><circle cx="111.20" cy="1025.12" r="1.5" fill="#666" opacity="0.85"/><circle cx="111.20" cy="1023.19" r="1.5" fill="#666" opacity="0.85"/><circle cx="111.20" cy="972.98" r="1.5" fill="#666" opacity="0.18"/><circle cx="111.20" cy="998.29" r="1.5" fill="#666" opacity="0.22"/><circle cx="111.20" cy="999.98" r="1.5" fill="#666" opacity="0.21"/><circle cx="111.20" cy="993.81" r="1.5" fill="#666" opacity="0.27"/><circle cx="111.20" cy="1024.57" r="1.5" fill="#666" opacity="0.85"/><circle cx="111.20" cy="1017.95" r="1.5" fill="#666" opacity="0.85"/><circle cx="111.20" cy="1019.76" r="1.5" fill="#666" opacity="0.85"/><circle cx="111.20" cy="1021.18" r="1.5" fill="#666" opacity="0.85"/><circle cx="111.20" cy="1017.91" r="1.5" fill="#666" opacity="0.85"/><circle cx="111.20" cy="1015.18" r="1.5" fill="#666" opacity="0.23"/><circle cx="111.20" cy="1014.89" r="1.5" fill="#666" opacity="0.20"/><circle cx="111.20" cy="1025.69" r="1.5" fill="#666" opacity="0.85"/><circle cx="111.20" cy="1016.16" r="1.5" fill="#666" opacity="0.34"/><circle cx="111.20" cy="1019.76" r="1.5" fill="#666" opacity="0.85"/><circle cx="111.20" cy="1003.21" r="1.5" fill="#666" opacity="0.24"/><circle cx="111.20" cy="1024.53" r="1.5" fill="#666" opacity="0.85"/><circle cx="111.20" cy="988.83" r="1.5" fill="#666" opacity="0.23"/><circle cx="111.20" cy="1025.70" r="1.5" fill="#666" opacity="0.85"/><circle cx="111.20" cy="1024.42" r="1.5" fill="#666" opacity="0.85"/><circle cx="111.20" cy="1021.19" r="1.5" fill="#666" opacity="0.85"/><circle cx="111.20" cy="1025.66" r="1.5" fill="#666" opacity="0.85"/><circle cx="111.20" cy="1010.76" r="1.5" fill="#666" opacity="0.35"/><circle cx="111.20" cy="1023.63" r="1.5" fill="#666" opacity="0.85"/><circle cx="111.20" cy="1016.10" r="1.5" fill="#666" opacity="0.24"/><circle cx="111.20" cy="1020.36" r="1.5" fill="#666" opacity="0.85"/><circle cx="111.20" cy="976.18" r="1.5" fill="#666" opacity="0.22"/><circle cx="111.20" cy="996.30" r="1.5" fill="#666" opacity="0.39"/></g>
<line x1="111.20" y1="1025.70" x2="111.20" y2="1008.09" stroke="#111" stroke-width="3" stroke-linecap="round"/>
<line x1="111.20" y1="1032.50" x2="111.20" y2="1025.70" stroke="#555" stroke-width="1"/>
<line x1="102.50" y1="1025.70" x2="119.90" y2="1025.70" stroke="#333" stroke-width="1.2"/>
<rect x="93.10" y="1032.50" width="36.20" height="74.50" fill="#fff" stroke="#111" stroke-width="1.6"/>
<line x1="93.10" y1="1065.60" x2="129.30" y2="1065.60" stroke="#111" stroke-width="1.6"/>
<text x="111.20" y="1100.50" font-size="10" text-anchor="middle">★</text>
<text x="111.20" y="1063.20" font-size="14.2" text-anchor="middle" textLength="16.00" lengthAdjust="spacingAndGlyphs">5.1</text>
<g><circle cx="175.80" cy="961.67" r="1.5" fill="#666" opacity="0.29"/><circle cx="175.80" cy="991.82" r="1.5" fill="#666" opacity="0.85"/><circle cx="175.80" cy="995.41" r="1.5" fill="#666" opacity="0.85"/><circle cx="175.80" cy="992.42" r="1.5" fill="#666" opacity="0.85"/><circle cx="175.80" cy="991.24" r="1.5" fill="#666" opacity="0.85"/><circle cx="175.80" cy="972.67" r="1.5" fill="#666" opacity="0.35"/><circle cx="175.80" cy="971.42" r="1.5" fill="#666" opacity="0.34"/><circle cx="175.80" cy="964.10" r="1.5" fill="#666" opacity="0.21"/><circle cx="175.80" cy="997.87" r="1.5" fill="#666" opacity="0.85"/><circle cx="175.80" cy="994.77" r="1.5" fill="#666" opacity="0.85"/><circle cx="175.80" cy="973.18" r="1.5" fill="#666" opacity="0.19"/><circle cx="175.80" cy="960.38" r="1.5" fill="#666" opacity="0.19"/><circle cx="175.80" cy="996.73" r="1.5" fill="#666" opacity="0.85"/><circle cx="175.80" cy="996.64" r="1.5" fill="#666" opacity="0.85"/><circle cx="175.80" cy="997.96" r="1.5" fill="#666" opacity="0.85"/><circle cx="175.80" cy="987.10" r="1.5" fill="#666" opacity="0.28"/><circle cx="175.80" cy="995.54" r="1.5" fill="#666" opacity="0.85"/><circle cx="175.80" cy="965.20" r="1.5" fill="#666" opacity="0.25"/><circle cx="175.80" cy="943.16" r="1.5" fill="#666" opacity="0.27"/><circle cx="175.80" cy="980.69" r="1.5" fill="#666" opacity="0.42"/><circle cx="175.80" cy="955.47" r="1.5" fill="#666" opacity="0.39"/><circle cx="175.80" cy="947.65" r="1.5" fill="#666" opacity="0.20"/><circle cx="175.80" cy="976.13" r="1.5" fill="#666" opacity="0.35"/><circle cx="175.80" cy="966.18" r="1.5" fill="#666" opacity="0.36"/><circle cx="175.80" cy="955.47" r="1.5" fill="#666" opacity="0.27"/><circle cx="175.80" cy="988.55" r="1.5" fill="#666" opacity="0.23"/><circle cx="175.80" cy="993.62" r="1.5" fill="#666" opacity="0.85"/><circle cx="175.80" cy="973.88" r="1.5" fill="#666" opacity="0.35"/><circle cx="175.80" cy="970.38" r="1.5" fill="#666" opacity="0.34"/><circle cx="175.80" cy="994.31" r="1.5" fill="#666" opacity="0.85"/><circle cx="175.80" cy="965.35" r="1.5" fill="#666" opacity="0.39"/><circle cx="175.80" cy="960.44" r="1.5" fill="#666" opacity="0.28"/><circle cx="175.80" cy="996.62" r="1.5" fill="#666" opacity="0.85"/><circle cx="175.80" cy="954.77" r="1.5" fill="#666" opacity="0.28"/><circle cx="175.80" cy="982.11" r="1.5" fill="#666" opacity="0.21"/><circle cx="175.80" cy="997.83" r="1.5" fill="#666" opacity="0.85"/><circle cx="175.80" cy="943.58" r="1.5" fill="#666" opacity="0.26"/><circle cx="175.80" cy="988.72" r="1.5" fill="#666" opacity="0.20"/><circle cx="175.80" cy="955.06" r="1.5" fill="#666" opacity="0.20"/><circle cx="175.80" cy="950.57" r="1.5" fill="#666" opacity="0.21"/><circle cx="175.80" cy="944.80" r="1.5" fill="#666" opacity="0.34"/><circle cx="175.80" cy="996.00" r="1.5" fill="#666" opacity="0.85"/><circle cx="175.80" cy="993.18" r="1.5" fill="#666" opacity="0.85"/><circle cx="175.80" cy="979.70" r="1.5" fill="#666" opacity="0.19"/><circle cx="175.80" cy="956.58" r="1.5" fill="#666" opacity="0.39"/><circle cx="175.80" cy="978.41" r="1.5" fill="#666" opacity="0.33"/><circle cx="175.80" cy="993.59" r="1.5" fill="#666" opacity="0.85"/><circle cx="175.80" cy="990.90" r="1.5" fill="#666" opacity="0.85"/><circle cx="175.80" cy="991.88" r="1.5" fill="#666" opacity="0.85"/><circle cx="175.80" cy="945.92" r="1.5" fill="#666" opacity="0.23"/><circle cx="175.80" cy="997.88" r="1.5" fill="#666" opacity="0.85"/><circle cx="175.80" cy="967.32" r="1.5" fill="#666" opacity="0.38"/><circle cx="175.80" cy="996.77" r="1.5" fill="#666" opacity="0.85"/><circle cx="175.80" cy="985.81" r="1.5" fill="#666" opacity="0.34"/><circle cx="175.80" cy="987.84" r="1.5" fill="#666" opacity="0.25"/><circle cx="175.80" cy="981.21" r="1.5" fill="#666" opacity="0.33"/><circle cx="175.80" cy="992.76" r="1.5" fill="#666" opacity="0.85"/><circle cx="175.80" cy="997.71" r="1.5" fill="#666" opacity="0.85"/><circle cx="175.80" cy="988.80" r="1.5" fill="#666" opacity="0.20"/><circle cx="175.80" cy="992.36" r="1.5" fill="#666" opacity="0.85"/><circle cx="175.80" cy="966.02" r="1.5" fill="#666" opacity="0.27"/><circle cx="175.80" cy="997.41" r="1.5" fill="#666" opacity="0.85"/><circle cx="175.80" cy="980.93" r="1.5" fill="#666" opacity="0.25"/><circle cx="175.80" cy="996.52" r="1.5" fill="#666" opacity="0.85"/><circle cx="175.80" cy="991.13" r="1.5" fill="#666" opacity="0.85"/><circle cx="175.80" cy="959.48" r="1.5" fill="#666" opacity="0.30"/><circle cx="175.80" cy="997.35" r="1.5" fill="#666" opacity="0.85"/><circle cx="175.80" cy="988.07" r="1.5" fill="#666" opacity="0.36"/><circle cx="175.80" cy="993.76" r="1.5" fill="#666" opacity="0.85"/><circle cx="175.80" cy="997.97" r="1.5" fill="#666" opacity="0.85"/><circle cx="175.80" cy="982.56" r="1.5" fill="#666" opacity="0.37"/><circle cx="175.80" cy="994.58" r="1.5" fill="#666" opacity="0.85"/><circle cx="175.80" cy="973.43" r="1.5" fill="#666" opacity="0.27"/><circle cx="175.80" cy="944.84" r="1.5" fill="#666" opacity="0.32"/><circle cx="175.80" cy="997.87" r="1.5" fill="#666" opacity="0.85"/><circle cx="175.80" cy="996.62" r="1.5" fill="#666" opacity="0.85"/><circle cx="175.80" cy="958.37" r="1.5" fill="#666" opacity="0.33"/><circle cx="175.80" cy="976.45" r="1.5" fill="#666" opacity="0.38"/><circle cx="175.80" cy="997.81" r="1.5" fill="#666" opacity="0.85"/><circle cx="175.80" cy="997.38" r="1.5" fill="#666" opacity="0.85"/><circle cx="175.80" cy="979.80" r="1.5" fill="#666" opacity="0.36"/><circle cx="175.80" cy="949.99" r="1.5" fill="#666" opacity="0.21"/><circle cx="175.80" cy="986.80" r="1.5" fill="#666" opacity="0.30"/><circle cx="175.80" cy="956.22" r="1.5" fill="#666" opacity="0.40"/><circle cx="175.80" cy="995.82" r="1.5" fill="#666" opacity="0.85"/><circle cx="175.80" cy="964.16" r="1.5" fill="#666" opacity="0.21"/><circle cx="175.80" cy="980.17" r="1.5" fill="#666" opacity="0.36"/><circle cx="175.80" cy="981.20" r="1.5" fill="#666" opacity="0.27"/><circle cx="175.80" cy="958.51" r="1.5" fill="#666" opacity="0.38"/><circle cx="175.80" cy="972.89" r="1.5" fill="#666" opacity="0.28"/></g>
<line x1="175.80" y1="998.00" x2="175.80" y2="953.97" stroke="#111" stroke-width="3" stroke-linecap="round"/>
<line x1="175.80" y1="999.70" x2="175.80" y2="998.00" stroke="#555" stroke-width="1"/>
<line x1="167.10" y1="998.00" x2="184.50" y2="998.00" stroke="#333" stroke-width="1.2"/>
<rect x="157.70" y="999.70" width="36.20" height="107.30" fill="#fff" stroke="#111" stroke-width="1.6"/>
<line x1="157.70" y1="1039.50" x2="193.90" y2="1039.50" stroke="#111" stroke-width="1.6"/>
<text x="175.80" y="1087.90" font-size="10" text-anchor="middle">★</text>
<text x="175.80" y="1036.20" font-size="14.2" text-anchor="middle" textLength="24.40" lengthAdjust="spacingAndGlyphs">14.2</text>
<circle cx="240.50" cy="1039.00" r="1.5" fill="#999" opacity="0.60"/><circle cx="240.50" cy="1031.57" r="1.5" fill="#999" opacity="0.67"/><circle cx="240.50" cy="1023.71" r="1.5" fill="#999" opacity="0.60"/><circle cx="240.50" cy="1018.08" r="1.5" fill="#999" opacity="0.48"/><circle cx="240.50" cy="1013.52" r="1.5" fill="#999" opacity="0.72"/><circle cx="240.50" cy="1007.79" r="1.5" fill="#999" opacity="0.75"/><circle cx="240.50" cy="1000.13" r="1.5" fill="#999" opacity="0.47"/><circle cx="240.50" cy="996.05" r="1.5" fill="#999" opacity="0.70"/><circle cx="240.50" cy="990.53" r="1.5" fill="#999" opacity="0.50"/>
<line x1="240.50" y1="1073.50" x2="240.50" y2="1043.00" stroke="#555" stroke-width="1"/>
<line x1="231.80" y1="1043.00" x2="249.20" y2="1043.00" stroke="#333" stroke-width="1.2"/>
<rect x="222.40" y="1073.50" width="36.20" height="33.50" fill="#fff" stroke="#111" stroke-width="1.6"/>
<line x1="222.40" y1="1089.00" x2="258.60" y2="1089.00" stroke="#111" stroke-width="1.6"/>
<text x="240.50" y="1110.20" font-size="10" text-anchor="middle">★</text>
<text x="240.50" y="1087.20" font-size="14.2" text-anchor="middle" textLength="19.60" lengthAdjust="spacingAndGlyphs">2.0</text>
<rect x="78.80" y="882.30" width="193.50" height="231.90" fill="none" stroke="#333" stroke-width="1.1"/>
<line x1="73.30" y1="1089.50" x2="78.80" y2="1089.50" stroke="#333" stroke-width="1"/>
<text x="66.00" y="1090.80" font-size="15" text-anchor="end" textLength="9.20" lengthAdjust="spacingAndGlyphs">1</text>
<line x1="73.30" y1="1054.20" x2="78.80" y2="1054.20" stroke="#333" stroke-width="1"/>
<text x="66.00" y="1055.50" font-size="15" text-anchor="end" textLength="9.20" lengthAdjust="spacingAndGlyphs">3</text>
<line x1="73.30" y1="1018.90" x2="78.80" y2="1018.90" stroke="#333" stroke-width="1"/>
<text x="66.00" y="1020.20" font-size="15" text-anchor="end" textLength="9.20" lengthAdjust="spacingAndGlyphs">5</text>
<line x1="73.30" y1="983.60" x2="78.80" y2="983.60" stroke="#333" stroke-width="1"/>
<text x="66.00" y="984.90" font-size="15" text-anchor="end" textLength="9.20" lengthAdjust="spacingAndGlyphs">7</text>
<line x1="73.30" y1="948.30" x2="78.80" y2="948.30" stroke="#333" stroke-width="1"/>
<text x="66.00" y="949.60" font-size="15" text-anchor="end" textLength="9.20" lengthAdjust="spacingAndGlyphs">9</text>
<line x1="76.30" y1="1107.15" x2="78.80" y2="1107.15" stroke="#333" stroke-width="1"/>
<line x1="76.30" y1="1071.85" x2="78.80" y2="1071.85" stroke="#333" stroke-width="1"/>
<line x1="76.30" y1="1036.55" x2="78.80" y2="1036.55" stroke="#333" stroke-width="1"/>
<line x1="76.30" y1="1001.25" x2="78.80" y2="1001.25" stroke="#333" stroke-width="1"/>
<line x1="76.30" y1="965.95" x2="78.80" y2="965.95" stroke="#333" stroke-width="1"/>
<line x1="76.30" y1="930.65" x2="78.80" y2="930.65" stroke="#333" stroke-width="1"/>
<text x="16.80" y="998.20" font-size="18.5" text-anchor="middle" textLength="143.50" lengthAdjust="spacingAndGlyphs" transform="rotate(-90 16.80 998.20)">log<tspan font-size="13" dy="3.5">2</tspan><tspan dy="-3.5">(mean reads</tspan></text>
<text x="37.20" y="997.00" font-size="18.5" text-anchor="middle" textLength="84.00" lengthAdjust="spacingAndGlyphs" transform="rotate(-90 37.20 997.00)">of piRNA)</text>
<text x="142.60" y="900.50" font-size="13.5" textLength="69.00" lengthAdjust="spacingAndGlyphs"><tspan font-style="italic">P</tspan> = 1.32 × 10</text>
<text x="211.90" y="892.30" font-size="8.2" textLength="12.90" lengthAdjust="spacingAndGlyphs" fill="#777">−14</text>
<line x1="108.40" y1="904.80" x2="244.80" y2="904.80" stroke="#222" stroke-width="1"/>
<text x="163.60" y="920.50" font-size="13.5" textLength="72.00" lengthAdjust="spacingAndGlyphs"><tspan font-style="italic">P</tspan> = 6.43 × 10</text>
<text x="235.90" y="912.30" font-size="8.2" textLength="12.90" lengthAdjust="spacingAndGlyphs" fill="#777">−28</text>
<line x1="174.00" y1="923.30" x2="242.80" y2="923.30" stroke="#222" stroke-width="1"/>
<text x="95.40" y="938.50" font-size="13.5" textLength="72.00" lengthAdjust="spacingAndGlyphs"><tspan font-style="italic">P</tspan> = 2.02 × 10</text>
<text x="167.70" y="930.30" font-size="8.2" textLength="12.90" lengthAdjust="spacingAndGlyphs" fill="#777">−35</text>
<line x1="108.40" y1="940.00" x2="174.60" y2="940.00" stroke="#222" stroke-width="1"/>
<line x1="111.20" y1="1114.20" x2="111.20" y2="1118.70" stroke="#333" stroke-width="1"/>
<text x="111.20" y="1138.60" font-size="15.5" text-anchor="middle">I</text>
<line x1="175.80" y1="1114.20" x2="175.80" y2="1118.70" stroke="#333" stroke-width="1"/>
<text x="175.80" y="1138.60" font-size="15.5" text-anchor="middle">II</text>
<line x1="240.50" y1="1114.20" x2="240.50" y2="1118.70" stroke="#333" stroke-width="1"/>
<text x="240.50" y="1138.60" font-size="15.5" text-anchor="middle" textLength="25.00" lengthAdjust="spacingAndGlyphs">out</text>
<text x="37.90" y="1138.60" font-size="15.5" textLength="57.50" lengthAdjust="spacingAndGlyphs">Cluster:</text>
<text x="324.80" y="870.50" font-size="27" textLength="20.30" lengthAdjust="spacingAndGlyphs" font-weight="bold" fill="#000">h</text>
<text x="392.40" y="872.30" font-size="18.6" textLength="228.00" lengthAdjust="spacingAndGlyphs"><tspan font-style="italic">C. elegans</tspan> PRG-1 IP piRNA</text>
<g><circle cx="441.60" cy="987.58" r="1.5" fill="#666" opacity="0.29"/><circle cx="441.60" cy="1009.25" r="1.5" fill="#666" opacity="0.85"/><circle cx="441.60" cy="1011.84" r="1.5" fill="#666" opacity="0.85"/><circle cx="441.60" cy="1009.69" r="1.5" fill="#666" opacity="0.85"/><circle cx="441.60" cy="1008.84" r="1.5" fill="#666" opacity="0.85"/><circle cx="441.60" cy="995.49" r="1.5" fill="#666" opacity="0.35"/><circle cx="441.60" cy="994.59" r="1.5" fill="#666" opacity="0.34"/><circle cx="441.60" cy="989.33" r="1.5" fill="#666" opacity="0.21"/><circle cx="441.60" cy="1013.61" r="1.5" fill="#666" opacity="0.85"/><circle cx="441.60" cy="1011.38" r="1.5" fill="#666" opacity="0.85"/><circle cx="441.60" cy="995.86" r="1.5" fill="#666" opacity="0.19"/><circle cx="441.60" cy="986.65" r="1.5" fill="#666" opacity="0.19"/><circle cx="441.60" cy="1012.79" r="1.5" fill="#666" opacity="0.85"/><circle cx="441.60" cy="1012.72" r="1.5" fill="#666" opacity="0.85"/><circle cx="441.60" cy="1013.67" r="1.5" fill="#666" opacity="0.85"/><circle cx="441.60" cy="1005.87" r="1.5" fill="#666" opacity="0.28"/><circle cx="441.60" cy="1011.93" r="1.5" fill="#666" opacity="0.85"/><circle cx="441.60" cy="990.12" r="1.5" fill="#666" opacity="0.25"/><circle cx="441.60" cy="974.27" r="1.5" fill="#666" opacity="0.27"/><circle cx="441.60" cy="1001.26" r="1.5" fill="#666" opacity="0.42"/><circle cx="441.60" cy="983.12" r="1.5" fill="#666" opacity="0.39"/><circle cx="441.60" cy="977.50" r="1.5" fill="#666" opacity="0.20"/><circle cx="441.60" cy="997.98" r="1.5" fill="#666" opacity="0.35"/><circle cx="441.60" cy="990.83" r="1.5" fill="#666" opacity="0.36"/><circle cx="441.60" cy="983.12" r="1.5" fill="#666" opacity="0.27"/><circle cx="441.60" cy="1006.90" r="1.5" fill="#666" opacity="0.23"/><circle cx="441.60" cy="1010.55" r="1.5" fill="#666" opacity="0.85"/><circle cx="441.60" cy="996.36" r="1.5" fill="#666" opacity="0.35"/><circle cx="441.60" cy="993.85" r="1.5" fill="#666" opacity="0.34"/><circle cx="441.60" cy="1011.05" r="1.5" fill="#666" opacity="0.85"/><circle cx="441.60" cy="990.23" r="1.5" fill="#666" opacity="0.39"/><circle cx="441.60" cy="986.70" r="1.5" fill="#666" opacity="0.28"/><circle cx="441.60" cy="1012.71" r="1.5" fill="#666" opacity="0.85"/><circle cx="441.60" cy="982.62" r="1.5" fill="#666" opacity="0.28"/><circle cx="441.60" cy="1002.28" r="1.5" fill="#666" opacity="0.21"/><circle cx="441.60" cy="1013.58" r="1.5" fill="#666" opacity="0.85"/><circle cx="441.60" cy="974.57" r="1.5" fill="#666" opacity="0.26"/><circle cx="441.60" cy="1007.03" r="1.5" fill="#666" opacity="0.20"/><circle cx="441.60" cy="982.83" r="1.5" fill="#666" opacity="0.20"/><circle cx="441.60" cy="979.60" r="1.5" fill="#666" opacity="0.21"/><circle cx="441.60" cy="975.45" r="1.5" fill="#666" opacity="0.34"/><circle cx="441.60" cy="1012.26" r="1.5" fill="#666" opacity="0.85"/><circle cx="441.60" cy="1010.23" r="1.5" fill="#666" opacity="0.85"/><circle cx="441.60" cy="1000.54" r="1.5" fill="#666" opacity="0.19"/><circle cx="441.60" cy="983.92" r="1.5" fill="#666" opacity="0.39"/><circle cx="441.60" cy="999.61" r="1.5" fill="#666" opacity="0.33"/><circle cx="441.60" cy="1010.53" r="1.5" fill="#666" opacity="0.85"/><circle cx="441.60" cy="1008.60" r="1.5" fill="#666" opacity="0.85"/><circle cx="441.60" cy="1009.30" r="1.5" fill="#666" opacity="0.85"/><circle cx="441.60" cy="976.26" r="1.5" fill="#666" opacity="0.23"/><circle cx="441.60" cy="1013.61" r="1.5" fill="#666" opacity="0.85"/><circle cx="441.60" cy="991.64" r="1.5" fill="#666" opacity="0.38"/><circle cx="441.60" cy="1012.82" r="1.5" fill="#666" opacity="0.85"/><circle cx="441.60" cy="1004.94" r="1.5" fill="#666" opacity="0.34"/><circle cx="441.60" cy="1006.40" r="1.5" fill="#666" opacity="0.25"/><circle cx="441.60" cy="1001.63" r="1.5" fill="#666" opacity="0.33"/><circle cx="441.60" cy="1009.93" r="1.5" fill="#666" opacity="0.85"/><circle cx="441.60" cy="1013.49" r="1.5" fill="#666" opacity="0.85"/><circle cx="441.60" cy="1007.08" r="1.5" fill="#666" opacity="0.20"/><circle cx="441.60" cy="1009.65" r="1.5" fill="#666" opacity="0.85"/><circle cx="441.60" cy="990.71" r="1.5" fill="#666" opacity="0.27"/><circle cx="441.60" cy="1013.28" r="1.5" fill="#666" opacity="0.85"/><circle cx="441.60" cy="1001.43" r="1.5" fill="#666" opacity="0.25"/><circle cx="441.60" cy="1012.64" r="1.5" fill="#666" opacity="0.85"/><circle cx="441.60" cy="1008.76" r="1.5" fill="#666" opacity="0.85"/><circle cx="441.60" cy="986.00" r="1.5" fill="#666" opacity="0.30"/><circle cx="441.60" cy="1013.23" r="1.5" fill="#666" opacity="0.85"/><circle cx="441.60" cy="1006.56" r="1.5" fill="#666" opacity="0.36"/><circle cx="441.60" cy="1010.65" r="1.5" fill="#666" opacity="0.85"/><circle cx="441.60" cy="1013.68" r="1.5" fill="#666" opacity="0.85"/><circle cx="441.60" cy="1002.60" r="1.5" fill="#666" opacity="0.37"/><circle cx="441.60" cy="1011.24" r="1.5" fill="#666" opacity="0.85"/><circle cx="441.60" cy="996.04" r="1.5" fill="#666" opacity="0.27"/><circle cx="441.60" cy="975.48" r="1.5" fill="#666" opacity="0.32"/><circle cx="441.60" cy="1013.61" r="1.5" fill="#666" opacity="0.85"/><circle cx="441.60" cy="1012.71" r="1.5" fill="#666" opacity="0.85"/><circle cx="441.60" cy="985.21" r="1.5" fill="#666" opacity="0.33"/><circle cx="441.60" cy="998.21" r="1.5" fill="#666" opacity="0.38"/><circle cx="441.60" cy="1013.57" r="1.5" fill="#666" opacity="0.85"/><circle cx="441.60" cy="1013.25" r="1.5" fill="#666" opacity="0.85"/><circle cx="441.60" cy="1000.62" r="1.5" fill="#666" opacity="0.36"/><circle cx="441.60" cy="979.18" r="1.5" fill="#666" opacity="0.21"/><circle cx="441.60" cy="1005.65" r="1.5" fill="#666" opacity="0.30"/><circle cx="441.60" cy="983.66" r="1.5" fill="#666" opacity="0.40"/><circle cx="441.60" cy="1012.13" r="1.5" fill="#666" opacity="0.85"/><circle cx="441.60" cy="989.38" r="1.5" fill="#666" opacity="0.21"/><circle cx="441.60" cy="1000.88" r="1.5" fill="#666" opacity="0.36"/><circle cx="441.60" cy="1001.62" r="1.5" fill="#666" opacity="0.27"/><circle cx="441.60" cy="985.31" r="1.5" fill="#666" opacity="0.38"/><circle cx="441.60" cy="995.65" r="1.5" fill="#666" opacity="0.28"/></g>
<line x1="441.60" y1="1013.70" x2="441.60" y2="1001.04" stroke="#111" stroke-width="3" stroke-linecap="round"/>
<line x1="441.60" y1="1019.80" x2="441.60" y2="1013.70" stroke="#555" stroke-width="1"/>
<line x1="432.90" y1="1013.70" x2="450.30" y2="1013.70" stroke="#333" stroke-width="1.2"/>
<rect x="423.40" y="1019.80" width="36.40" height="88.40" fill="#fff" stroke="#111" stroke-width="1.6"/>
<line x1="423.40" y1="1048.70" x2="459.80" y2="1048.70" stroke="#111" stroke-width="1.6"/>
<text x="441.60" y="1090.20" font-size="10" text-anchor="middle">★</text>
<text x="441.60" y="1046.20" font-size="14.2" text-anchor="middle" textLength="24.60" lengthAdjust="spacingAndGlyphs">19.4</text>
<g><circle cx="506.00" cy="977.79" r="1.5" fill="#666" opacity="0.19"/><circle cx="506.00" cy="954.59" r="1.5" fill="#666" opacity="0.30"/><circle cx="506.00" cy="969.92" r="1.5" fill="#666" opacity="0.20"/><circle cx="506.00" cy="975.91" r="1.5" fill="#666" opacity="0.37"/><circle cx="506.00" cy="959.43" r="1.5" fill="#666" opacity="0.22"/><circle cx="506.00" cy="972.73" r="1.5" fill="#666" opacity="0.25"/><circle cx="506.00" cy="972.09" r="1.5" fill="#666" opacity="0.29"/><circle cx="506.00" cy="969.39" r="1.5" fill="#666" opacity="0.29"/><circle cx="506.00" cy="976.52" r="1.5" fill="#666" opacity="0.40"/><circle cx="506.00" cy="971.46" r="1.5" fill="#666" opacity="0.19"/><circle cx="506.00" cy="986.47" r="1.5" fill="#666" opacity="0.85"/><circle cx="506.00" cy="960.26" r="1.5" fill="#666" opacity="0.37"/><circle cx="506.00" cy="960.15" r="1.5" fill="#666" opacity="0.26"/><circle cx="506.00" cy="952.52" r="1.5" fill="#666" opacity="0.40"/><circle cx="506.00" cy="977.61" r="1.5" fill="#666" opacity="0.25"/><circle cx="506.00" cy="938.45" r="1.5" fill="#666" opacity="0.23"/><circle cx="506.00" cy="967.05" r="1.5" fill="#666" opacity="0.38"/><circle cx="506.00" cy="986.45" r="1.5" fill="#666" opacity="0.85"/><circle cx="506.00" cy="968.02" r="1.5" fill="#666" opacity="0.28"/><circle cx="506.00" cy="981.47" r="1.5" fill="#666" opacity="0.85"/><circle cx="506.00" cy="961.86" r="1.5" fill="#666" opacity="0.31"/><circle cx="506.00" cy="977.13" r="1.5" fill="#666" opacity="0.31"/><circle cx="506.00" cy="985.46" r="1.5" fill="#666" opacity="0.85"/><circle cx="506.00" cy="985.00" r="1.5" fill="#666" opacity="0.85"/><circle cx="506.00" cy="964.85" r="1.5" fill="#666" opacity="0.28"/><circle cx="506.00" cy="962.02" r="1.5" fill="#666" opacity="0.38"/><circle cx="506.00" cy="984.50" r="1.5" fill="#666" opacity="0.85"/><circle cx="506.00" cy="985.13" r="1.5" fill="#666" opacity="0.85"/><circle cx="506.00" cy="964.23" r="1.5" fill="#666" opacity="0.19"/><circle cx="506.00" cy="959.18" r="1.5" fill="#666" opacity="0.36"/><circle cx="506.00" cy="984.92" r="1.5" fill="#666" opacity="0.85"/><circle cx="506.00" cy="981.65" r="1.5" fill="#666" opacity="0.85"/><circle cx="506.00" cy="985.55" r="1.5" fill="#666" opacity="0.85"/><circle cx="506.00" cy="969.04" r="1.5" fill="#666" opacity="0.32"/><circle cx="506.00" cy="956.23" r="1.5" fill="#666" opacity="0.19"/><circle cx="506.00" cy="942.05" r="1.5" fill="#666" opacity="0.34"/><circle cx="506.00" cy="986.28" r="1.5" fill="#666" opacity="0.85"/><circle cx="506.00" cy="934.73" r="1.5" fill="#666" opacity="0.36"/><circle cx="506.00" cy="947.63" r="1.5" fill="#666" opacity="0.21"/><circle cx="506.00" cy="971.05" r="1.5" fill="#666" opacity="0.22"/><circle cx="506.00" cy="970.95" r="1.5" fill="#666" opacity="0.35"/><circle cx="506.00" cy="968.82" r="1.5" fill="#666" opacity="0.35"/><circle cx="506.00" cy="950.40" r="1.5" fill="#666" opacity="0.29"/><circle cx="506.00" cy="958.17" r="1.5" fill="#666" opacity="0.41"/><circle cx="506.00" cy="951.86" r="1.5" fill="#666" opacity="0.40"/><circle cx="506.00" cy="972.31" r="1.5" fill="#666" opacity="0.37"/><circle cx="506.00" cy="960.35" r="1.5" fill="#666" opacity="0.31"/><circle cx="506.00" cy="967.31" r="1.5" fill="#666" opacity="0.40"/><circle cx="506.00" cy="982.49" r="1.5" fill="#666" opacity="0.85"/><circle cx="506.00" cy="972.49" r="1.5" fill="#666" opacity="0.35"/><circle cx="506.00" cy="974.36" r="1.5" fill="#666" opacity="0.40"/><circle cx="506.00" cy="967.11" r="1.5" fill="#666" opacity="0.25"/><circle cx="506.00" cy="965.36" r="1.5" fill="#666" opacity="0.22"/><circle cx="506.00" cy="981.24" r="1.5" fill="#666" opacity="0.85"/><circle cx="506.00" cy="985.96" r="1.5" fill="#666" opacity="0.85"/><circle cx="506.00" cy="981.90" r="1.5" fill="#666" opacity="0.85"/><circle cx="506.00" cy="966.21" r="1.5" fill="#666" opacity="0.25"/><circle cx="506.00" cy="961.76" r="1.5" fill="#666" opacity="0.22"/><circle cx="506.00" cy="974.01" r="1.5" fill="#666" opacity="0.23"/><circle cx="506.00" cy="985.65" r="1.5" fill="#666" opacity="0.85"/><circle cx="506.00" cy="971.19" r="1.5" fill="#666" opacity="0.20"/><circle cx="506.00" cy="979.34" r="1.5" fill="#666" opacity="0.85"/><circle cx="506.00" cy="979.66" r="1.5" fill="#666" opacity="0.85"/><circle cx="506.00" cy="950.82" r="1.5" fill="#666" opacity="0.30"/><circle cx="506.00" cy="952.97" r="1.5" fill="#666" opacity="0.20"/><circle cx="506.00" cy="981.86" r="1.5" fill="#666" opacity="0.85"/><circle cx="506.00" cy="952.15" r="1.5" fill="#666" opacity="0.41"/><circle cx="506.00" cy="973.02" r="1.5" fill="#666" opacity="0.36"/><circle cx="506.00" cy="980.06" r="1.5" fill="#666" opacity="0.85"/><circle cx="506.00" cy="941.61" r="1.5" fill="#666" opacity="0.40"/><circle cx="506.00" cy="935.27" r="1.5" fill="#666" opacity="0.28"/><circle cx="506.00" cy="960.52" r="1.5" fill="#666" opacity="0.20"/><circle cx="506.00" cy="985.25" r="1.5" fill="#666" opacity="0.85"/><circle cx="506.00" cy="944.55" r="1.5" fill="#666" opacity="0.24"/><circle cx="506.00" cy="973.16" r="1.5" fill="#666" opacity="0.30"/><circle cx="506.00" cy="961.32" r="1.5" fill="#666" opacity="0.24"/><circle cx="506.00" cy="984.55" r="1.5" fill="#666" opacity="0.85"/><circle cx="506.00" cy="985.81" r="1.5" fill="#666" opacity="0.85"/><circle cx="506.00" cy="960.18" r="1.5" fill="#666" opacity="0.37"/><circle cx="506.00" cy="950.10" r="1.5" fill="#666" opacity="0.30"/><circle cx="506.00" cy="975.42" r="1.5" fill="#666" opacity="0.36"/><circle cx="506.00" cy="981.18" r="1.5" fill="#666" opacity="0.85"/><circle cx="506.00" cy="985.98" r="1.5" fill="#666" opacity="0.85"/><circle cx="506.00" cy="986.07" r="1.5" fill="#666" opacity="0.85"/><circle cx="506.00" cy="968.55" r="1.5" fill="#666" opacity="0.26"/><circle cx="506.00" cy="986.31" r="1.5" fill="#666" opacity="0.85"/><circle cx="506.00" cy="946.30" r="1.5" fill="#666" opacity="0.22"/><circle cx="506.00" cy="944.73" r="1.5" fill="#666" opacity="0.27"/><circle cx="506.00" cy="977.63" r="1.5" fill="#666" opacity="0.31"/><circle cx="506.00" cy="959.19" r="1.5" fill="#666" opacity="0.30"/></g>
<line x1="506.00" y1="986.50" x2="506.00" y2="947.50" stroke="#111" stroke-width="3" stroke-linecap="round"/>
<line x1="506.00" y1="987.00" x2="506.00" y2="986.50" stroke="#555" stroke-width="1"/>
<line x1="497.30" y1="986.50" x2="514.70" y2="986.50" stroke="#333" stroke-width="1.2"/>
<rect x="487.80" y="987.00" width="36.40" height="121.20" fill="#fff" stroke="#111" stroke-width="1.6"/>
<line x1="487.80" y1="1020.00" x2="524.20" y2="1020.00" stroke="#111" stroke-width="1.6"/>
<text x="506.00" y="1069.20" font-size="10" text-anchor="middle">★</text>
<text x="506.00" y="1017.20" font-size="14.2" text-anchor="middle" textLength="24.80" lengthAdjust="spacingAndGlyphs">80.2</text>
<circle cx="570.70" cy="1017.00" r="1.5" fill="#999" opacity="0.69"/><circle cx="570.70" cy="1013.66" r="1.5" fill="#999" opacity="0.45"/><circle cx="570.70" cy="1008.73" r="1.5" fill="#999" opacity="0.49"/><circle cx="570.70" cy="1001.60" r="1.5" fill="#999" opacity="0.66"/><circle cx="570.70" cy="994.09" r="1.5" fill="#999" opacity="0.59"/><circle cx="570.70" cy="986.13" r="1.5" fill="#999" opacity="0.53"/><circle cx="570.70" cy="979.95" r="1.5" fill="#999" opacity="0.62"/><circle cx="570.70" cy="973.55" r="1.5" fill="#999" opacity="0.44"/><circle cx="570.70" cy="967.40" r="1.5" fill="#999" opacity="0.48"/>
<line x1="570.70" y1="1053.80" x2="570.70" y2="1021.00" stroke="#555" stroke-width="1"/>
<line x1="562.00" y1="1021.00" x2="579.40" y2="1021.00" stroke="#333" stroke-width="1.2"/>
<rect x="552.50" y="1053.80" width="36.40" height="54.40" fill="#fff" stroke="#111" stroke-width="1.6"/>
<line x1="552.50" y1="1069.80" x2="588.90" y2="1069.80" stroke="#111" stroke-width="1.6"/>
<text x="570.70" y="1110.20" font-size="10" text-anchor="middle">★</text>
<text x="570.70" y="1068.20" font-size="14.2" text-anchor="middle" textLength="19.40" lengthAdjust="spacingAndGlyphs">6.8</text>
<rect x="409.30" y="882.30" width="193.90" height="231.90" fill="none" stroke="#333" stroke-width="1.1"/>
<line x1="403.80" y1="1095.00" x2="409.30" y2="1095.00" stroke="#333" stroke-width="1"/>
<text x="396.00" y="1096.30" font-size="15" text-anchor="end" textLength="9.20" lengthAdjust="spacingAndGlyphs">1</text>
<line x1="403.80" y1="1067.04" x2="409.30" y2="1067.04" stroke="#333" stroke-width="1"/>
<text x="396.00" y="1068.34" font-size="15" text-anchor="end" textLength="9.20" lengthAdjust="spacingAndGlyphs">3</text>
<line x1="403.80" y1="1039.08" x2="409.30" y2="1039.08" stroke="#333" stroke-width="1"/>
<text x="396.00" y="1040.38" font-size="15" text-anchor="end" textLength="9.20" lengthAdjust="spacingAndGlyphs">5</text>
<line x1="403.80" y1="1011.12" x2="409.30" y2="1011.12" stroke="#333" stroke-width="1"/>
<text x="396.00" y="1012.42" font-size="15" text-anchor="end" textLength="9.20" lengthAdjust="spacingAndGlyphs">7</text>
<line x1="403.80" y1="983.16" x2="409.30" y2="983.16" stroke="#333" stroke-width="1"/>
<text x="396.00" y="984.46" font-size="15" text-anchor="end" textLength="9.20" lengthAdjust="spacingAndGlyphs">9</text>
<line x1="403.80" y1="955.20" x2="409.30" y2="955.20" stroke="#333" stroke-width="1"/>
<text x="396.00" y="956.50" font-size="15" text-anchor="end" textLength="17.50" lengthAdjust="spacingAndGlyphs">11</text>
<line x1="403.80" y1="927.24" x2="409.30" y2="927.24" stroke="#333" stroke-width="1"/>
<text x="396.00" y="928.54" font-size="15" text-anchor="end" textLength="17.50" lengthAdjust="spacingAndGlyphs">13</text>
<line x1="406.80" y1="1108.98" x2="409.30" y2="1108.98" stroke="#333" stroke-width="1"/>
<line x1="406.80" y1="1081.02" x2="409.30" y2="1081.02" stroke="#333" stroke-width="1"/>
<line x1="406.80" y1="1053.06" x2="409.30" y2="1053.06" stroke="#333" stroke-width="1"/>
<line x1="406.80" y1="1025.10" x2="409.30" y2="1025.10" stroke="#333" stroke-width="1"/>
<line x1="406.80" y1="997.14" x2="409.30" y2="997.14" stroke="#333" stroke-width="1"/>
<line x1="406.80" y1="969.18" x2="409.30" y2="969.18" stroke="#333" stroke-width="1"/>
<line x1="406.80" y1="941.22" x2="409.30" y2="941.22" stroke="#333" stroke-width="1"/>
<line x1="406.80" y1="913.26" x2="409.30" y2="913.26" stroke="#333" stroke-width="1"/>
<text x="343.30" y="998.20" font-size="18.5" text-anchor="middle" textLength="90.50" lengthAdjust="spacingAndGlyphs" transform="rotate(-90 343.30 998.20)">log<tspan font-size="13" dy="3.5">2</tspan><tspan dy="-3.5">(mean</tspan></text>
<text x="365.00" y="998.20" font-size="18.5" text-anchor="middle" textLength="135.40" lengthAdjust="spacingAndGlyphs" transform="rotate(-90 365.00 998.20)">reads of piRNA)</text>
<text x="464.00" y="900.00" font-size="13.5" textLength="70.00" lengthAdjust="spacingAndGlyphs"><tspan font-style="italic">P</tspan> = 1.68 × 10</text>
<text x="534.30" y="891.80" font-size="8.2" textLength="12.90" lengthAdjust="spacingAndGlyphs" fill="#777">−10</text>
<line x1="440.00" y1="900.80" x2="576.00" y2="900.80" stroke="#222" stroke-width="1"/>
<text x="499.00" y="917.50" font-size="13.5" textLength="72.00" lengthAdjust="spacingAndGlyphs"><tspan font-style="italic">P</tspan> = 3.28 × 10</text>
<text x="571.30" y="909.30" font-size="8.2" textLength="12.90" lengthAdjust="spacingAndGlyphs" fill="#777">−26</text>
<line x1="509.00" y1="918.80" x2="575.00" y2="918.80" stroke="#222" stroke-width="1"/>
<text x="415.80" y="933.50" font-size="13.5" textLength="70.00" lengthAdjust="spacingAndGlyphs"><tspan font-style="italic">P</tspan> = 7.12 × 10</text>
<text x="486.10" y="925.30" font-size="8.2" textLength="12.90" lengthAdjust="spacingAndGlyphs" fill="#777">−42</text>
<line x1="440.00" y1="933.70" x2="504.70" y2="933.70" stroke="#222" stroke-width="1"/>
<line x1="441.60" y1="1114.20" x2="441.60" y2="1118.70" stroke="#333" stroke-width="1"/>
<text x="441.60" y="1138.60" font-size="15.5" text-anchor="middle">I</text>
<line x1="506.00" y1="1114.20" x2="506.00" y2="1118.70" stroke="#333" stroke-width="1"/>
<text x="506.00" y="1138.60" font-size="15.5" text-anchor="middle">II</text>
<line x1="570.70" y1="1114.20" x2="570.70" y2="1118.70" stroke="#333" stroke-width="1"/>
<text x="570.70" y="1138.60" font-size="15.5" text-anchor="middle" textLength="25.00" lengthAdjust="spacingAndGlyphs">out</text>
<text x="359.60" y="1138.60" font-size="15.5" textLength="57.50" lengthAdjust="spacingAndGlyphs">Cluster:</text>
<text x="679.30" y="870.40" font-size="27" textLength="12.00" lengthAdjust="spacingAndGlyphs" font-weight="bold" fill="#000">i</text>
<rect x="866.00" y="886.00" width="51.03" height="31.70" fill="#9ad6b5"/>
<rect x="917.03" y="886.00" width="209.79" height="31.70" fill="#d8bcee"/>
<rect x="1126.82" y="886.00" width="22.68" height="31.70" fill="#808080"/>
<text x="854.60" y="905.80" font-size="15" text-anchor="end" textLength="148.60" lengthAdjust="spacingAndGlyphs">piRNA gene number</text>
<text x="866.80" y="911.20" font-size="16.2" textLength="28.30" lengthAdjust="spacingAndGlyphs">18%</text>
<text x="1023.50" y="911.20" font-size="16.2" text-anchor="middle" textLength="30.50" lengthAdjust="spacingAndGlyphs">74%</text>
<text x="1148.00" y="911.20" font-size="16.2" text-anchor="end" textLength="21.30" lengthAdjust="spacingAndGlyphs">8%</text>
<rect x="866.00" y="931.60" width="19.85" height="31.70" fill="#9ad6b5"/>
<rect x="885.85" y="931.60" width="261.39" height="31.70" fill="#d8bcee"/>
<rect x="1147.23" y="931.60" width="2.27" height="31.70" fill="#808080"/>
<line x1="917.03" y1="917.70" x2="885.85" y2="931.60" stroke="#222" stroke-width="1"/>
<line x1="1126.82" y1="917.70" x2="1147.23" y2="931.60" stroke="#222" stroke-width="1"/>
<text x="854.60" y="956.70" font-size="15" text-anchor="end" textLength="97.50" lengthAdjust="spacingAndGlyphs">N2 total rep 1</text>
<text x="866.80" y="957.00" font-size="16.2" textLength="20.00" lengthAdjust="spacingAndGlyphs">7%</text>
<text x="1023.50" y="957.00" font-size="16.2" text-anchor="middle" textLength="30.50" lengthAdjust="spacingAndGlyphs">92%</text>
<text x="1148.00" y="957.00" font-size="16.2" text-anchor="end" textLength="26.00" lengthAdjust="spacingAndGlyphs">&lt;1%</text>
<rect x="866.00" y="977.50" width="19.85" height="31.70" fill="#9ad6b5"/>
<rect x="885.85" y="977.50" width="261.39" height="31.70" fill="#d8bcee"/>
<rect x="1147.23" y="977.50" width="2.27" height="31.70" fill="#808080"/>
<line x1="885.85" y1="963.30" x2="885.85" y2="977.50" stroke="#222" stroke-width="1"/>
<line x1="1147.23" y1="963.30" x2="1147.23" y2="977.50" stroke="#222" stroke-width="1"/>
<text x="854.60" y="1002.00" font-size="15" text-anchor="end" textLength="100.40" lengthAdjust="spacingAndGlyphs">N2 total rep 2</text>
<text x="866.80" y="1002.20" font-size="16.2" textLength="20.00" lengthAdjust="spacingAndGlyphs">7%</text>
<text x="1023.50" y="1002.20" font-size="16.2" text-anchor="middle" textLength="30.50" lengthAdjust="spacingAndGlyphs">92%</text>
<text x="1148.00" y="1002.20" font-size="16.2" text-anchor="end" textLength="26.00" lengthAdjust="spacingAndGlyphs">&lt;1%</text>
<rect x="866.00" y="1022.50" width="14.17" height="31.70" fill="#9ad6b5"/>
<rect x="880.17" y="1022.50" width="267.06" height="31.70" fill="#d8bcee"/>
<rect x="1147.23" y="1022.50" width="2.27" height="31.70" fill="#808080"/>
<line x1="885.85" y1="1009.20" x2="880.17" y2="1022.50" stroke="#222" stroke-width="1"/>
<line x1="1147.23" y1="1009.20" x2="1147.23" y2="1022.50" stroke="#222" stroke-width="1"/>
<text x="854.60" y="1047.40" font-size="15" text-anchor="end" textLength="100.40" lengthAdjust="spacingAndGlyphs">PRG-1 IP rep 1</text>
<text x="866.80" y="1047.60" font-size="16.2" textLength="20.00" lengthAdjust="spacingAndGlyphs">5%</text>
<text x="1023.50" y="1047.60" font-size="16.2" text-anchor="middle" textLength="30.50" lengthAdjust="spacingAndGlyphs">94%</text>
<text x="1148.00" y="1047.60" font-size="16.2" text-anchor="end" textLength="26.00" lengthAdjust="spacingAndGlyphs">&lt;1%</text>
<rect x="866.00" y="1067.50" width="14.17" height="31.70" fill="#9ad6b5"/>
<rect x="880.17" y="1067.50" width="267.06" height="31.70" fill="#d8bcee"/>
<rect x="1147.23" y="1067.50" width="2.27" height="31.70" fill="#808080"/>
<line x1="880.17" y1="1054.20" x2="880.17" y2="1067.50" stroke="#222" stroke-width="1"/>
<line x1="1147.23" y1="1054.20" x2="1147.23" y2="1067.50" stroke="#222" stroke-width="1"/>
<text x="854.60" y="1092.40" font-size="15" text-anchor="end" textLength="102.30" lengthAdjust="spacingAndGlyphs">PRG-1 IP rep 2</text>
<text x="866.80" y="1092.60" font-size="16.2" textLength="20.00" lengthAdjust="spacingAndGlyphs">5%</text>
<text x="1023.50" y="1092.60" font-size="16.2" text-anchor="middle" textLength="30.50" lengthAdjust="spacingAndGlyphs">94%</text>
<text x="1148.00" y="1092.60" font-size="16.2" text-anchor="end" textLength="26.00" lengthAdjust="spacingAndGlyphs">&lt;1%</text>
<line x1="865.40" y1="884.00" x2="865.40" y2="1101.50" stroke="#666" stroke-width="1.2"/>
<line x1="1150.10" y1="884.00" x2="1150.10" y2="1101.50" stroke="#666" stroke-width="1.2"/>
<line x1="864.80" y1="1101.50" x2="1150.70" y2="1101.50" stroke="#444" stroke-width="1.2"/>
<line x1="864.80" y1="884.00" x2="1150.70" y2="884.00" stroke="#444" stroke-width="1.2"/>
<line x1="866.00" y1="878.50" x2="866.00" y2="884.00" stroke="#444" stroke-width="1"/>
<text x="866.00" y="869.60" font-size="14.7" text-anchor="middle" textLength="9.40" lengthAdjust="spacingAndGlyphs">0</text>
<line x1="877.34" y1="880.80" x2="877.34" y2="884.00" stroke="#444" stroke-width="1"/>
<line x1="888.68" y1="880.80" x2="888.68" y2="884.00" stroke="#444" stroke-width="1"/>
<line x1="900.02" y1="880.80" x2="900.02" y2="884.00" stroke="#444" stroke-width="1"/>
<line x1="911.36" y1="880.80" x2="911.36" y2="884.00" stroke="#444" stroke-width="1"/>
<line x1="922.70" y1="878.50" x2="922.70" y2="884.00" stroke="#444" stroke-width="1"/>
<text x="922.70" y="869.60" font-size="14.7" text-anchor="middle" textLength="19.10" lengthAdjust="spacingAndGlyphs">20</text>
<line x1="934.04" y1="880.80" x2="934.04" y2="884.00" stroke="#444" stroke-width="1"/>
<line x1="945.38" y1="880.80" x2="945.38" y2="884.00" stroke="#444" stroke-width="1"/>
<line x1="956.72" y1="880.80" x2="956.72" y2="884.00" stroke="#444" stroke-width="1"/>
<line x1="968.06" y1="880.80" x2="968.06" y2="884.00" stroke="#444" stroke-width="1"/>
<line x1="979.40" y1="878.50" x2="979.40" y2="884.00" stroke="#444" stroke-width="1"/>
<text x="979.40" y="869.60" font-size="14.7" text-anchor="middle" textLength="19.10" lengthAdjust="spacingAndGlyphs">40</text>
<line x1="990.74" y1="880.80" x2="990.74" y2="884.00" stroke="#444" stroke-width="1"/>
<line x1="1002.08" y1="880.80" x2="1002.08" y2="884.00" stroke="#444" stroke-width="1"/>
<line x1="1013.42" y1="880.80" x2="1013.42" y2="884.00" stroke="#444" stroke-width="1"/>
<line x1="1024.76" y1="880.80" x2="1024.76" y2="884.00" stroke="#444" stroke-width="1"/>
<line x1="1036.10" y1="878.50" x2="1036.10" y2="884.00" stroke="#444" stroke-width="1"/>
<text x="1036.10" y="869.60" font-size="14.7" text-anchor="middle" textLength="19.10" lengthAdjust="spacingAndGlyphs">60</text>
<line x1="1047.44" y1="880.80" x2="1047.44" y2="884.00" stroke="#444" stroke-width="1"/>
<line x1="1058.78" y1="880.80" x2="1058.78" y2="884.00" stroke="#444" stroke-width="1"/>
<line x1="1070.12" y1="880.80" x2="1070.12" y2="884.00" stroke="#444" stroke-width="1"/>
<line x1="1081.46" y1="880.80" x2="1081.46" y2="884.00" stroke="#444" stroke-width="1"/>
<line x1="1092.80" y1="878.50" x2="1092.80" y2="884.00" stroke="#444" stroke-width="1"/>
<text x="1092.80" y="869.60" font-size="14.7" text-anchor="middle" textLength="19.10" lengthAdjust="spacingAndGlyphs">80</text>
<line x1="1104.14" y1="880.80" x2="1104.14" y2="884.00" stroke="#444" stroke-width="1"/>
<line x1="1115.48" y1="880.80" x2="1115.48" y2="884.00" stroke="#444" stroke-width="1"/>
<line x1="1126.82" y1="880.80" x2="1126.82" y2="884.00" stroke="#444" stroke-width="1"/>
<line x1="1138.16" y1="880.80" x2="1138.16" y2="884.00" stroke="#444" stroke-width="1"/>
<line x1="1149.50" y1="878.50" x2="1149.50" y2="884.00" stroke="#444" stroke-width="1"/>
<text x="1149.50" y="869.60" font-size="14.7" text-anchor="middle" textLength="28.50" lengthAdjust="spacingAndGlyphs">100</text>
<text x="698.50" y="1011.20" font-size="19" text-anchor="middle" textLength="107.00" lengthAdjust="spacingAndGlyphs" transform="rotate(-90 698.50 1011.20)">piRNA reads</text>
<line x1="707.60" y1="931.60" x2="707.60" y2="1101.50" stroke="#222" stroke-width="1"/>
<rect x="819.40" y="1117.30" width="16.60" height="16.60" fill="#9ad6b5"/>
<text x="847.00" y="1130.60" font-size="16" textLength="61.60" lengthAdjust="spacingAndGlyphs">Cluster I</text>
<rect x="937.00" y="1117.30" width="16.70" height="16.60" fill="#d8bcee"/>
<text x="964.00" y="1130.60" font-size="16" textLength="66.00" lengthAdjust="spacingAndGlyphs">Cluster II</text>
<rect x="1058.60" y="1117.30" width="15.80" height="16.60" fill="#808080"/>
<text x="1085.70" y="1130.60" font-size="16" textLength="84.00" lengthAdjust="spacingAndGlyphs">Out-cluster</text>
</svg>
</body></html>
